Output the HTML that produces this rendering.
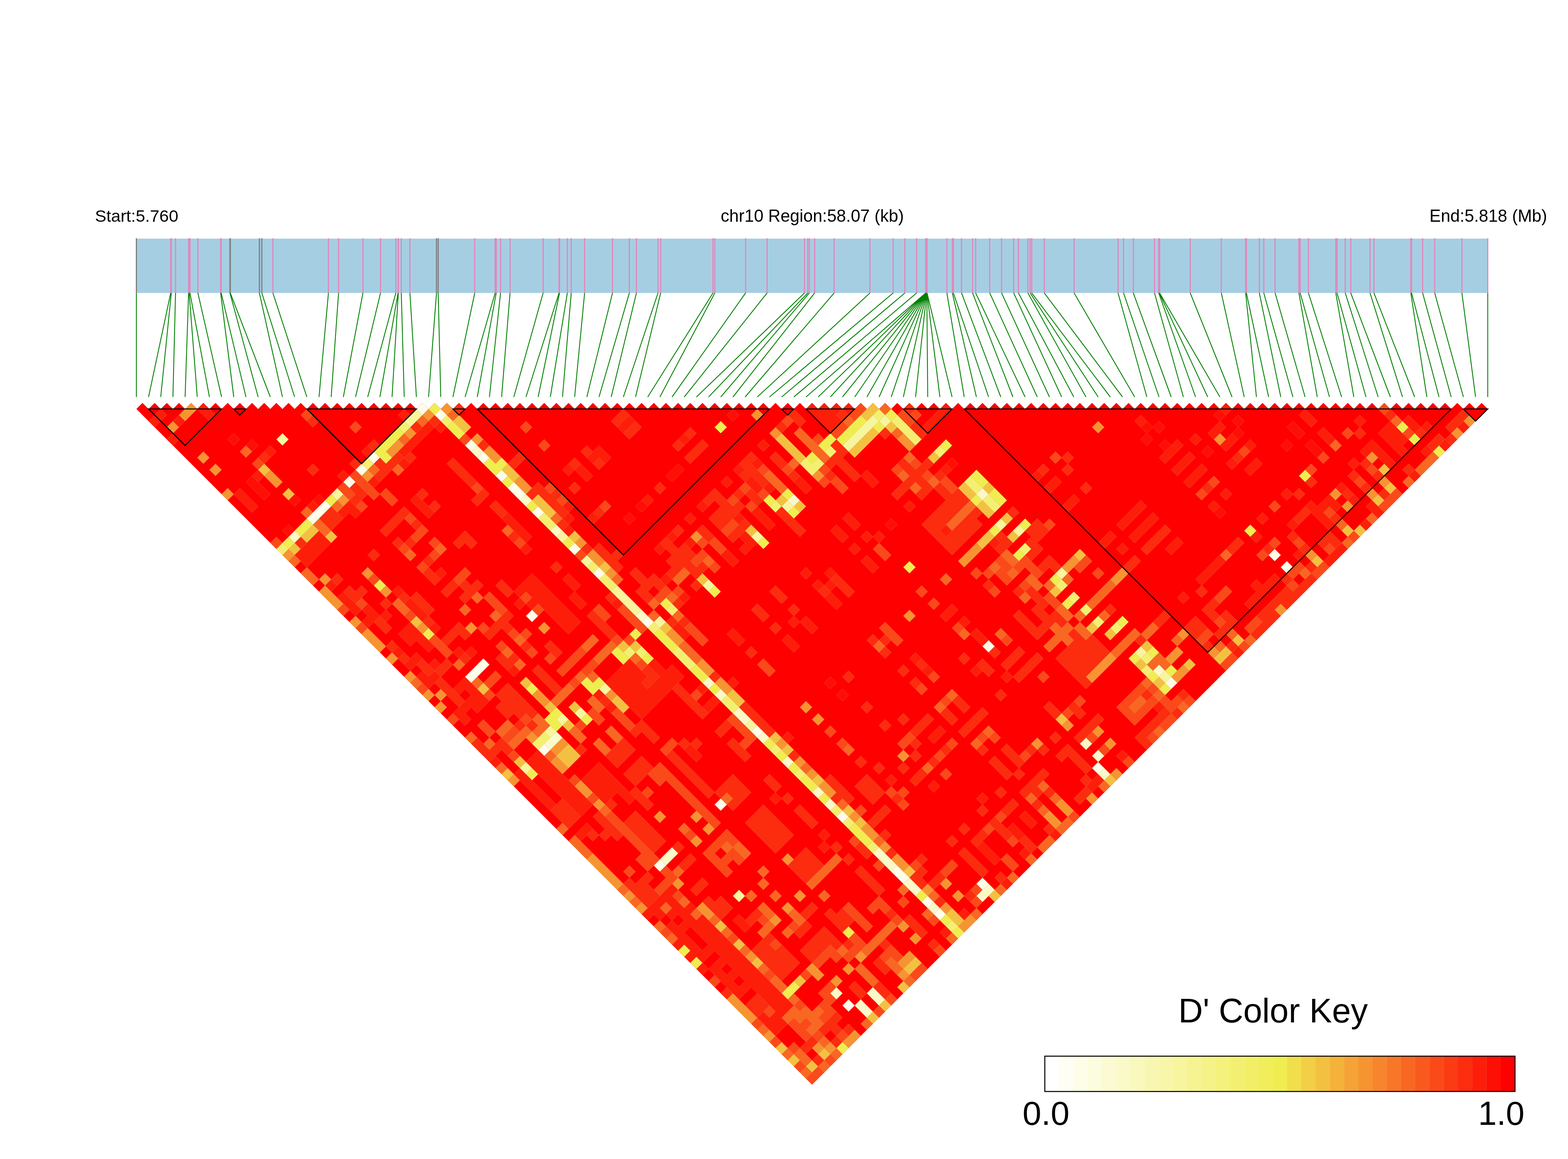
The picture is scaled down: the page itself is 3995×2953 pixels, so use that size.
<!DOCTYPE html>
<html lang="en"><head><meta charset="utf-8"><title>LD heatmap chr10</title>
<style>
html,body{margin:0;padding:0;background:#fff}
body{width:3995px;height:2953px;overflow:hidden}
svg{display:block}
text{font-family:"Liberation Sans",sans-serif;fill:#000}
</style></head>
<body>
<svg width="3995" height="2953" viewBox="0 0 3995 2953">
<rect width="3995" height="2953" fill="#fff"/>
<text x="242" y="565" font-size="43.4">Start:5.760</text>
<text x="2069.7" y="565" font-size="43.5" text-anchor="middle">chr10 Region:58.07 (kb)</text>
<text x="3941.8" y="565" font-size="43.5" text-anchor="end">End:5.818 (Mb)</text>
<rect x="347.5" y="608.0" width="3443.0" height="138.5" fill="#A6CEE3"/>
<path d="M347.5 607.0V746.5M585.8 607.0V746.5M586.8 607.0V746.5M660.9 607.0V746.5M667.1 607.0V746.5M1112.1 607.0V746.5M1116.4 607.0V746.5" stroke="#808080" stroke-width="3" fill="none"/>
<path d="M434.9 607.0V746.5M436.5 607.0V746.5M447.2 607.0V746.5M480.5 607.0V746.5M481.9 607.0V746.5M484.0 607.0V746.5M504.2 607.0V746.5M562.1 607.0V746.5M563.5 607.0V746.5M695.3 607.0V746.5M836.8 607.0V746.5M862.6 607.0V746.5M924.7 607.0V746.5M969.5 607.0V746.5M1008.5 607.0V746.5M1014.2 607.0V746.5M1014.9 607.0V746.5M1022.4 607.0V746.5M1044.4 607.0V746.5M1209.5 607.0V746.5M1261.6 607.0V746.5M1264.3 607.0V746.5M1275.3 607.0V746.5M1299.5 607.0V746.5M1383.8 607.0V746.5M1424.3 607.0V746.5M1425.6 607.0V746.5M1445.5 607.0V746.5M1455.4 607.0V746.5M1489.5 607.0V746.5M1560.5 607.0V746.5M1603.5 607.0V746.5M1621.5 607.0V746.5M1676.5 607.0V746.5M1683.2 607.0V746.5M1816.6 607.0V746.5M1821.2 607.0V746.5M1899.6 607.0V746.5M1954.4 607.0V746.5M2049.7 607.0V746.5M2058.0 607.0V746.5M2062.0 607.0V746.5M2075.6 607.0V746.5M2125.2 607.0V746.5M2216.5 607.0V746.5M2275.6 607.0V746.5M2305.4 607.0V746.5M2335.4 607.0V746.5M2358.6 607.0V746.5M2358.9 607.0V746.5M2359.2 607.0V746.5M2359.5 607.0V746.5M2359.8 607.0V746.5M2360.0 607.0V746.5M2360.2 607.0V746.5M2360.5 607.0V746.5M2360.8 607.0V746.5M2361.1 607.0V746.5M2361.4 607.0V746.5M2361.7 607.0V746.5M2362.0 607.0V746.5M2412.5 607.0V746.5M2426.4 607.0V746.5M2429.1 607.0V746.5M2449.8 607.0V746.5M2478.0 607.0V746.5M2485.8 607.0V746.5M2521.7 607.0V746.5M2551.8 607.0V746.5M2582.7 607.0V746.5M2594.8 607.0V746.5M2618.9 607.0V746.5M2624.6 607.0V746.5M2628.6 607.0V746.5M2660.7 607.0V746.5M2736.6 607.0V746.5M2848.6 607.0V746.5M2862.6 607.0V746.5M2887.5 607.0V746.5M2941.5 607.0V746.5M2952.2 607.0V746.5M2953.6 607.0V746.5M2954.6 607.0V746.5M3032.5 607.0V746.5M3111.7 607.0V746.5M3173.7 607.0V746.5M3175.6 607.0V746.5M3208.6 607.0V746.5M3219.9 607.0V746.5M3248.7 607.0V746.5M3309.4 607.0V746.5M3312.6 607.0V746.5M3333.6 607.0V746.5M3403.4 607.0V746.5M3406.6 607.0V746.5M3427.5 607.0V746.5M3441.5 607.0V746.5M3490.6 607.0V746.5M3500.5 607.0V746.5M3594.5 607.0V746.5M3596.4 607.0V746.5M3624.6 607.0V746.5M3655.4 607.0V746.5M3724.7 607.0V746.5M3790.5 607.0V746.5" stroke="#E088BC" stroke-width="3" fill="none"/>
<path d="M347.5 746.5L347.5 1011.5M434.9 746.5L378.5 1011.5M436.5 746.5L409.5 1011.5M447.2 746.5L440.6 1011.5M480.5 746.5L471.6 1011.5M481.9 746.5L502.6 1011.5M484.0 746.5L533.6 1011.5M504.2 746.5L564.6 1011.5M562.1 746.5L595.6 1011.5M563.5 746.5L626.7 1011.5M585.8 746.5L657.7 1011.5M586.8 746.5L688.7 1011.5M660.9 746.5L719.7 1011.5M667.1 746.5L750.7 1011.5M695.3 746.5L781.8 1011.5M836.8 746.5L812.8 1011.5M862.6 746.5L843.8 1011.5M924.7 746.5L874.8 1011.5M969.5 746.5L905.8 1011.5M1008.5 746.5L936.8 1011.5M1014.2 746.5L967.9 1011.5M1014.9 746.5L998.9 1011.5M1022.4 746.5L1029.9 1011.5M1044.4 746.5L1060.9 1011.5M1112.1 746.5L1091.9 1011.5M1116.4 746.5L1123.0 1011.5M1209.5 746.5L1154.0 1011.5M1261.6 746.5L1185.0 1011.5M1264.3 746.5L1216.0 1011.5M1275.3 746.5L1247.0 1011.5M1299.5 746.5L1278.0 1011.5M1383.8 746.5L1309.1 1011.5M1424.3 746.5L1340.1 1011.5M1425.6 746.5L1371.1 1011.5M1445.5 746.5L1402.1 1011.5M1455.4 746.5L1433.1 1011.5M1489.5 746.5L1464.1 1011.5M1560.5 746.5L1495.2 1011.5M1603.5 746.5L1526.2 1011.5M1621.5 746.5L1557.2 1011.5M1676.5 746.5L1588.2 1011.5M1683.2 746.5L1619.2 1011.5M1816.6 746.5L1650.3 1011.5M1821.2 746.5L1681.3 1011.5M1899.6 746.5L1712.3 1011.5M1954.4 746.5L1743.3 1011.5M2049.7 746.5L1774.3 1011.5M2058.0 746.5L1805.3 1011.5M2062.0 746.5L1836.4 1011.5M2075.6 746.5L1867.4 1011.5M2125.2 746.5L1898.4 1011.5M2216.5 746.5L1929.4 1011.5M2275.6 746.5L1960.4 1011.5M2305.4 746.5L1991.5 1011.5M2335.4 746.5L2022.5 1011.5M2358.6 746.5L2053.5 1011.5M2358.9 746.5L2084.5 1011.5M2359.2 746.5L2115.5 1011.5M2359.5 746.5L2146.5 1011.5M2359.8 746.5L2177.6 1011.5M2360.0 746.5L2208.6 1011.5M2360.2 746.5L2239.6 1011.5M2360.5 746.5L2270.6 1011.5M2360.8 746.5L2301.6 1011.5M2361.1 746.5L2332.7 1011.5M2361.4 746.5L2363.7 1011.5M2361.7 746.5L2394.7 1011.5M2362.0 746.5L2425.7 1011.5M2412.5 746.5L2456.7 1011.5M2426.4 746.5L2487.7 1011.5M2429.1 746.5L2518.8 1011.5M2449.8 746.5L2549.8 1011.5M2478.0 746.5L2580.8 1011.5M2485.8 746.5L2611.8 1011.5M2521.7 746.5L2642.8 1011.5M2551.8 746.5L2673.8 1011.5M2582.7 746.5L2704.9 1011.5M2594.8 746.5L2735.9 1011.5M2618.9 746.5L2766.9 1011.5M2624.6 746.5L2797.9 1011.5M2628.6 746.5L2828.9 1011.5M2660.7 746.5L2860.0 1011.5M2736.6 746.5L2891.0 1011.5M2848.6 746.5L2922.0 1011.5M2862.6 746.5L2953.0 1011.5M2887.5 746.5L2984.0 1011.5M2941.5 746.5L3015.0 1011.5M2952.2 746.5L3046.1 1011.5M2953.6 746.5L3077.1 1011.5M2954.6 746.5L3108.1 1011.5M3032.5 746.5L3139.1 1011.5M3111.7 746.5L3170.1 1011.5M3173.7 746.5L3201.2 1011.5M3175.6 746.5L3232.2 1011.5M3208.6 746.5L3263.2 1011.5M3219.9 746.5L3294.2 1011.5M3248.7 746.5L3325.2 1011.5M3309.4 746.5L3356.2 1011.5M3312.6 746.5L3387.3 1011.5M3333.6 746.5L3418.3 1011.5M3403.4 746.5L3449.3 1011.5M3406.6 746.5L3480.3 1011.5M3427.5 746.5L3511.3 1011.5M3441.5 746.5L3542.4 1011.5M3490.6 746.5L3573.4 1011.5M3500.5 746.5L3604.4 1011.5M3594.5 746.5L3635.4 1011.5M3596.4 746.5L3666.4 1011.5M3624.6 746.5L3697.4 1011.5M3655.4 746.5L3728.5 1011.5M3724.7 746.5L3759.5 1011.5M3790.5 746.5L3790.5 1011.5" stroke="#008000" stroke-width="2.2" fill="none"/>
<polygon points="347.5,1042.0 363.0,1026.5 378.5,1042.0 394.0,1026.5 409.5,1042.0 425.0,1026.5 440.6,1042.0 456.1,1026.5 471.6,1042.0 487.1,1026.5 502.6,1042.0 518.1,1026.5 533.6,1042.0 549.1,1026.5 564.6,1042.0 580.1,1026.5 595.6,1042.0 611.2,1026.5 626.7,1042.0 642.2,1026.5 657.7,1042.0 673.2,1026.5 688.7,1042.0 704.2,1026.5 719.7,1042.0 735.2,1026.5 750.7,1042.0 766.2,1026.5 781.8,1042.0 797.3,1026.5 812.8,1042.0 828.3,1026.5 843.8,1042.0 859.3,1026.5 874.8,1042.0 890.3,1026.5 905.8,1042.0 921.3,1026.5 936.8,1042.0 952.4,1026.5 967.9,1042.0 983.4,1026.5 998.9,1042.0 1014.4,1026.5 1029.9,1042.0 1045.4,1026.5 1060.9,1042.0 1076.4,1026.5 1091.9,1042.0 1107.4,1026.5 1123.0,1042.0 1138.5,1026.5 1154.0,1042.0 1169.5,1026.5 1185.0,1042.0 1200.5,1026.5 1216.0,1042.0 1231.5,1026.5 1247.0,1042.0 1262.5,1026.5 1278.0,1042.0 1293.5,1026.5 1309.1,1042.0 1324.6,1026.5 1340.1,1042.0 1355.6,1026.5 1371.1,1042.0 1386.6,1026.5 1402.1,1042.0 1417.6,1026.5 1433.1,1042.0 1448.6,1026.5 1464.1,1042.0 1479.7,1026.5 1495.2,1042.0 1510.7,1026.5 1526.2,1042.0 1541.7,1026.5 1557.2,1042.0 1572.7,1026.5 1588.2,1042.0 1603.7,1026.5 1619.2,1042.0 1634.7,1026.5 1650.3,1042.0 1665.8,1026.5 1681.3,1042.0 1696.8,1026.5 1712.3,1042.0 1727.8,1026.5 1743.3,1042.0 1758.8,1026.5 1774.3,1042.0 1789.8,1026.5 1805.3,1042.0 1820.9,1026.5 1836.4,1042.0 1851.9,1026.5 1867.4,1042.0 1882.9,1026.5 1898.4,1042.0 1913.9,1026.5 1929.4,1042.0 1944.9,1026.5 1960.4,1042.0 1975.9,1026.5 1991.5,1042.0 2007.0,1026.5 2022.5,1042.0 2038.0,1026.5 2053.5,1042.0 2069.0,1026.5 2084.5,1042.0 2100.0,1026.5 2115.5,1042.0 2131.0,1026.5 2146.5,1042.0 2162.1,1026.5 2177.6,1042.0 2193.1,1026.5 2208.6,1042.0 2224.1,1026.5 2239.6,1042.0 2255.1,1026.5 2270.6,1042.0 2286.1,1026.5 2301.6,1042.0 2317.1,1026.5 2332.7,1042.0 2348.2,1026.5 2363.7,1042.0 2379.2,1026.5 2394.7,1042.0 2410.2,1026.5 2425.7,1042.0 2441.2,1026.5 2456.7,1042.0 2472.2,1026.5 2487.7,1042.0 2503.3,1026.5 2518.8,1042.0 2534.3,1026.5 2549.8,1042.0 2565.3,1026.5 2580.8,1042.0 2596.3,1026.5 2611.8,1042.0 2627.3,1026.5 2642.8,1042.0 2658.3,1026.5 2673.8,1042.0 2689.4,1026.5 2704.9,1042.0 2720.4,1026.5 2735.9,1042.0 2751.4,1026.5 2766.9,1042.0 2782.4,1026.5 2797.9,1042.0 2813.4,1026.5 2828.9,1042.0 2844.4,1026.5 2860.0,1042.0 2875.5,1026.5 2891.0,1042.0 2906.5,1026.5 2922.0,1042.0 2937.5,1026.5 2953.0,1042.0 2968.5,1026.5 2984.0,1042.0 2999.5,1026.5 3015.0,1042.0 3030.6,1026.5 3046.1,1042.0 3061.6,1026.5 3077.1,1042.0 3092.6,1026.5 3108.1,1042.0 3123.6,1026.5 3139.1,1042.0 3154.6,1026.5 3170.1,1042.0 3185.6,1026.5 3201.2,1042.0 3216.7,1026.5 3232.2,1042.0 3247.7,1026.5 3263.2,1042.0 3278.7,1026.5 3294.2,1042.0 3309.7,1026.5 3325.2,1042.0 3340.7,1026.5 3356.2,1042.0 3371.8,1026.5 3387.3,1042.0 3402.8,1026.5 3418.3,1042.0 3433.8,1026.5 3449.3,1042.0 3464.8,1026.5 3480.3,1042.0 3495.8,1026.5 3511.3,1042.0 3526.8,1026.5 3542.4,1042.0 3557.9,1026.5 3573.4,1042.0 3588.9,1026.5 3604.4,1042.0 3619.9,1026.5 3635.4,1042.0 3650.9,1026.5 3666.4,1042.0 3681.9,1026.5 3697.4,1042.0 3713.0,1026.5 3728.5,1042.0 3744.0,1026.5 3759.5,1042.0 3775.0,1026.5 3790.5,1042.0 2069.0,2763.5" fill="#FF0000"/>
<path d="M797.261 1305.65l15.509 15.509-15.509 15.509-15.509-15.509zM1200.49 1708.89l15.509 15.509-15.509 15.509-15.509-15.509zM1386.6 1894.99l15.509 15.509-15.509 15.509-15.509-15.509zM1681.27 2189.67l15.509 15.509-15.509 15.509-15.509-15.509zM812.77 1290.14l15.509 15.509-15.509 15.509-15.509-15.509zM1216 1693.38l15.509 15.509-15.509 15.509-15.509-15.509zM828.279 1274.63l15.509 15.509-15.509 15.509-15.509-15.509zM1231.51 1677.87l15.509 15.509-15.509 15.509-15.509-15.509zM2162.05 2546.37l15.509 15.509-15.509 15.509-15.509-15.509zM890.315 1212.6l15.509 15.509-15.509 15.509-15.509-15.509zM921.333 1181.58l15.509 15.509-15.509 15.509-15.509-15.509zM952.351 1150.56l15.509 15.509-15.509 15.509-15.509-15.509zM1355.59 1553.8l15.509 15.509-15.509 15.509-15.509-15.509zM1836.36 2034.58l15.509 15.509-15.509 15.509-15.509-15.509zM1076.42 1026.49l15.509 15.509-15.509 15.509-15.509-15.509zM1122.95 1042l15.509 15.509-15.509 15.509-15.509-15.509zM1200.49 1119.55l15.509 15.509-15.509 15.509-15.509-15.509zM1231.51 1150.56l15.509 15.509-15.509 15.509-15.509-15.509zM1278.04 1197.09l15.509 15.509-15.509 15.509-15.509-15.509zM1309.06 1228.11l15.509 15.509-15.509 15.509-15.509-15.509zM1324.57 1243.62l15.509 15.509-15.509 15.509-15.509-15.509zM1371.09 1290.14l15.509 15.509-15.509 15.509-15.509-15.509zM1464.15 1383.2l15.509 15.509-15.509 15.509-15.509-15.509zM1526.18 1445.23l15.509 15.509-15.509 15.509-15.509-15.509zM1650.26 1569.31l15.509 15.509-15.509 15.509-15.509-15.509zM1929.42 1848.47l15.509 15.509-15.509 15.509-15.509-15.509zM2146.54 2065.59l15.509 15.509-15.509 15.509-15.509-15.509zM2286.12 2205.18l15.509 15.509-15.509 15.509-15.509-15.509zM2301.63 2220.68l15.509 15.509-15.509 15.509-15.509-15.509zM2363.67 2282.72l15.509 15.509-15.509 15.509-15.509-15.509zM2394.69 2313.74l15.509 15.509-15.509 15.509-15.509-15.509zM2503.25 2236.19l15.509 15.509-15.509 15.509-15.509-15.509zM2797.92 1941.52l15.509 15.509-15.509 15.509-15.509-15.509zM2518.76 1631.34l15.509 15.509-15.509 15.509-15.509-15.509zM2984.03 1724.4l15.509 15.509-15.509 15.509-15.509-15.509zM3247.68 1398.71l15.509 15.509-15.509 15.509-15.509-15.509zM3278.7 1429.72l15.509 15.509-15.509 15.509-15.509-15.509z" fill="#FDFDE9"/>
<path d="M750.734 1352.18l15.509 15.509-15.509 15.509-15.509-15.509zM1402.11 1879.49l15.509 15.509-15.509 15.509-15.509-15.509zM1696.78 2174.16l15.509 15.509-15.509 15.509-15.509-15.509zM1417.62 1863.98l15.509 15.509-15.509 15.509-15.509-15.509zM1712.29 2158.65l15.509 15.509-15.509 15.509-15.509-15.509zM2131.03 2515.36l15.509 15.509-15.509 15.509-15.509-15.509zM2193.07 2546.37l15.509 15.509-15.509 15.509-15.509-15.509zM2208.58 2561.88l15.509 15.509-15.509 15.509-15.509-15.509zM2224.09 2515.36l15.509 15.509-15.509 15.509-15.509-15.509zM2239.6 2530.86l15.509 15.509-15.509 15.509-15.509-15.509zM1216 1135.05l15.509 15.509-15.509 15.509-15.509-15.509zM1340.08 1259.13l15.509 15.509-15.509 15.509-15.509-15.509zM1417.62 1336.67l15.509 15.509-15.509 15.509-15.509-15.509zM1634.75 1553.8l15.509 15.509-15.509 15.509-15.509-15.509zM1805.35 1724.4l15.509 15.509-15.509 15.509-15.509-15.509zM1836.36 1755.41l15.509 15.509-15.509 15.509-15.509-15.509zM1882.89 1801.94l15.509 15.509-15.509 15.509-15.509-15.509zM1898.4 1817.45l15.509 15.509-15.509 15.509-15.509-15.509zM1944.93 1863.98l15.509 15.509-15.509 15.509-15.509-15.509zM2006.96 1926.01l15.509 15.509-15.509 15.509-15.509-15.509zM2084.51 2003.56l15.509 15.509-15.509 15.509-15.509-15.509zM2115.53 2034.58l15.509 15.509-15.509 15.509-15.509-15.509zM2239.6 2158.65l15.509 15.509-15.509 15.509-15.509-15.509zM2255.11 2174.16l15.509 15.509-15.509 15.509-15.509-15.509zM2270.62 2189.67l15.509 15.509-15.509 15.509-15.509-15.509zM2317.14 2236.19l15.509 15.509-15.509 15.509-15.509-15.509zM2332.65 2251.7l15.509 15.509-15.509 15.509-15.509-15.509zM2379.18 2298.23l15.509 15.509-15.509 15.509-15.509-15.509zM2503.25 2267.21l15.509 15.509-15.509 15.509-15.509-15.509zM2518.76 2251.7l15.509 15.509-15.509 15.509-15.509-15.509zM2022.47 1259.13l15.509 15.509-15.509 15.509-15.509-15.509zM2813.43 1957.03l15.509 15.509-15.509 15.509-15.509-15.509zM2766.9 1879.49l15.509 15.509-15.509 15.509-15.509-15.509zM2797.92 1910.5l15.509 15.509-15.509 15.509-15.509-15.509zM2503.25 1243.62l15.509 15.509-15.509 15.509-15.509-15.509zM2953.01 1693.38l15.509 15.509-15.509 15.509-15.509-15.509z" fill="#FAF9C8"/>
<path d="M1340.08 1941.52l15.509 15.509-15.509 15.509-15.509-15.509zM1402.11 1848.47l15.509 15.509-15.509 15.509-15.509-15.509zM719.716 1104.04l15.509 15.509-15.509 15.509-15.509-15.509zM859.297 1243.62l15.509 15.509-15.509 15.509-15.509-15.509zM1433.13 1817.45l15.509 15.509-15.509 15.509-15.509-15.509zM1882.89 2267.21l15.509 15.509-15.509 15.509-15.509-15.509zM1479.66 1801.94l15.509 15.509-15.509 15.509-15.509-15.509zM1541.69 1739.9l15.509 15.509-15.509 15.509-15.509-15.509zM1045.4 1057.51l15.509 15.509-15.509 15.509-15.509-15.509zM1060.91 1042l15.509 15.509-15.509 15.509-15.509-15.509zM1433.13 1352.18l15.509 15.509-15.509 15.509-15.509-15.509zM1495.17 1414.22l15.509 15.509-15.509 15.509-15.509-15.509zM1572.71 1491.76l15.509 15.509-15.509 15.509-15.509-15.509zM1588.22 1507.27l15.509 15.509-15.509 15.509-15.509-15.509zM1603.73 1522.78l15.509 15.509-15.509 15.509-15.509-15.509zM1619.24 1538.29l15.509 15.509-15.509 15.509-15.509-15.509zM1913.91 1832.96l15.509 15.509-15.509 15.509-15.509-15.509zM1681.27 1569.31l15.509 15.509-15.509 15.509-15.509-15.509zM1805.35 1476.25l15.509 15.509-15.509 15.509-15.509-15.509zM1929.42 1352.18l15.509 15.509-15.509 15.509-15.509-15.509zM2006.96 1274.63l15.509 15.509-15.509 15.509-15.509-15.509zM2162.05 1119.55l15.509 15.509-15.509 15.509-15.509-15.509zM2177.56 1104.04l15.509 15.509-15.509 15.509-15.509-15.509zM2193.07 1088.53l15.509 15.509-15.509 15.509-15.509-15.509zM2208.58 1073.02l15.509 15.509-15.509 15.509-15.509-15.509zM2224.09 1057.51l15.509 15.509-15.509 15.509-15.509-15.509zM2255.11 1057.51l15.509 15.509-15.509 15.509-15.509-15.509zM2549.78 1321.16l15.509 15.509-15.509 15.509-15.509-15.509zM2596.3 1336.67l15.509 15.509-15.509 15.509-15.509-15.509zM2704.87 1445.23l15.509 15.509-15.509 15.509-15.509-15.509zM2906.49 1646.85l15.509 15.509-15.509 15.509-15.509-15.509zM2968.52 1708.89l15.509 15.509-15.509 15.509-15.509-15.509z" fill="#F7F59D"/>
<path d="M719.716 1383.2l15.509 15.509-15.509 15.509-15.509-15.509zM1371.09 1879.49l15.509 15.509-15.509 15.509-15.509-15.509zM1386.6 1863.98l15.509 15.509-15.509 15.509-15.509-15.509zM936.842 1166.07l15.509 15.509-15.509 15.509-15.509-15.509zM1029.9 1073.02l15.509 15.509-15.509 15.509-15.509-15.509zM1603.73 1646.85l15.509 15.509-15.509 15.509-15.509-15.509zM1634.75 1646.85l15.509 15.509-15.509 15.509-15.509-15.509zM1138.46 1057.51l15.509 15.509-15.509 15.509-15.509-15.509zM1386.6 1305.65l15.509 15.509-15.509 15.509-15.509-15.509zM1402.11 1321.16l15.509 15.509-15.509 15.509-15.509-15.509zM1510.67 1429.72l15.509 15.509-15.509 15.509-15.509-15.509zM1541.69 1460.74l15.509 15.509-15.509 15.509-15.509-15.509zM1557.2 1476.25l15.509 15.509-15.509 15.509-15.509-15.509zM1665.77 1584.82l15.509 15.509-15.509 15.509-15.509-15.509zM1727.8 1646.85l15.509 15.509-15.509 15.509-15.509-15.509zM1743.31 1662.36l15.509 15.509-15.509 15.509-15.509-15.509zM1758.82 1677.87l15.509 15.509-15.509 15.509-15.509-15.509zM1851.87 1770.92l15.509 15.509-15.509 15.509-15.509-15.509zM1867.38 1786.43l15.509 15.509-15.509 15.509-15.509-15.509zM1975.94 1894.99l15.509 15.509-15.509 15.509-15.509-15.509zM2037.98 1957.03l15.509 15.509-15.509 15.509-15.509-15.509zM2131.03 2050.09l15.509 15.509-15.509 15.509-15.509-15.509zM2162.05 2081.1l15.509 15.509-15.509 15.509-15.509-15.509zM2224.09 2143.14l15.509 15.509-15.509 15.509-15.509-15.509zM2425.71 2344.76l15.509 15.509-15.509 15.509-15.509-15.509zM1712.29 1538.29l15.509 15.509-15.509 15.509-15.509-15.509zM1975.94 1274.63l15.509 15.509-15.509 15.509-15.509-15.509zM2053.49 1166.07l15.509 15.509-15.509 15.509-15.509-15.509zM2069 1181.58l15.509 15.509-15.509 15.509-15.509-15.509zM2084.51 1166.07l15.509 15.509-15.509 15.509-15.509-15.509zM2115.53 1135.05l15.509 15.509-15.509 15.509-15.509-15.509zM2239.6 1042l15.509 15.509-15.509 15.509-15.509-15.509zM2286.12 1057.51l15.509 15.509-15.509 15.509-15.509-15.509zM2301.63 1073.02l15.509 15.509-15.509 15.509-15.509-15.509zM2317.14 1088.53l15.509 15.509-15.509 15.509-15.509-15.509zM2332.65 1104.04l15.509 15.509-15.509 15.509-15.509-15.509zM2611.81 1383.2l15.509 15.509-15.509 15.509-15.509-15.509zM2704.87 1476.25l15.509 15.509-15.509 15.509-15.509-15.509zM2735.89 1507.27l15.509 15.509-15.509 15.509-15.509-15.509zM2766.9 1538.29l15.509 15.509-15.509 15.509-15.509-15.509zM2797.92 1569.31l15.509 15.509-15.509 15.509-15.509-15.509zM2921.99 1693.38l15.509 15.509-15.509 15.509-15.509-15.509zM2394.69 1135.05l15.509 15.509-15.509 15.509-15.509-15.509zM2472.23 1212.6l15.509 15.509-15.509 15.509-15.509-15.509zM2487.74 1228.11l15.509 15.509-15.509 15.509-15.509-15.509zM2518.76 1259.13l15.509 15.509-15.509 15.509-15.509-15.509zM2534.27 1274.63l15.509 15.509-15.509 15.509-15.509-15.509zM2844.45 1584.82l15.509 15.509-15.509 15.509-15.509-15.509zM2921.99 1662.36l15.509 15.509-15.509 15.509-15.509-15.509z" fill="#F3F071"/>
<path d="M1743.31 2406.79l15.509 15.509-15.509 15.509-15.509-15.509zM1774.33 2437.81l15.509 15.509-15.509 15.509-15.509-15.509zM735.225 1367.69l15.509 15.509-15.509 15.509-15.509-15.509zM1355.59 1957.03l15.509 15.509-15.509 15.509-15.509-15.509zM766.243 1336.67l15.509 15.509-15.509 15.509-15.509-15.509zM781.752 1321.16l15.509 15.509-15.509 15.509-15.509-15.509zM967.86 1476.25l15.509 15.509-15.509 15.509-15.509-15.509zM1091.93 1600.32l15.509 15.509-15.509 15.509-15.509-15.509zM2006.96 2515.36l15.509 15.509-15.509 15.509-15.509-15.509zM2146.54 2654.94l15.509 15.509-15.509 15.509-15.509-15.509zM2022.47 2499.85l15.509 15.509-15.509 15.509-15.509-15.509zM843.788 1259.13l15.509 15.509-15.509 15.509-15.509-15.509zM1402.11 1817.45l15.509 15.509-15.509 15.509-15.509-15.509zM1417.62 1832.96l15.509 15.509-15.509 15.509-15.509-15.509zM1355.59 1739.9l15.509 15.509-15.509 15.509-15.509-15.509zM1417.62 1801.94l15.509 15.509-15.509 15.509-15.509-15.509zM1495.17 1817.45l15.509 15.509-15.509 15.509-15.509-15.509zM1495.17 1724.4l15.509 15.509-15.509 15.509-15.509-15.509zM1510.67 1739.9l15.509 15.509-15.509 15.509-15.509-15.509zM1526.18 1724.4l15.509 15.509-15.509 15.509-15.509-15.509zM2162.05 2360.27l15.509 15.509-15.509 15.509-15.509-15.509zM967.86 1135.05l15.509 15.509-15.509 15.509-15.509-15.509zM983.369 1150.56l15.509 15.509-15.509 15.509-15.509-15.509zM983.369 1119.55l15.509 15.509-15.509 15.509-15.509-15.509zM998.878 1104.04l15.509 15.509-15.509 15.509-15.509-15.509zM1014.39 1088.53l15.509 15.509-15.509 15.509-15.509-15.509zM1572.71 1646.85l15.509 15.509-15.509 15.509-15.509-15.509zM1588.22 1662.36l15.509 15.509-15.509 15.509-15.509-15.509zM1650.26 1662.36l15.509 15.509-15.509 15.509-15.509-15.509zM1619.24 1600.32l15.509 15.509-15.509 15.509-15.509-15.509zM1107.44 1026.49l15.509 15.509-15.509 15.509-15.509-15.509zM1153.97 1073.02l15.509 15.509-15.509 15.509-15.509-15.509zM1169.48 1088.53l15.509 15.509-15.509 15.509-15.509-15.509zM1247.02 1166.07l15.509 15.509-15.509 15.509-15.509-15.509zM1262.53 1181.58l15.509 15.509-15.509 15.509-15.509-15.509zM1293.55 1212.6l15.509 15.509-15.509 15.509-15.509-15.509zM1355.59 1274.63l15.509 15.509-15.509 15.509-15.509-15.509zM1448.64 1367.69l15.509 15.509-15.509 15.509-15.509-15.509zM1681.27 1600.32l15.509 15.509-15.509 15.509-15.509-15.509zM1696.78 1615.83l15.509 15.509-15.509 15.509-15.509-15.509zM1712.29 1631.34l15.509 15.509-15.509 15.509-15.509-15.509zM1774.33 1693.38l15.509 15.509-15.509 15.509-15.509-15.509zM1789.84 1708.89l15.509 15.509-15.509 15.509-15.509-15.509zM1820.86 1739.9l15.509 15.509-15.509 15.509-15.509-15.509zM1960.44 1879.49l15.509 15.509-15.509 15.509-15.509-15.509zM1991.45 1910.5l15.509 15.509-15.509 15.509-15.509-15.509zM2022.47 1941.52l15.509 15.509-15.509 15.509-15.509-15.509zM2053.49 1972.54l15.509 15.509-15.509 15.509-15.509-15.509zM2069 1988.05l15.509 15.509-15.509 15.509-15.509-15.509zM2100.02 2019.07l15.509 15.509-15.509 15.509-15.509-15.509zM2177.56 2096.61l15.509 15.509-15.509 15.509-15.509-15.509zM2193.07 2112.12l15.509 15.509-15.509 15.509-15.509-15.509zM2208.58 2127.63l15.509 15.509-15.509 15.509-15.509-15.509zM2348.16 2267.21l15.509 15.509-15.509 15.509-15.509-15.509zM2410.2 2329.25l15.509 15.509-15.509 15.509-15.509-15.509zM2441.22 2360.27l15.509 15.509-15.509 15.509-15.509-15.509zM1278.04 1166.07l15.509 15.509-15.509 15.509-15.509-15.509zM1696.78 1522.78l15.509 15.509-15.509 15.509-15.509-15.509zM1820.86 1491.76l15.509 15.509-15.509 15.509-15.509-15.509zM1944.93 1367.69l15.509 15.509-15.509 15.509-15.509-15.509zM1960.44 1259.13l15.509 15.509-15.509 15.509-15.509-15.509zM2022.47 1290.14l15.509 15.509-15.509 15.509-15.509-15.509zM1836.36 1073.02l15.509 15.509-15.509 15.509-15.509-15.509zM2006.96 1243.62l15.509 15.509-15.509 15.509-15.509-15.509zM2317.14 1429.72l15.509 15.509-15.509 15.509-15.509-15.509zM2069 1150.56l15.509 15.509-15.509 15.509-15.509-15.509zM2100.02 1119.55l15.509 15.509-15.509 15.509-15.509-15.509zM2115.53 1104.04l15.509 15.509-15.509 15.509-15.509-15.509zM2146.54 1104.04l15.509 15.509-15.509 15.509-15.509-15.509zM2162.05 1088.53l15.509 15.509-15.509 15.509-15.509-15.509zM2177.56 1073.02l15.509 15.509-15.509 15.509-15.509-15.509zM2193.07 1057.51l15.509 15.509-15.509 15.509-15.509-15.509zM2239.6 1073.02l15.509 15.509-15.509 15.509-15.509-15.509zM2534.27 1336.67l15.509 15.509-15.509 15.509-15.509-15.509zM2596.3 1398.71l15.509 15.509-15.509 15.509-15.509-15.509zM2720.38 1522.78l15.509 15.509-15.509 15.509-15.509-15.509zM2270.62 1042l15.509 15.509-15.509 15.509-15.509-15.509zM2487.74 1259.13l15.509 15.509-15.509 15.509-15.509-15.509zM2689.36 1460.74l15.509 15.509-15.509 15.509-15.509-15.509zM2890.98 1662.36l15.509 15.509-15.509 15.509-15.509-15.509zM2937.5 1708.89l15.509 15.509-15.509 15.509-15.509-15.509zM2968.52 1739.9l15.509 15.509-15.509 15.509-15.509-15.509zM2410.2 1119.55l15.509 15.509-15.509 15.509-15.509-15.509zM2487.74 1197.09l15.509 15.509-15.509 15.509-15.509-15.509zM2503.25 1212.6l15.509 15.509-15.509 15.509-15.509-15.509zM2534.27 1243.62l15.509 15.509-15.509 15.509-15.509-15.509zM2549.78 1259.13l15.509 15.509-15.509 15.509-15.509-15.509zM2611.81 1321.16l15.509 15.509-15.509 15.509-15.509-15.509zM2859.96 1569.31l15.509 15.509-15.509 15.509-15.509-15.509zM2937.5 1646.85l15.509 15.509-15.509 15.509-15.509-15.509zM2984.03 1693.38l15.509 15.509-15.509 15.509-15.509-15.509zM3185.65 1336.67l15.509 15.509-15.509 15.509-15.509-15.509zM3325.23 1197.09l15.509 15.509-15.509 15.509-15.509-15.509zM3573.37 1073.02l15.509 15.509-15.509 15.509-15.509-15.509zM3604.39 1104.04l15.509 15.509-15.509 15.509-15.509-15.509zM3666.43 1135.05l15.509 15.509-15.509 15.509-15.509-15.509z" fill="#F0ED50"/>
<path d="M1293.55 1957.03l15.509 15.509-15.509 15.509-15.509-15.509zM1991.45 2654.94l15.509 15.509-15.509 15.509-15.509-15.509zM2022.47 2685.95l15.509 15.509-15.509 15.509-15.509-15.509zM750.734 1383.2l15.509 15.509-15.509 15.509-15.509-15.509zM2069 2701.46l15.509 15.509-15.509 15.509-15.509-15.509zM1324.57 1926.01l15.509 15.509-15.509 15.509-15.509-15.509zM781.752 1352.18l15.509 15.509-15.509 15.509-15.509-15.509zM2100.02 2670.44l15.509 15.509-15.509 15.509-15.509-15.509zM797.261 1336.67l15.509 15.509-15.509 15.509-15.509-15.509zM673.189 1181.58l15.509 15.509-15.509 15.509-15.509-15.509zM735.225 1243.62l15.509 15.509-15.509 15.509-15.509-15.509zM843.788 1352.18l15.509 15.509-15.509 15.509-15.509-15.509zM1060.91 1569.31l15.509 15.509-15.509 15.509-15.509-15.509zM1231.51 1739.9l15.509 15.509-15.509 15.509-15.509-15.509zM1836.36 2344.76l15.509 15.509-15.509 15.509-15.509-15.509zM1882.89 2391.28l15.509 15.509-15.509 15.509-15.509-15.509zM1929.42 2437.81l15.509 15.509-15.509 15.509-15.509-15.509zM1433.13 1910.5l15.509 15.509-15.509 15.509-15.509-15.509zM1448.64 1926.01l15.509 15.509-15.509 15.509-15.509-15.509zM1448.64 1894.99l15.509 15.509-15.509 15.509-15.509-15.509zM1464.15 1910.5l15.509 15.509-15.509 15.509-15.509-15.509zM2037.98 2484.34l15.509 15.509-15.509 15.509-15.509-15.509zM1340.08 1724.4l15.509 15.509-15.509 15.509-15.509-15.509zM1402.11 1786.43l15.509 15.509-15.509 15.509-15.509-15.509zM1448.64 1832.96l15.509 15.509-15.509 15.509-15.509-15.509zM2224.09 2577.39l15.509 15.509-15.509 15.509-15.509-15.509zM1464.15 1786.43l15.509 15.509-15.509 15.509-15.509-15.509zM2255.11 2546.37l15.509 15.509-15.509 15.509-15.509-15.509zM1572.71 1770.92l15.509 15.509-15.509 15.509-15.509-15.509zM1588.22 1786.43l15.509 15.509-15.509 15.509-15.509-15.509zM2301.63 2499.85l15.509 15.509-15.509 15.509-15.509-15.509zM2317.14 2453.32l15.509 15.509-15.509 15.509-15.509-15.509zM2332.65 2437.81l15.509 15.509-15.509 15.509-15.509-15.509zM1588.22 1631.34l15.509 15.509-15.509 15.509-15.509-15.509zM1619.24 1631.34l15.509 15.509-15.509 15.509-15.509-15.509zM1169.48 1057.51l15.509 15.509-15.509 15.509-15.509-15.509zM1184.99 1073.02l15.509 15.509-15.509 15.509-15.509-15.509zM1293.55 1181.58l15.509 15.509-15.509 15.509-15.509-15.509zM1309.06 1197.09l15.509 15.509-15.509 15.509-15.509-15.509zM1371.09 1259.13l15.509 15.509-15.509 15.509-15.509-15.509zM1386.6 1274.63l15.509 15.509-15.509 15.509-15.509-15.509zM1402.11 1290.14l15.509 15.509-15.509 15.509-15.509-15.509zM1464.15 1352.18l15.509 15.509-15.509 15.509-15.509-15.509zM1541.69 1429.72l15.509 15.509-15.509 15.509-15.509-15.509zM1696.78 1584.82l15.509 15.509-15.509 15.509-15.509-15.509zM1867.38 1755.41l15.509 15.509-15.509 15.509-15.509-15.509zM1882.89 1770.92l15.509 15.509-15.509 15.509-15.509-15.509zM1975.94 1863.98l15.509 15.509-15.509 15.509-15.509-15.509zM2006.96 1894.99l15.509 15.509-15.509 15.509-15.509-15.509zM2084.51 1972.54l15.509 15.509-15.509 15.509-15.509-15.509zM2162.05 2050.09l15.509 15.509-15.509 15.509-15.509-15.509zM2193.07 2081.1l15.509 15.509-15.509 15.509-15.509-15.509zM2317.14 2205.18l15.509 15.509-15.509 15.509-15.509-15.509zM2425.71 2313.74l15.509 15.509-15.509 15.509-15.509-15.509zM2441.22 2329.25l15.509 15.509-15.509 15.509-15.509-15.509zM2534.27 2267.21l15.509 15.509-15.509 15.509-15.509-15.509zM1789.84 1460.74l15.509 15.509-15.509 15.509-15.509-15.509zM1913.91 1336.67l15.509 15.509-15.509 15.509-15.509-15.509zM1991.45 1259.13l15.509 15.509-15.509 15.509-15.509-15.509zM2037.98 1274.63l15.509 15.509-15.509 15.509-15.509-15.509zM2828.94 1972.54l15.509 15.509-15.509 15.509-15.509-15.509zM1991.45 1104.04l15.509 15.509-15.509 15.509-15.509-15.509zM2006.96 1119.55l15.509 15.509-15.509 15.509-15.509-15.509zM2022.47 1135.05l15.509 15.509-15.509 15.509-15.509-15.509zM2037.98 1150.56l15.509 15.509-15.509 15.509-15.509-15.509zM2704.87 1817.45l15.509 15.509-15.509 15.509-15.509-15.509zM2177.56 1135.05l15.509 15.509-15.509 15.509-15.509-15.509zM2193.07 1119.55l15.509 15.509-15.509 15.509-15.509-15.509zM2208.58 1104.04l15.509 15.509-15.509 15.509-15.509-15.509zM2224.09 1088.53l15.509 15.509-15.509 15.509-15.509-15.509zM2503.25 1367.69l15.509 15.509-15.509 15.509-15.509-15.509zM2208.58 1042l15.509 15.509-15.509 15.509-15.509-15.509zM2518.76 1352.18l15.509 15.509-15.509 15.509-15.509-15.509zM2224.09 1026.49l15.509 15.509-15.509 15.509-15.509-15.509zM2270.62 1073.02l15.509 15.509-15.509 15.509-15.509-15.509zM2689.36 1491.76l15.509 15.509-15.509 15.509-15.509-15.509zM2782.41 1584.82l15.509 15.509-15.509 15.509-15.509-15.509zM2379.18 1150.56l15.509 15.509-15.509 15.509-15.509-15.509zM2456.72 1228.11l15.509 15.509-15.509 15.509-15.509-15.509zM2472.23 1243.62l15.509 15.509-15.509 15.509-15.509-15.509zM2503.25 1274.63l15.509 15.509-15.509 15.509-15.509-15.509zM2518.76 1290.14l15.509 15.509-15.509 15.509-15.509-15.509zM2580.8 1352.18l15.509 15.509-15.509 15.509-15.509-15.509zM2828.94 1600.32l15.509 15.509-15.509 15.509-15.509-15.509zM2906.49 1677.87l15.509 15.509-15.509 15.509-15.509-15.509zM2953.01 1724.4l15.509 15.509-15.509 15.509-15.509-15.509zM2565.29 1305.65l15.509 15.509-15.509 15.509-15.509-15.509zM2518.76 1228.11l15.509 15.509-15.509 15.509-15.509-15.509zM2921.99 1631.34l15.509 15.509-15.509 15.509-15.509-15.509zM2751.39 1398.71l15.509 15.509-15.509 15.509-15.509-15.509zM3030.56 1677.87l15.509 15.509-15.509 15.509-15.509-15.509zM3108.1 1662.36l15.509 15.509-15.509 15.509-15.509-15.509zM3123.61 1646.85l15.509 15.509-15.509 15.509-15.509-15.509zM3154.63 1615.83l15.509 15.509-15.509 15.509-15.509-15.509zM3356.25 1414.22l15.509 15.509-15.509 15.509-15.509-15.509zM3433.79 1336.67l15.509 15.509-15.509 15.509-15.509-15.509zM3464.81 1336.67l15.509 15.509-15.509 15.509-15.509-15.509zM3511.34 1259.13l15.509 15.509-15.509 15.509-15.509-15.509zM3542.35 1228.11l15.509 15.509-15.509 15.509-15.509-15.509zM3526.85 1181.58l15.509 15.509-15.509 15.509-15.509-15.509z" fill="#F3C141"/>
<path d="M580.135 1243.62l15.509 15.509-15.509 15.509-15.509-15.509zM735.225 1398.71l15.509 15.509-15.509 15.509-15.509-15.509zM828.279 1491.76l15.509 15.509-15.509 15.509-15.509-15.509zM843.788 1507.27l15.509 15.509-15.509 15.509-15.509-15.509zM859.297 1522.78l15.509 15.509-15.509 15.509-15.509-15.509zM905.824 1569.31l15.509 15.509-15.509 15.509-15.509-15.509zM936.842 1600.32l15.509 15.509-15.509 15.509-15.509-15.509zM952.351 1615.83l15.509 15.509-15.509 15.509-15.509-15.509zM967.86 1631.34l15.509 15.509-15.509 15.509-15.509-15.509zM998.878 1662.36l15.509 15.509-15.509 15.509-15.509-15.509zM1045.4 1708.89l15.509 15.509-15.509 15.509-15.509-15.509zM1091.93 1755.41l15.509 15.509-15.509 15.509-15.509-15.509zM1122.95 1786.43l15.509 15.509-15.509 15.509-15.509-15.509zM1309.06 1972.54l15.509 15.509-15.509 15.509-15.509-15.509zM1510.67 2174.16l15.509 15.509-15.509 15.509-15.509-15.509zM1526.18 2189.67l15.509 15.509-15.509 15.509-15.509-15.509zM1541.69 2205.18l15.509 15.509-15.509 15.509-15.509-15.509zM1557.2 2220.68l15.509 15.509-15.509 15.509-15.509-15.509zM1572.71 2236.19l15.509 15.509-15.509 15.509-15.509-15.509zM1603.73 2267.21l15.509 15.509-15.509 15.509-15.509-15.509zM1634.75 2298.23l15.509 15.509-15.509 15.509-15.509-15.509zM1867.38 2530.86l15.509 15.509-15.509 15.509-15.509-15.509zM1882.89 2546.37l15.509 15.509-15.509 15.509-15.509-15.509zM1898.4 2561.88l15.509 15.509-15.509 15.509-15.509-15.509zM1913.91 2577.39l15.509 15.509-15.509 15.509-15.509-15.509zM1960.44 2623.92l15.509 15.509-15.509 15.509-15.509-15.509zM440.554 1073.02l15.509 15.509-15.509 15.509-15.509-15.509zM518.099 1150.56l15.509 15.509-15.509 15.509-15.509-15.509zM549.117 1181.58l15.509 15.509-15.509 15.509-15.509-15.509zM828.279 1460.74l15.509 15.509-15.509 15.509-15.509-15.509zM1122.95 1755.41l15.509 15.509-15.509 15.509-15.509-15.509zM471.572 1042l15.509 15.509-15.509 15.509-15.509-15.509zM2084.51 2654.94l15.509 15.509-15.509 15.509-15.509-15.509zM487.081 1026.49l15.509 15.509-15.509 15.509-15.509-15.509zM2115.53 2654.94l15.509 15.509-15.509 15.509-15.509-15.509zM688.698 1197.09l15.509 15.509-15.509 15.509-15.509-15.509zM704.207 1212.6l15.509 15.509-15.509 15.509-15.509-15.509zM936.842 1445.23l15.509 15.509-15.509 15.509-15.509-15.509zM983.369 1491.76l15.509 15.509-15.509 15.509-15.509-15.509zM1076.42 1584.82l15.509 15.509-15.509 15.509-15.509-15.509zM1355.59 1863.98l15.509 15.509-15.509 15.509-15.509-15.509zM1417.62 1926.01l15.509 15.509-15.509 15.509-15.509-15.509zM1433.13 1941.52l15.509 15.509-15.509 15.509-15.509-15.509zM1479.66 1988.05l15.509 15.509-15.509 15.509-15.509-15.509zM1495.17 2003.56l15.509 15.509-15.509 15.509-15.509-15.509zM1526.18 2034.58l15.509 15.509-15.509 15.509-15.509-15.509zM1727.8 2236.19l15.509 15.509-15.509 15.509-15.509-15.509zM1789.84 2298.23l15.509 15.509-15.509 15.509-15.509-15.509zM1805.35 2313.74l15.509 15.509-15.509 15.509-15.509-15.509zM1913.91 2422.3l15.509 15.509-15.509 15.509-15.509-15.509zM1417.62 1894.99l15.509 15.509-15.509 15.509-15.509-15.509zM2162.05 2639.43l15.509 15.509-15.509 15.509-15.509-15.509zM1433.13 1879.49l15.509 15.509-15.509 15.509-15.509-15.509zM2177.56 2623.92l15.509 15.509-15.509 15.509-15.509-15.509zM874.806 1259.13l15.509 15.509-15.509 15.509-15.509-15.509zM1200.49 1584.82l15.509 15.509-15.509 15.509-15.509-15.509zM1371.09 1755.41l15.509 15.509-15.509 15.509-15.509-15.509zM1386.6 1770.92l15.509 15.509-15.509 15.509-15.509-15.509zM1681.27 2065.59l15.509 15.509-15.509 15.509-15.509-15.509zM2069 2453.32l15.509 15.509-15.509 15.509-15.509-15.509zM2084.51 2468.83l15.509 15.509-15.509 15.509-15.509-15.509zM1774.33 2127.63l15.509 15.509-15.509 15.509-15.509-15.509zM1975.94 2329.25l15.509 15.509-15.509 15.509-15.509-15.509zM2131.03 2484.34l15.509 15.509-15.509 15.509-15.509-15.509zM1774.33 2065.59l15.509 15.509-15.509 15.509-15.509-15.509zM1805.35 2096.61l15.509 15.509-15.509 15.509-15.509-15.509zM2006.96 2298.23l15.509 15.509-15.509 15.509-15.509-15.509zM2162.05 2453.32l15.509 15.509-15.509 15.509-15.509-15.509zM936.842 1197.09l15.509 15.509-15.509 15.509-15.509-15.509zM2037.98 2267.21l15.509 15.509-15.509 15.509-15.509-15.509zM2193.07 2422.3l15.509 15.509-15.509 15.509-15.509-15.509zM1386.6 1584.82l15.509 15.509-15.509 15.509-15.509-15.509zM1557.2 1755.41l15.509 15.509-15.509 15.509-15.509-15.509zM2006.96 2174.16l15.509 15.509-15.509 15.509-15.509-15.509zM2301.63 2468.83l15.509 15.509-15.509 15.509-15.509-15.509zM998.878 1135.05l15.509 15.509-15.509 15.509-15.509-15.509zM2301.63 2437.81l15.509 15.509-15.509 15.509-15.509-15.509zM1014.39 1119.55l15.509 15.509-15.509 15.509-15.509-15.509zM2317.14 2422.3l15.509 15.509-15.509 15.509-15.509-15.509zM1045.4 1088.53l15.509 15.509-15.509 15.509-15.509-15.509zM2301.63 2344.76l15.509 15.509-15.509 15.509-15.509-15.509zM2332.65 2375.77l15.509 15.509-15.509 15.509-15.509-15.509zM1091.93 1042l15.509 15.509-15.509 15.509-15.509-15.509zM1138.46 1026.49l15.509 15.509-15.509 15.509-15.509-15.509zM1216 1104.04l15.509 15.509-15.509 15.509-15.509-15.509zM1247.02 1135.05l15.509 15.509-15.509 15.509-15.509-15.509zM1262.53 1150.56l15.509 15.509-15.509 15.509-15.509-15.509zM1324.57 1212.6l15.509 15.509-15.509 15.509-15.509-15.509zM1340.08 1228.11l15.509 15.509-15.509 15.509-15.509-15.509zM1479.66 1367.69l15.509 15.509-15.509 15.509-15.509-15.509zM1510.67 1398.71l15.509 15.509-15.509 15.509-15.509-15.509zM1526.18 1414.22l15.509 15.509-15.509 15.509-15.509-15.509zM1557.2 1445.23l15.509 15.509-15.509 15.509-15.509-15.509zM1712.29 1600.32l15.509 15.509-15.509 15.509-15.509-15.509zM1727.8 1615.83l15.509 15.509-15.509 15.509-15.509-15.509zM1789.84 1677.87l15.509 15.509-15.509 15.509-15.509-15.509zM1805.35 1693.38l15.509 15.509-15.509 15.509-15.509-15.509zM1836.36 1724.4l15.509 15.509-15.509 15.509-15.509-15.509zM1851.87 1739.9l15.509 15.509-15.509 15.509-15.509-15.509zM1991.45 1879.49l15.509 15.509-15.509 15.509-15.509-15.509zM2037.98 1926.01l15.509 15.509-15.509 15.509-15.509-15.509zM2069 1957.03l15.509 15.509-15.509 15.509-15.509-15.509zM2100.02 1988.05l15.509 15.509-15.509 15.509-15.509-15.509zM2115.53 2003.56l15.509 15.509-15.509 15.509-15.509-15.509zM2177.56 2065.59l15.509 15.509-15.509 15.509-15.509-15.509zM2208.58 2096.61l15.509 15.509-15.509 15.509-15.509-15.509zM2224.09 2112.12l15.509 15.509-15.509 15.509-15.509-15.509zM2255.11 2143.14l15.509 15.509-15.509 15.509-15.509-15.509zM2286.12 2174.16l15.509 15.509-15.509 15.509-15.509-15.509zM2301.63 2189.67l15.509 15.509-15.509 15.509-15.509-15.509zM2363.67 2251.7l15.509 15.509-15.509 15.509-15.509-15.509zM2410.2 2298.23l15.509 15.509-15.509 15.509-15.509-15.509zM2456.72 2344.76l15.509 15.509-15.509 15.509-15.509-15.509zM2472.23 2329.25l15.509 15.509-15.509 15.509-15.509-15.509zM2410.2 2236.19l15.509 15.509-15.509 15.509-15.509-15.509zM2441.22 2267.21l15.509 15.509-15.509 15.509-15.509-15.509zM2053.49 1786.43l15.509 15.509-15.509 15.509-15.509-15.509zM2084.51 1817.45l15.509 15.509-15.509 15.509-15.509-15.509zM2301.63 1910.5l15.509 15.509-15.509 15.509-15.509-15.509zM1774.33 1352.18l15.509 15.509-15.509 15.509-15.509-15.509zM2673.85 2065.59l15.509 15.509-15.509 15.509-15.509-15.509zM2689.36 2081.1l15.509 15.509-15.509 15.509-15.509-15.509zM2704.87 2034.58l15.509 15.509-15.509 15.509-15.509-15.509zM2720.38 2050.09l15.509 15.509-15.509 15.509-15.509-15.509zM2317.14 1553.8l15.509 15.509-15.509 15.509-15.509-15.509zM2642.83 1879.49l15.509 15.509-15.509 15.509-15.509-15.509zM2782.41 2019.07l15.509 15.509-15.509 15.509-15.509-15.509zM1929.42 1042l15.509 15.509-15.509 15.509-15.509-15.509zM1975.94 1088.53l15.509 15.509-15.509 15.509-15.509-15.509zM2084.51 1197.09l15.509 15.509-15.509 15.509-15.509-15.509zM2720.38 1832.96l15.509 15.509-15.509 15.509-15.509-15.509zM2844.45 1957.03l15.509 15.509-15.509 15.509-15.509-15.509zM2797.92 1848.47l15.509 15.509-15.509 15.509-15.509-15.509zM2828.94 1879.49l15.509 15.509-15.509 15.509-15.509-15.509zM2456.72 1414.22l15.509 15.509-15.509 15.509-15.509-15.509zM2472.23 1398.71l15.509 15.509-15.509 15.509-15.509-15.509zM2782.41 1708.89l15.509 15.509-15.509 15.509-15.509-15.509zM2487.74 1383.2l15.509 15.509-15.509 15.509-15.509-15.509zM2797.92 1693.38l15.509 15.509-15.509 15.509-15.509-15.509zM2813.43 1677.87l15.509 15.509-15.509 15.509-15.509-15.509zM2828.94 1662.36l15.509 15.509-15.509 15.509-15.509-15.509zM2301.63 1104.04l15.509 15.509-15.509 15.509-15.509-15.509zM2317.14 1119.55l15.509 15.509-15.509 15.509-15.509-15.509zM2720.38 1429.72l15.509 15.509-15.509 15.509-15.509-15.509zM2999.54 1708.89l15.509 15.509-15.509 15.509-15.509-15.509zM2735.89 1414.22l15.509 15.509-15.509 15.509-15.509-15.509zM2984.03 1662.36l15.509 15.509-15.509 15.509-15.509-15.509zM3015.05 1693.38l15.509 15.509-15.509 15.509-15.509-15.509zM2999.54 1646.85l15.509 15.509-15.509 15.509-15.509-15.509zM2844.45 1460.74l15.509 15.509-15.509 15.509-15.509-15.509zM2859.96 1445.23l15.509 15.509-15.509 15.509-15.509-15.509zM3015.05 1600.32l15.509 15.509-15.509 15.509-15.509-15.509zM3092.59 1646.85l15.509 15.509-15.509 15.509-15.509-15.509zM2797.92 1073.02l15.509 15.509-15.509 15.509-15.509-15.509zM3263.19 1538.29l15.509 15.509-15.509 15.509-15.509-15.509zM3340.74 1398.71l15.509 15.509-15.509 15.509-15.509-15.509zM3108.1 1104.04l15.509 15.509-15.509 15.509-15.509-15.509zM3402.77 1243.62l15.509 15.509-15.509 15.509-15.509-15.509zM3433.79 1274.63l15.509 15.509-15.509 15.509-15.509-15.509zM3495.83 1243.62l15.509 15.509-15.509 15.509-15.509-15.509zM3526.85 1212.6l15.509 15.509-15.509 15.509-15.509-15.509zM3495.83 1150.56l15.509 15.509-15.509 15.509-15.509-15.509zM3712.95 1088.53l15.509 15.509-15.509 15.509-15.509-15.509zM3743.97 1057.51l15.509 15.509-15.509 15.509-15.509-15.509z" fill="#F69432"/>
<path d="M750.734 1414.22l15.509 15.509-15.509 15.509-15.509-15.509zM781.752 1445.23l15.509 15.509-15.509 15.509-15.509-15.509zM797.261 1460.74l15.509 15.509-15.509 15.509-15.509-15.509zM1060.91 1724.4l15.509 15.509-15.509 15.509-15.509-15.509zM1200.49 1863.98l15.509 15.509-15.509 15.509-15.509-15.509zM1278.04 1941.52l15.509 15.509-15.509 15.509-15.509-15.509zM1433.13 2096.61l15.509 15.509-15.509 15.509-15.509-15.509zM1464.15 2127.63l15.509 15.509-15.509 15.509-15.509-15.509zM1479.66 2143.14l15.509 15.509-15.509 15.509-15.509-15.509zM1495.17 2158.65l15.509 15.509-15.509 15.509-15.509-15.509zM1588.22 2251.7l15.509 15.509-15.509 15.509-15.509-15.509zM1619.24 2282.72l15.509 15.509-15.509 15.509-15.509-15.509zM1681.27 2344.76l15.509 15.509-15.509 15.509-15.509-15.509zM1712.29 2375.77l15.509 15.509-15.509 15.509-15.509-15.509zM1944.93 2608.41l15.509 15.509-15.509 15.509-15.509-15.509zM2006.96 2670.44l15.509 15.509-15.509 15.509-15.509-15.509zM2053.49 2716.97l15.509 15.509-15.509 15.509-15.509-15.509zM1247.02 1879.49l15.509 15.509-15.509 15.509-15.509-15.509zM2037.98 2670.44l15.509 15.509-15.509 15.509-15.509-15.509zM2053.49 2685.95l15.509 15.509-15.509 15.509-15.509-15.509zM1696.78 2298.23l15.509 15.509-15.509 15.509-15.509-15.509zM2100.02 2701.46l15.509 15.509-15.509 15.509-15.509-15.509zM1278.04 1848.47l15.509 15.509-15.509 15.509-15.509-15.509zM1309.06 1879.49l15.509 15.509-15.509 15.509-15.509-15.509zM2006.96 2577.39l15.509 15.509-15.509 15.509-15.509-15.509zM1293.55 1832.96l15.509 15.509-15.509 15.509-15.509-15.509zM1324.57 1863.98l15.509 15.509-15.509 15.509-15.509-15.509zM1743.31 2282.72l15.509 15.509-15.509 15.509-15.509-15.509zM1774.33 2313.74l15.509 15.509-15.509 15.509-15.509-15.509zM2022.47 2561.88l15.509 15.509-15.509 15.509-15.509-15.509zM2037.98 2577.39l15.509 15.509-15.509 15.509-15.509-15.509zM2069 2608.41l15.509 15.509-15.509 15.509-15.509-15.509zM2100.02 2639.43l15.509 15.509-15.509 15.509-15.509-15.509zM2131.03 2670.44l15.509 15.509-15.509 15.509-15.509-15.509zM626.662 1135.05l15.509 15.509-15.509 15.509-15.509-15.509zM781.752 1290.14l15.509 15.509-15.509 15.509-15.509-15.509zM812.77 1321.16l15.509 15.509-15.509 15.509-15.509-15.509zM828.279 1336.67l15.509 15.509-15.509 15.509-15.509-15.509zM1014.39 1522.78l15.509 15.509-15.509 15.509-15.509-15.509zM1029.9 1538.29l15.509 15.509-15.509 15.509-15.509-15.509zM1169.48 1677.87l15.509 15.509-15.509 15.509-15.509-15.509zM1216 1724.4l15.509 15.509-15.509 15.509-15.509-15.509zM1340.08 1848.47l15.509 15.509-15.509 15.509-15.509-15.509zM1402.11 1910.5l15.509 15.509-15.509 15.509-15.509-15.509zM1541.69 2050.09l15.509 15.509-15.509 15.509-15.509-15.509zM1820.86 2329.25l15.509 15.509-15.509 15.509-15.509-15.509zM1851.87 2360.27l15.509 15.509-15.509 15.509-15.509-15.509zM1898.4 2406.79l15.509 15.509-15.509 15.509-15.509-15.509zM1944.93 2453.32l15.509 15.509-15.509 15.509-15.509-15.509zM1975.94 2484.34l15.509 15.509-15.509 15.509-15.509-15.509zM1991.45 2499.85l15.509 15.509-15.509 15.509-15.509-15.509zM2022.47 2530.86l15.509 15.509-15.509 15.509-15.509-15.509zM2053.49 2561.88l15.509 15.509-15.509 15.509-15.509-15.509zM2069 2577.39l15.509 15.509-15.509 15.509-15.509-15.509zM2084.51 2592.9l15.509 15.509-15.509 15.509-15.509-15.509zM1371.09 1848.47l15.509 15.509-15.509 15.509-15.509-15.509zM1727.8 2205.18l15.509 15.509-15.509 15.509-15.509-15.509zM2084.51 2561.88l15.509 15.509-15.509 15.509-15.509-15.509zM1371.09 1817.45l15.509 15.509-15.509 15.509-15.509-15.509zM1386.6 1832.96l15.509 15.509-15.509 15.509-15.509-15.509zM859.297 1274.63l15.509 15.509-15.509 15.509-15.509-15.509zM1944.93 2360.27l15.509 15.509-15.509 15.509-15.509-15.509zM1464.15 1848.47l15.509 15.509-15.509 15.509-15.509-15.509zM1479.66 1863.98l15.509 15.509-15.509 15.509-15.509-15.509zM1960.44 2344.76l15.509 15.509-15.509 15.509-15.509-15.509zM2208.58 2592.9l15.509 15.509-15.509 15.509-15.509-15.509zM1045.4 1398.71l15.509 15.509-15.509 15.509-15.509-15.509zM1184.99 1538.29l15.509 15.509-15.509 15.509-15.509-15.509zM1293.55 1646.85l15.509 15.509-15.509 15.509-15.509-15.509zM1324.57 1677.87l15.509 15.509-15.509 15.509-15.509-15.509zM1417.62 1770.92l15.509 15.509-15.509 15.509-15.509-15.509zM1526.18 1879.49l15.509 15.509-15.509 15.509-15.509-15.509zM1541.69 1894.99l15.509 15.509-15.509 15.509-15.509-15.509zM1743.31 2096.61l15.509 15.509-15.509 15.509-15.509-15.509zM1913.91 2267.21l15.509 15.509-15.509 15.509-15.509-15.509zM1944.93 2298.23l15.509 15.509-15.509 15.509-15.509-15.509zM1960.44 2313.74l15.509 15.509-15.509 15.509-15.509-15.509zM2006.96 2360.27l15.509 15.509-15.509 15.509-15.509-15.509zM1433.13 1755.41l15.509 15.509-15.509 15.509-15.509-15.509zM1216 1507.27l15.509 15.509-15.509 15.509-15.509-15.509zM1262.53 1553.8l15.509 15.509-15.509 15.509-15.509-15.509zM1324.57 1615.83l15.509 15.509-15.509 15.509-15.509-15.509zM1448.64 1739.9l15.509 15.509-15.509 15.509-15.509-15.509zM1557.2 1848.47l15.509 15.509-15.509 15.509-15.509-15.509zM1572.71 1863.98l15.509 15.509-15.509 15.509-15.509-15.509zM1851.87 2143.14l15.509 15.509-15.509 15.509-15.509-15.509zM1944.93 2236.19l15.509 15.509-15.509 15.509-15.509-15.509zM1975.94 2267.21l15.509 15.509-15.509 15.509-15.509-15.509zM2022.47 2313.74l15.509 15.509-15.509 15.509-15.509-15.509zM2037.98 2329.25l15.509 15.509-15.509 15.509-15.509-15.509zM1122.95 1383.2l15.509 15.509-15.509 15.509-15.509-15.509zM1510.67 1770.92l15.509 15.509-15.509 15.509-15.509-15.509zM1526.18 1786.43l15.509 15.509-15.509 15.509-15.509-15.509zM1882.89 2143.14l15.509 15.509-15.509 15.509-15.509-15.509zM1898.4 2158.65l15.509 15.509-15.509 15.509-15.509-15.509zM1944.93 2205.18l15.509 15.509-15.509 15.509-15.509-15.509zM2146.54 2406.79l15.509 15.509-15.509 15.509-15.509-15.509zM2193.07 2453.32l15.509 15.509-15.509 15.509-15.509-15.509zM2208.58 2468.83l15.509 15.509-15.509 15.509-15.509-15.509zM2224.09 2484.34l15.509 15.509-15.509 15.509-15.509-15.509zM952.351 1181.58l15.509 15.509-15.509 15.509-15.509-15.509zM1479.66 1708.89l15.509 15.509-15.509 15.509-15.509-15.509zM1510.67 1708.89l15.509 15.509-15.509 15.509-15.509-15.509zM2208.58 2406.79l15.509 15.509-15.509 15.509-15.509-15.509zM1014.39 1181.58l15.509 15.509-15.509 15.509-15.509-15.509zM1851.87 2019.07l15.509 15.509-15.509 15.509-15.509-15.509zM2069 2236.19l15.509 15.509-15.509 15.509-15.509-15.509zM2100.02 2267.21l15.509 15.509-15.509 15.509-15.509-15.509zM2224.09 2391.28l15.509 15.509-15.509 15.509-15.509-15.509zM2270.62 2437.81l15.509 15.509-15.509 15.509-15.509-15.509zM2286.12 2453.32l15.509 15.509-15.509 15.509-15.509-15.509zM2317.14 2484.34l15.509 15.509-15.509 15.509-15.509-15.509zM1495.17 1631.34l15.509 15.509-15.509 15.509-15.509-15.509zM1526.18 1662.36l15.509 15.509-15.509 15.509-15.509-15.509zM2084.51 2220.68l15.509 15.509-15.509 15.509-15.509-15.509zM2239.6 2375.77l15.509 15.509-15.509 15.509-15.509-15.509zM1510.67 1615.83l15.509 15.509-15.509 15.509-15.509-15.509zM1541.69 1646.85l15.509 15.509-15.509 15.509-15.509-15.509zM2100.02 2205.18l15.509 15.509-15.509 15.509-15.509-15.509zM2255.11 2360.27l15.509 15.509-15.509 15.509-15.509-15.509zM1029.9 1104.04l15.509 15.509-15.509 15.509-15.509-15.509zM1557.2 1631.34l15.509 15.509-15.509 15.509-15.509-15.509zM2115.53 2189.67l15.509 15.509-15.509 15.509-15.509-15.509zM2270.62 2344.76l15.509 15.509-15.509 15.509-15.509-15.509zM1293.55 1336.67l15.509 15.509-15.509 15.509-15.509-15.509zM1619.24 1662.36l15.509 15.509-15.509 15.509-15.509-15.509zM2131.03 2174.16l15.509 15.509-15.509 15.509-15.509-15.509zM1076.42 1057.51l15.509 15.509-15.509 15.509-15.509-15.509zM2301.63 2251.7l15.509 15.509-15.509 15.509-15.509-15.509zM2363.67 2313.74l15.509 15.509-15.509 15.509-15.509-15.509zM2425.71 2375.77l15.509 15.509-15.509 15.509-15.509-15.509zM1153.97 1042l15.509 15.509-15.509 15.509-15.509-15.509zM1417.62 1305.65l15.509 15.509-15.509 15.509-15.509-15.509zM1572.71 1460.74l15.509 15.509-15.509 15.509-15.509-15.509zM1665.77 1553.8l15.509 15.509-15.509 15.509-15.509-15.509zM1743.31 1631.34l15.509 15.509-15.509 15.509-15.509-15.509zM1758.82 1646.85l15.509 15.509-15.509 15.509-15.509-15.509zM1774.33 1662.36l15.509 15.509-15.509 15.509-15.509-15.509zM2053.49 1941.52l15.509 15.509-15.509 15.509-15.509-15.509zM2146.54 2034.58l15.509 15.509-15.509 15.509-15.509-15.509zM2239.6 2127.63l15.509 15.509-15.509 15.509-15.509-15.509zM2379.18 2267.21l15.509 15.509-15.509 15.509-15.509-15.509zM1665.77 1522.78l15.509 15.509-15.509 15.509-15.509-15.509zM1727.8 1553.8l15.509 15.509-15.509 15.509-15.509-15.509zM2487.74 2313.74l15.509 15.509-15.509 15.509-15.509-15.509zM1712.29 1507.27l15.509 15.509-15.509 15.509-15.509-15.509zM1727.8 1460.74l15.509 15.509-15.509 15.509-15.509-15.509zM2162.05 1894.99l15.509 15.509-15.509 15.509-15.509-15.509zM1743.31 1445.23l15.509 15.509-15.509 15.509-15.509-15.509zM2549.78 2251.7l15.509 15.509-15.509 15.509-15.509-15.509zM2580.8 2220.68l15.509 15.509-15.509 15.509-15.509-15.509zM1805.35 1414.22l15.509 15.509-15.509 15.509-15.509-15.509zM2363.67 1941.52l15.509 15.509-15.509 15.509-15.509-15.509zM2627.32 2174.16l15.509 15.509-15.509 15.509-15.509-15.509zM2658.34 2143.14l15.509 15.509-15.509 15.509-15.509-15.509zM2673.85 2127.63l15.509 15.509-15.509 15.509-15.509-15.509zM2239.6 1631.34l15.509 15.509-15.509 15.509-15.509-15.509zM2394.69 1786.43l15.509 15.509-15.509 15.509-15.509-15.509zM2487.74 1879.49l15.509 15.509-15.509 15.509-15.509-15.509zM2627.32 2019.07l15.509 15.509-15.509 15.509-15.509-15.509zM2658.34 2050.09l15.509 15.509-15.509 15.509-15.509-15.509zM2704.87 2096.61l15.509 15.509-15.509 15.509-15.509-15.509zM2720.38 2081.1l15.509 15.509-15.509 15.509-15.509-15.509zM2425.71 1755.41l15.509 15.509-15.509 15.509-15.509-15.509zM2518.76 1848.47l15.509 15.509-15.509 15.509-15.509-15.509zM2658.34 1988.05l15.509 15.509-15.509 15.509-15.509-15.509zM2689.36 2019.07l15.509 15.509-15.509 15.509-15.509-15.509zM1960.44 1197.09l15.509 15.509-15.509 15.509-15.509-15.509zM1975.94 1212.6l15.509 15.509-15.509 15.509-15.509-15.509zM1991.45 1228.11l15.509 15.509-15.509 15.509-15.509-15.509zM2813.43 1988.05l15.509 15.509-15.509 15.509-15.509-15.509zM2022.47 1166.07l15.509 15.509-15.509 15.509-15.509-15.509zM2456.72 1600.32l15.509 15.509-15.509 15.509-15.509-15.509zM2037.98 1088.53l15.509 15.509-15.509 15.509-15.509-15.509zM2053.49 1104.04l15.509 15.509-15.509 15.509-15.509-15.509zM2069 1119.55l15.509 15.509-15.509 15.509-15.509-15.509zM2084.51 1135.05l15.509 15.509-15.509 15.509-15.509-15.509zM2100.02 1150.56l15.509 15.509-15.509 15.509-15.509-15.509zM2410.2 1460.74l15.509 15.509-15.509 15.509-15.509-15.509zM2549.78 1600.32l15.509 15.509-15.509 15.509-15.509-15.509zM2673.85 1631.34l15.509 15.509-15.509 15.509-15.509-15.509zM2689.36 1615.83l15.509 15.509-15.509 15.509-15.509-15.509zM2162.05 1057.51l15.509 15.509-15.509 15.509-15.509-15.509zM2301.63 1197.09l15.509 15.509-15.509 15.509-15.509-15.509zM2332.65 1228.11l15.509 15.509-15.509 15.509-15.509-15.509zM2425.71 1321.16l15.509 15.509-15.509 15.509-15.509-15.509zM2534.27 1429.72l15.509 15.509-15.509 15.509-15.509-15.509zM2611.81 1507.27l15.509 15.509-15.509 15.509-15.509-15.509zM2689.36 1584.82l15.509 15.509-15.509 15.509-15.509-15.509zM2704.87 1600.32l15.509 15.509-15.509 15.509-15.509-15.509zM2720.38 1615.83l15.509 15.509-15.509 15.509-15.509-15.509zM2890.98 1786.43l15.509 15.509-15.509 15.509-15.509-15.509zM2953.01 1848.47l15.509 15.509-15.509 15.509-15.509-15.509zM2441.22 1305.65l15.509 15.509-15.509 15.509-15.509-15.509zM2580.8 1445.23l15.509 15.509-15.509 15.509-15.509-15.509zM2720.38 1584.82l15.509 15.509-15.509 15.509-15.509-15.509zM2906.49 1770.92l15.509 15.509-15.509 15.509-15.509-15.509zM2317.14 1150.56l15.509 15.509-15.509 15.509-15.509-15.509zM2379.18 1212.6l15.509 15.509-15.509 15.509-15.509-15.509zM2456.72 1290.14l15.509 15.509-15.509 15.509-15.509-15.509zM2565.29 1398.71l15.509 15.509-15.509 15.509-15.509-15.509zM2580.8 1414.22l15.509 15.509-15.509 15.509-15.509-15.509zM2627.32 1460.74l15.509 15.509-15.509 15.509-15.509-15.509zM2642.83 1476.25l15.509 15.509-15.509 15.509-15.509-15.509zM2704.87 1538.29l15.509 15.509-15.509 15.509-15.509-15.509zM2720.38 1553.8l15.509 15.509-15.509 15.509-15.509-15.509zM2751.39 1584.82l15.509 15.509-15.509 15.509-15.509-15.509zM2766.9 1600.32l15.509 15.509-15.509 15.509-15.509-15.509zM2286.12 1088.53l15.509 15.509-15.509 15.509-15.509-15.509zM2472.23 1274.63l15.509 15.509-15.509 15.509-15.509-15.509zM2673.85 1476.25l15.509 15.509-15.509 15.509-15.509-15.509zM2751.39 1553.8l15.509 15.509-15.509 15.509-15.509-15.509zM2844.45 1646.85l15.509 15.509-15.509 15.509-15.509-15.509zM2921.99 1724.4l15.509 15.509-15.509 15.509-15.509-15.509zM2953.01 1755.41l15.509 15.509-15.509 15.509-15.509-15.509zM2255.11 1026.49l15.509 15.509-15.509 15.509-15.509-15.509zM2859.96 1631.34l15.509 15.509-15.509 15.509-15.509-15.509zM3015.05 1786.43l15.509 15.509-15.509 15.509-15.509-15.509zM2720.38 1460.74l15.509 15.509-15.509 15.509-15.509-15.509zM2782.41 1522.78l15.509 15.509-15.509 15.509-15.509-15.509zM2813.43 1553.8l15.509 15.509-15.509 15.509-15.509-15.509zM2875.47 1615.83l15.509 15.509-15.509 15.509-15.509-15.509zM2937.5 1677.87l15.509 15.509-15.509 15.509-15.509-15.509zM2797.92 1507.27l15.509 15.509-15.509 15.509-15.509-15.509zM2890.98 1600.32l15.509 15.509-15.509 15.509-15.509-15.509zM2953.01 1662.36l15.509 15.509-15.509 15.509-15.509-15.509zM2968.52 1677.87l15.509 15.509-15.509 15.509-15.509-15.509zM2813.43 1491.76l15.509 15.509-15.509 15.509-15.509-15.509zM2921.99 1600.32l15.509 15.509-15.509 15.509-15.509-15.509zM2828.94 1476.25l15.509 15.509-15.509 15.509-15.509-15.509zM2937.5 1584.82l15.509 15.509-15.509 15.509-15.509-15.509zM2999.54 1615.83l15.509 15.509-15.509 15.509-15.509-15.509zM3108.1 1631.34l15.509 15.509-15.509 15.509-15.509-15.509zM3139.12 1600.32l15.509 15.509-15.509 15.509-15.509-15.509zM3185.65 1615.83l15.509 15.509-15.509 15.509-15.509-15.509zM3123.61 1398.71l15.509 15.509-15.509 15.509-15.509-15.509zM3325.23 1445.23l15.509 15.509-15.509 15.509-15.509-15.509zM3433.79 1367.69l15.509 15.509-15.509 15.509-15.509-15.509zM3418.28 1321.16l15.509 15.509-15.509 15.509-15.509-15.509zM3495.83 1305.65l15.509 15.509-15.509 15.509-15.509-15.509zM3402.77 1119.55l15.509 15.509-15.509 15.509-15.509-15.509zM3588.88 1212.6l15.509 15.509-15.509 15.509-15.509-15.509zM3619.9 1181.58l15.509 15.509-15.509 15.509-15.509-15.509zM3635.41 1166.07l15.509 15.509-15.509 15.509-15.509-15.509zM3557.86 1057.51l15.509 15.509-15.509 15.509-15.509-15.509zM3650.92 1150.56l15.509 15.509-15.509 15.509-15.509-15.509z" fill="#F86823"/>
<path d="M704.207 1367.69l15.509 15.509-15.509 15.509-15.509-15.509zM874.806 1538.29l15.509 15.509-15.509 15.509-15.509-15.509zM921.333 1584.82l15.509 15.509-15.509 15.509-15.509-15.509zM1076.42 1739.9l15.509 15.509-15.509 15.509-15.509-15.509zM1153.97 1817.45l15.509 15.509-15.509 15.509-15.509-15.509zM1696.78 2360.27l15.509 15.509-15.509 15.509-15.509-15.509zM1820.86 2484.34l15.509 15.509-15.509 15.509-15.509-15.509zM1929.42 2592.9l15.509 15.509-15.509 15.509-15.509-15.509zM1975.94 2639.43l15.509 15.509-15.509 15.509-15.509-15.509zM2037.98 2701.46l15.509 15.509-15.509 15.509-15.509-15.509zM2069 2732.48l15.509 15.509-15.509 15.509-15.509-15.509zM2022.47 2654.94l15.509 15.509-15.509 15.509-15.509-15.509zM2084.51 2716.97l15.509 15.509-15.509 15.509-15.509-15.509zM921.333 1522.78l15.509 15.509-15.509 15.509-15.509-15.509zM1231.51 1832.96l15.509 15.509-15.509 15.509-15.509-15.509zM1247.02 1848.47l15.509 15.509-15.509 15.509-15.509-15.509zM1309.06 1910.5l15.509 15.509-15.509 15.509-15.509-15.509zM1603.73 2205.18l15.509 15.509-15.509 15.509-15.509-15.509zM1960.44 2561.88l15.509 15.509-15.509 15.509-15.509-15.509zM1293.55 1863.98l15.509 15.509-15.509 15.509-15.509-15.509zM1681.27 2251.7l15.509 15.509-15.509 15.509-15.509-15.509zM2022.47 2592.9l15.509 15.509-15.509 15.509-15.509-15.509zM2037.98 2608.41l15.509 15.509-15.509 15.509-15.509-15.509zM2053.49 2623.92l15.509 15.509-15.509 15.509-15.509-15.509zM2115.53 2685.95l15.509 15.509-15.509 15.509-15.509-15.509zM1309.06 1848.47l15.509 15.509-15.509 15.509-15.509-15.509zM1634.75 2174.16l15.509 15.509-15.509 15.509-15.509-15.509zM1650.26 2189.67l15.509 15.509-15.509 15.509-15.509-15.509zM1696.78 2236.19l15.509 15.509-15.509 15.509-15.509-15.509zM1727.8 2267.21l15.509 15.509-15.509 15.509-15.509-15.509zM2053.49 2592.9l15.509 15.509-15.509 15.509-15.509-15.509zM2084.51 2623.92l15.509 15.509-15.509 15.509-15.509-15.509zM657.68 1166.07l15.509 15.509-15.509 15.509-15.509-15.509zM952.351 1460.74l15.509 15.509-15.509 15.509-15.509-15.509zM1045.4 1553.8l15.509 15.509-15.509 15.509-15.509-15.509zM1107.44 1615.83l15.509 15.509-15.509 15.509-15.509-15.509zM1122.95 1631.34l15.509 15.509-15.509 15.509-15.509-15.509zM1138.46 1646.85l15.509 15.509-15.509 15.509-15.509-15.509zM1247.02 1755.41l15.509 15.509-15.509 15.509-15.509-15.509zM1464.15 1972.54l15.509 15.509-15.509 15.509-15.509-15.509zM1510.67 2019.07l15.509 15.509-15.509 15.509-15.509-15.509zM1557.2 2065.59l15.509 15.509-15.509 15.509-15.509-15.509zM1572.71 2081.1l15.509 15.509-15.509 15.509-15.509-15.509zM1588.22 2096.61l15.509 15.509-15.509 15.509-15.509-15.509zM1603.73 2112.12l15.509 15.509-15.509 15.509-15.509-15.509zM1619.24 2127.63l15.509 15.509-15.509 15.509-15.509-15.509zM1634.75 2143.14l15.509 15.509-15.509 15.509-15.509-15.509zM1650.26 2158.65l15.509 15.509-15.509 15.509-15.509-15.509zM1665.77 2174.16l15.509 15.509-15.509 15.509-15.509-15.509zM1696.78 2205.18l15.509 15.509-15.509 15.509-15.509-15.509zM1712.29 2220.68l15.509 15.509-15.509 15.509-15.509-15.509zM1867.38 2375.77l15.509 15.509-15.509 15.509-15.509-15.509zM1960.44 2468.83l15.509 15.509-15.509 15.509-15.509-15.509zM2037.98 2546.37l15.509 15.509-15.509 15.509-15.509-15.509zM1247.02 1724.4l15.509 15.509-15.509 15.509-15.509-15.509zM1340.08 1817.45l15.509 15.509-15.509 15.509-15.509-15.509zM2100.02 2577.39l15.509 15.509-15.509 15.509-15.509-15.509zM2146.54 2623.92l15.509 15.509-15.509 15.509-15.509-15.509zM1262.53 1708.89l15.509 15.509-15.509 15.509-15.509-15.509zM2100.02 2546.37l15.509 15.509-15.509 15.509-15.509-15.509zM2115.53 2561.88l15.509 15.509-15.509 15.509-15.509-15.509zM1975.94 2391.28l15.509 15.509-15.509 15.509-15.509-15.509zM2053.49 2468.83l15.509 15.509-15.509 15.509-15.509-15.509zM2100.02 2515.36l15.509 15.509-15.509 15.509-15.509-15.509zM2115.53 2530.86l15.509 15.509-15.509 15.509-15.509-15.509zM1944.93 2329.25l15.509 15.509-15.509 15.509-15.509-15.509zM2115.53 2499.85l15.509 15.509-15.509 15.509-15.509-15.509zM874.806 1228.11l15.509 15.509-15.509 15.509-15.509-15.509zM890.315 1243.62l15.509 15.509-15.509 15.509-15.509-15.509zM921.333 1274.63l15.509 15.509-15.509 15.509-15.509-15.509zM1029.9 1383.2l15.509 15.509-15.509 15.509-15.509-15.509zM1076.42 1429.72l15.509 15.509-15.509 15.509-15.509-15.509zM1231.51 1584.82l15.509 15.509-15.509 15.509-15.509-15.509zM1278.04 1631.34l15.509 15.509-15.509 15.509-15.509-15.509zM1479.66 1832.96l15.509 15.509-15.509 15.509-15.509-15.509zM1650.26 2003.56l15.509 15.509-15.509 15.509-15.509-15.509zM1758.82 2112.12l15.509 15.509-15.509 15.509-15.509-15.509zM1805.35 2158.65l15.509 15.509-15.509 15.509-15.509-15.509zM1820.86 2174.16l15.509 15.509-15.509 15.509-15.509-15.509zM1836.36 2189.67l15.509 15.509-15.509 15.509-15.509-15.509zM1851.87 2205.18l15.509 15.509-15.509 15.509-15.509-15.509zM2084.51 2437.81l15.509 15.509-15.509 15.509-15.509-15.509zM1820.86 2143.14l15.509 15.509-15.509 15.509-15.509-15.509zM1851.87 2174.16l15.509 15.509-15.509 15.509-15.509-15.509zM2022.47 2344.76l15.509 15.509-15.509 15.509-15.509-15.509zM2100.02 2422.3l15.509 15.509-15.509 15.509-15.509-15.509zM2239.6 2561.88l15.509 15.509-15.509 15.509-15.509-15.509zM905.824 1197.09l15.509 15.509-15.509 15.509-15.509-15.509zM921.333 1212.6l15.509 15.509-15.509 15.509-15.509-15.509zM936.842 1228.11l15.509 15.509-15.509 15.509-15.509-15.509zM952.351 1243.62l15.509 15.509-15.509 15.509-15.509-15.509zM1060.91 1352.18l15.509 15.509-15.509 15.509-15.509-15.509zM1107.44 1398.71l15.509 15.509-15.509 15.509-15.509-15.509zM1169.48 1460.74l15.509 15.509-15.509 15.509-15.509-15.509zM1309.06 1600.32l15.509 15.509-15.509 15.509-15.509-15.509zM1355.59 1646.85l15.509 15.509-15.509 15.509-15.509-15.509zM1510.67 1801.94l15.509 15.509-15.509 15.509-15.509-15.509zM1526.18 1817.45l15.509 15.509-15.509 15.509-15.509-15.509zM1665.77 1957.03l15.509 15.509-15.509 15.509-15.509-15.509zM1681.27 1972.54l15.509 15.509-15.509 15.509-15.509-15.509zM1836.36 2127.63l15.509 15.509-15.509 15.509-15.509-15.509zM1867.38 2158.65l15.509 15.509-15.509 15.509-15.509-15.509zM1882.89 2174.16l15.509 15.509-15.509 15.509-15.509-15.509zM2115.53 2406.79l15.509 15.509-15.509 15.509-15.509-15.509zM2131.03 2422.3l15.509 15.509-15.509 15.509-15.509-15.509zM781.752 1042l15.509 15.509-15.509 15.509-15.509-15.509zM983.369 1243.62l15.509 15.509-15.509 15.509-15.509-15.509zM998.878 1259.13l15.509 15.509-15.509 15.509-15.509-15.509zM1045.4 1305.65l15.509 15.509-15.509 15.509-15.509-15.509zM1076.42 1336.67l15.509 15.509-15.509 15.509-15.509-15.509zM1107.44 1367.69l15.509 15.509-15.509 15.509-15.509-15.509zM1184.99 1445.23l15.509 15.509-15.509 15.509-15.509-15.509zM1247.02 1507.27l15.509 15.509-15.509 15.509-15.509-15.509zM1262.53 1522.78l15.509 15.509-15.509 15.509-15.509-15.509zM1278.04 1538.29l15.509 15.509-15.509 15.509-15.509-15.509zM1340.08 1600.32l15.509 15.509-15.509 15.509-15.509-15.509zM1402.11 1662.36l15.509 15.509-15.509 15.509-15.509-15.509zM1433.13 1693.38l15.509 15.509-15.509 15.509-15.509-15.509zM1464.15 1724.4l15.509 15.509-15.509 15.509-15.509-15.509zM1681.27 1941.52l15.509 15.509-15.509 15.509-15.509-15.509zM1696.78 1957.03l15.509 15.509-15.509 15.509-15.509-15.509zM1712.29 1972.54l15.509 15.509-15.509 15.509-15.509-15.509zM1727.8 1988.05l15.509 15.509-15.509 15.509-15.509-15.509zM1743.31 2003.56l15.509 15.509-15.509 15.509-15.509-15.509zM1758.82 2019.07l15.509 15.509-15.509 15.509-15.509-15.509zM1774.33 2034.58l15.509 15.509-15.509 15.509-15.509-15.509zM1789.84 2050.09l15.509 15.509-15.509 15.509-15.509-15.509zM1805.35 2065.59l15.509 15.509-15.509 15.509-15.509-15.509zM1820.86 2081.1l15.509 15.509-15.509 15.509-15.509-15.509zM1851.87 2112.12l15.509 15.509-15.509 15.509-15.509-15.509zM1867.38 2127.63l15.509 15.509-15.509 15.509-15.509-15.509zM2162.05 2422.3l15.509 15.509-15.509 15.509-15.509-15.509zM2270.62 2530.86l15.509 15.509-15.509 15.509-15.509-15.509zM1448.64 1677.87l15.509 15.509-15.509 15.509-15.509-15.509zM1572.71 1801.94l15.509 15.509-15.509 15.509-15.509-15.509zM1588.22 1817.45l15.509 15.509-15.509 15.509-15.509-15.509zM1603.73 1832.96l15.509 15.509-15.509 15.509-15.509-15.509zM2177.56 2406.79l15.509 15.509-15.509 15.509-15.509-15.509zM1464.15 1662.36l15.509 15.509-15.509 15.509-15.509-15.509zM1495.17 1693.38l15.509 15.509-15.509 15.509-15.509-15.509zM1696.78 1894.99l15.509 15.509-15.509 15.509-15.509-15.509zM2177.56 2375.77l15.509 15.509-15.509 15.509-15.509-15.509zM2193.07 2391.28l15.509 15.509-15.509 15.509-15.509-15.509zM905.824 1073.02l15.509 15.509-15.509 15.509-15.509-15.509zM1340.08 1507.27l15.509 15.509-15.509 15.509-15.509-15.509zM1371.09 1538.29l15.509 15.509-15.509 15.509-15.509-15.509zM1479.66 1646.85l15.509 15.509-15.509 15.509-15.509-15.509zM1510.67 1677.87l15.509 15.509-15.509 15.509-15.509-15.509zM1712.29 1879.49l15.509 15.509-15.509 15.509-15.509-15.509zM2255.11 2422.3l15.509 15.509-15.509 15.509-15.509-15.509zM2162.05 2298.23l15.509 15.509-15.509 15.509-15.509-15.509zM2177.56 2313.74l15.509 15.509-15.509 15.509-15.509-15.509zM2193.07 2329.25l15.509 15.509-15.509 15.509-15.509-15.509zM2208.58 2344.76l15.509 15.509-15.509 15.509-15.509-15.509zM2270.62 2406.79l15.509 15.509-15.509 15.509-15.509-15.509zM2286.12 2422.3l15.509 15.509-15.509 15.509-15.509-15.509zM2332.65 2468.83l15.509 15.509-15.509 15.509-15.509-15.509zM2348.16 2453.32l15.509 15.509-15.509 15.509-15.509-15.509zM2224.09 2298.23l15.509 15.509-15.509 15.509-15.509-15.509zM1324.57 1367.69l15.509 15.509-15.509 15.509-15.509-15.509zM1572.71 1615.83l15.509 15.509-15.509 15.509-15.509-15.509zM1634.75 1677.87l15.509 15.509-15.509 15.509-15.509-15.509zM2239.6 2282.72l15.509 15.509-15.509 15.509-15.509-15.509zM2255.11 2298.23l15.509 15.509-15.509 15.509-15.509-15.509zM2286.12 2329.25l15.509 15.509-15.509 15.509-15.509-15.509zM1216 1228.11l15.509 15.509-15.509 15.509-15.509-15.509zM1526.18 1538.29l15.509 15.509-15.509 15.509-15.509-15.509zM1541.69 1553.8l15.509 15.509-15.509 15.509-15.509-15.509zM1603.73 1615.83l15.509 15.509-15.509 15.509-15.509-15.509zM2394.69 2406.79l15.509 15.509-15.509 15.509-15.509-15.509zM1774.33 1755.41l15.509 15.509-15.509 15.509-15.509-15.509zM1898.4 1879.49l15.509 15.509-15.509 15.509-15.509-15.509zM2301.63 2282.72l15.509 15.509-15.509 15.509-15.509-15.509zM1588.22 1538.29l15.509 15.509-15.509 15.509-15.509-15.509zM1603.73 1553.8l15.509 15.509-15.509 15.509-15.509-15.509zM1619.24 1569.31l15.509 15.509-15.509 15.509-15.509-15.509zM1634.75 1584.82l15.509 15.509-15.509 15.509-15.509-15.509zM1867.38 1817.45l15.509 15.509-15.509 15.509-15.509-15.509zM1882.89 1832.96l15.509 15.509-15.509 15.509-15.509-15.509zM1898.4 1848.47l15.509 15.509-15.509 15.509-15.509-15.509zM1913.91 1863.98l15.509 15.509-15.509 15.509-15.509-15.509zM2177.56 2127.63l15.509 15.509-15.509 15.509-15.509-15.509zM2239.6 2189.67l15.509 15.509-15.509 15.509-15.509-15.509zM2379.18 2329.25l15.509 15.509-15.509 15.509-15.509-15.509zM1184.99 1104.04l15.509 15.509-15.509 15.509-15.509-15.509zM1479.66 1398.71l15.509 15.509-15.509 15.509-15.509-15.509zM2193.07 2050.09l15.509 15.509-15.509 15.509-15.509-15.509zM2332.65 2189.67l15.509 15.509-15.509 15.509-15.509-15.509zM1402.11 1228.11l15.509 15.509-15.509 15.509-15.509-15.509zM1433.13 1259.13l15.509 15.509-15.509 15.509-15.509-15.509zM1681.27 1507.27l15.509 15.509-15.509 15.509-15.509-15.509zM1758.82 1584.82l15.509 15.509-15.509 15.509-15.509-15.509zM1774.33 1600.32l15.509 15.509-15.509 15.509-15.509-15.509zM1789.84 1615.83l15.509 15.509-15.509 15.509-15.509-15.509zM1696.78 1491.76l15.509 15.509-15.509 15.509-15.509-15.509zM2410.2 2205.18l15.509 15.509-15.509 15.509-15.509-15.509zM2487.74 2282.72l15.509 15.509-15.509 15.509-15.509-15.509zM1727.8 1491.76l15.509 15.509-15.509 15.509-15.509-15.509zM2425.71 2189.67l15.509 15.509-15.509 15.509-15.509-15.509zM2487.74 2251.7l15.509 15.509-15.509 15.509-15.509-15.509zM1340.08 1073.02l15.509 15.509-15.509 15.509-15.509-15.509zM1386.6 1119.55l15.509 15.509-15.509 15.509-15.509-15.509zM1541.69 1274.63l15.509 15.509-15.509 15.509-15.509-15.509zM1944.93 1677.87l15.509 15.509-15.509 15.509-15.509-15.509zM1960.44 1693.38l15.509 15.509-15.509 15.509-15.509-15.509zM2115.53 1848.47l15.509 15.509-15.509 15.509-15.509-15.509zM2146.54 1879.49l15.509 15.509-15.509 15.509-15.509-15.509zM2270.62 2003.56l15.509 15.509-15.509 15.509-15.509-15.509zM2301.63 2034.58l15.509 15.509-15.509 15.509-15.509-15.509zM2301.63 2003.56l15.509 15.509-15.509 15.509-15.509-15.509zM1774.33 1414.22l15.509 15.509-15.509 15.509-15.509-15.509zM1789.84 1398.71l15.509 15.509-15.509 15.509-15.509-15.509zM1820.86 1429.72l15.509 15.509-15.509 15.509-15.509-15.509zM2565.29 2174.16l15.509 15.509-15.509 15.509-15.509-15.509zM2580.8 2189.67l15.509 15.509-15.509 15.509-15.509-15.509zM1789.84 1367.69l15.509 15.509-15.509 15.509-15.509-15.509zM2301.63 1879.49l15.509 15.509-15.509 15.509-15.509-15.509zM2518.76 2096.61l15.509 15.509-15.509 15.509-15.509-15.509zM1820.86 1367.69l15.509 15.509-15.509 15.509-15.509-15.509zM1836.36 1383.2l15.509 15.509-15.509 15.509-15.509-15.509zM2317.14 1863.98l15.509 15.509-15.509 15.509-15.509-15.509zM2410.2 1957.03l15.509 15.509-15.509 15.509-15.509-15.509zM2580.8 2127.63l15.509 15.509-15.509 15.509-15.509-15.509zM2394.69 1910.5l15.509 15.509-15.509 15.509-15.509-15.509zM2549.78 2065.59l15.509 15.509-15.509 15.509-15.509-15.509zM1851.87 1336.67l15.509 15.509-15.509 15.509-15.509-15.509zM1867.38 1321.16l15.509 15.509-15.509 15.509-15.509-15.509zM2425.71 1879.49l15.509 15.509-15.509 15.509-15.509-15.509zM1867.38 1259.13l15.509 15.509-15.509 15.509-15.509-15.509zM2348.16 1739.9l15.509 15.509-15.509 15.509-15.509-15.509zM1913.91 1274.63l15.509 15.509-15.509 15.509-15.509-15.509zM2410.2 1770.92l15.509 15.509-15.509 15.509-15.509-15.509zM2503.25 1863.98l15.509 15.509-15.509 15.509-15.509-15.509zM1898.4 1228.11l15.509 15.509-15.509 15.509-15.509-15.509zM2255.11 1584.82l15.509 15.509-15.509 15.509-15.509-15.509zM2270.62 1600.32l15.509 15.509-15.509 15.509-15.509-15.509zM2286.12 1615.83l15.509 15.509-15.509 15.509-15.509-15.509zM2379.18 1708.89l15.509 15.509-15.509 15.509-15.509-15.509zM2534.27 1863.98l15.509 15.509-15.509 15.509-15.509-15.509zM2735.89 2065.59l15.509 15.509-15.509 15.509-15.509-15.509zM1944.93 1243.62l15.509 15.509-15.509 15.509-15.509-15.509zM2611.81 1910.5l15.509 15.509-15.509 15.509-15.509-15.509zM1944.93 1181.58l15.509 15.509-15.509 15.509-15.509-15.509zM2006.96 1181.58l15.509 15.509-15.509 15.509-15.509-15.509zM2239.6 1383.2l15.509 15.509-15.509 15.509-15.509-15.509zM2255.11 1398.71l15.509 15.509-15.509 15.509-15.509-15.509zM2348.16 1491.76l15.509 15.509-15.509 15.509-15.509-15.509zM2379.18 1522.78l15.509 15.509-15.509 15.509-15.509-15.509zM2441.22 1584.82l15.509 15.509-15.509 15.509-15.509-15.509zM2100.02 1212.6l15.509 15.509-15.509 15.509-15.509-15.509zM2100.02 1181.58l15.509 15.509-15.509 15.509-15.509-15.509zM2131.03 1212.6l15.509 15.509-15.509 15.509-15.509-15.509zM2146.54 1228.11l15.509 15.509-15.509 15.509-15.509-15.509zM2720.38 1801.94l15.509 15.509-15.509 15.509-15.509-15.509zM2782.41 1863.98l15.509 15.509-15.509 15.509-15.509-15.509zM2813.43 1894.99l15.509 15.509-15.509 15.509-15.509-15.509zM2006.96 1057.51l15.509 15.509-15.509 15.509-15.509-15.509zM2565.29 1615.83l15.509 15.509-15.509 15.509-15.509-15.509zM2658.34 1708.89l15.509 15.509-15.509 15.509-15.509-15.509zM2875.47 1926.01l15.509 15.509-15.509 15.509-15.509-15.509zM2084.51 1104.04l15.509 15.509-15.509 15.509-15.509-15.509zM2751.39 1770.92l15.509 15.509-15.509 15.509-15.509-15.509zM2131.03 1088.53l15.509 15.509-15.509 15.509-15.509-15.509zM2487.74 1445.23l15.509 15.509-15.509 15.509-15.509-15.509zM2534.27 1491.76l15.509 15.509-15.509 15.509-15.509-15.509zM2146.54 1073.02l15.509 15.509-15.509 15.509-15.509-15.509zM2518.76 1445.23l15.509 15.509-15.509 15.509-15.509-15.509zM2859.96 1786.43l15.509 15.509-15.509 15.509-15.509-15.509zM2875.47 1801.94l15.509 15.509-15.509 15.509-15.509-15.509zM2890.98 1817.45l15.509 15.509-15.509 15.509-15.509-15.509zM2937.5 1863.98l15.509 15.509-15.509 15.509-15.509-15.509zM2286.12 1181.58l15.509 15.509-15.509 15.509-15.509-15.509zM2549.78 1445.23l15.509 15.509-15.509 15.509-15.509-15.509zM2565.29 1460.74l15.509 15.509-15.509 15.509-15.509-15.509zM2875.47 1770.92l15.509 15.509-15.509 15.509-15.509-15.509zM2906.49 1801.94l15.509 15.509-15.509 15.509-15.509-15.509zM2177.56 1042l15.509 15.509-15.509 15.509-15.509-15.509zM2549.78 1414.22l15.509 15.509-15.509 15.509-15.509-15.509zM2565.29 1429.72l15.509 15.509-15.509 15.509-15.509-15.509zM2611.81 1476.25l15.509 15.509-15.509 15.509-15.509-15.509zM2890.98 1755.41l15.509 15.509-15.509 15.509-15.509-15.509zM2921.99 1786.43l15.509 15.509-15.509 15.509-15.509-15.509zM2968.52 1832.96l15.509 15.509-15.509 15.509-15.509-15.509zM2193.07 1026.49l15.509 15.509-15.509 15.509-15.509-15.509zM2332.65 1166.07l15.509 15.509-15.509 15.509-15.509-15.509zM2363.67 1197.09l15.509 15.509-15.509 15.509-15.509-15.509zM2596.3 1429.72l15.509 15.509-15.509 15.509-15.509-15.509zM2673.85 1507.27l15.509 15.509-15.509 15.509-15.509-15.509zM2689.36 1522.78l15.509 15.509-15.509 15.509-15.509-15.509zM2906.49 1739.9l15.509 15.509-15.509 15.509-15.509-15.509zM2937.5 1770.92l15.509 15.509-15.509 15.509-15.509-15.509zM2984.03 1817.45l15.509 15.509-15.509 15.509-15.509-15.509zM2410.2 1212.6l15.509 15.509-15.509 15.509-15.509-15.509zM2425.71 1228.11l15.509 15.509-15.509 15.509-15.509-15.509zM2611.81 1414.22l15.509 15.509-15.509 15.509-15.509-15.509zM2627.32 1429.72l15.509 15.509-15.509 15.509-15.509-15.509zM2642.83 1445.23l15.509 15.509-15.509 15.509-15.509-15.509zM2937.5 1739.9l15.509 15.509-15.509 15.509-15.509-15.509zM2968.52 1770.92l15.509 15.509-15.509 15.509-15.509-15.509zM2984.03 1786.43l15.509 15.509-15.509 15.509-15.509-15.509zM2999.54 1770.92l15.509 15.509-15.509 15.509-15.509-15.509zM2301.63 1042l15.509 15.509-15.509 15.509-15.509-15.509zM2317.14 1057.51l15.509 15.509-15.509 15.509-15.509-15.509zM3030.56 1770.92l15.509 15.509-15.509 15.509-15.509-15.509zM2332.65 1042l15.509 15.509-15.509 15.509-15.509-15.509zM2751.39 1429.72l15.509 15.509-15.509 15.509-15.509-15.509zM2673.85 1321.16l15.509 15.509-15.509 15.509-15.509-15.509zM2766.9 1414.22l15.509 15.509-15.509 15.509-15.509-15.509zM2797.92 1445.23l15.509 15.509-15.509 15.509-15.509-15.509zM3061.58 1615.83l15.509 15.509-15.509 15.509-15.509-15.509zM3123.61 1677.87l15.509 15.509-15.509 15.509-15.509-15.509zM3077.08 1600.32l15.509 15.509-15.509 15.509-15.509-15.509zM3139.12 1662.36l15.509 15.509-15.509 15.509-15.509-15.509zM2689.36 1150.56l15.509 15.509-15.509 15.509-15.509-15.509zM3108.1 1569.31l15.509 15.509-15.509 15.509-15.509-15.509zM3170.14 1631.34l15.509 15.509-15.509 15.509-15.509-15.509zM3108.1 1507.27l15.509 15.509-15.509 15.509-15.509-15.509zM3185.65 1584.82l15.509 15.509-15.509 15.509-15.509-15.509zM3123.61 1491.76l15.509 15.509-15.509 15.509-15.509-15.509zM3201.16 1569.31l15.509 15.509-15.509 15.509-15.509-15.509zM3061.58 1243.62l15.509 15.509-15.509 15.509-15.509-15.509zM3216.66 1398.71l15.509 15.509-15.509 15.509-15.509-15.509zM3294.21 1476.25l15.509 15.509-15.509 15.509-15.509-15.509zM3294.21 1445.23l15.509 15.509-15.509 15.509-15.509-15.509zM3092.59 1212.6l15.509 15.509-15.509 15.509-15.509-15.509zM3247.68 1367.69l15.509 15.509-15.509 15.509-15.509-15.509zM3309.72 1429.72l15.509 15.509-15.509 15.509-15.509-15.509zM3356.25 1445.23l15.509 15.509-15.509 15.509-15.509-15.509zM3309.72 1367.69l15.509 15.509-15.509 15.509-15.509-15.509zM3371.76 1429.72l15.509 15.509-15.509 15.509-15.509-15.509zM3247.68 1274.63l15.509 15.509-15.509 15.509-15.509-15.509zM3387.26 1383.2l15.509 15.509-15.509 15.509-15.509-15.509zM3170.14 1135.05l15.509 15.509-15.509 15.509-15.509-15.509zM3387.26 1290.14l15.509 15.509-15.509 15.509-15.509-15.509zM3449.3 1352.18l15.509 15.509-15.509 15.509-15.509-15.509zM3340.74 1181.58l15.509 15.509-15.509 15.509-15.509-15.509zM3371.76 1150.56l15.509 15.509-15.509 15.509-15.509-15.509zM3464.81 1212.6l15.509 15.509-15.509 15.509-15.509-15.509zM3526.85 1274.63l15.509 15.509-15.509 15.509-15.509-15.509zM3542.35 1259.13l15.509 15.509-15.509 15.509-15.509-15.509zM3495.83 1181.58l15.509 15.509-15.509 15.509-15.509-15.509zM3557.86 1243.62l15.509 15.509-15.509 15.509-15.509-15.509zM3433.79 1088.53l15.509 15.509-15.509 15.509-15.509-15.509zM3526.85 1026.49l15.509 15.509-15.509 15.509-15.509-15.509zM3588.88 1088.53l15.509 15.509-15.509 15.509-15.509-15.509z" fill="#FA4A19"/>
<path d="M1216 1879.49l15.509 15.509-15.509 15.509-15.509-15.509zM1231.51 1894.99l15.509 15.509-15.509 15.509-15.509-15.509zM1247.02 1910.5l15.509 15.509-15.509 15.509-15.509-15.509zM1851.87 2515.36l15.509 15.509-15.509 15.509-15.509-15.509zM998.878 1631.34l15.509 15.509-15.509 15.509-15.509-15.509zM1029.9 1662.36l15.509 15.509-15.509 15.509-15.509-15.509zM1262.53 1894.99l15.509 15.509-15.509 15.509-15.509-15.509zM1417.62 2050.09l15.509 15.509-15.509 15.509-15.509-15.509zM1433.13 2065.59l15.509 15.509-15.509 15.509-15.509-15.509zM1448.64 2081.1l15.509 15.509-15.509 15.509-15.509-15.509zM1603.73 2236.19l15.509 15.509-15.509 15.509-15.509-15.509zM1619.24 2251.7l15.509 15.509-15.509 15.509-15.509-15.509zM1634.75 2267.21l15.509 15.509-15.509 15.509-15.509-15.509zM1650.26 2282.72l15.509 15.509-15.509 15.509-15.509-15.509zM1913.91 2546.37l15.509 15.509-15.509 15.509-15.509-15.509zM1929.42 2561.88l15.509 15.509-15.509 15.509-15.509-15.509zM766.243 1367.69l15.509 15.509-15.509 15.509-15.509-15.509zM859.297 1460.74l15.509 15.509-15.509 15.509-15.509-15.509zM890.315 1491.76l15.509 15.509-15.509 15.509-15.509-15.509zM905.824 1507.27l15.509 15.509-15.509 15.509-15.509-15.509zM967.86 1569.31l15.509 15.509-15.509 15.509-15.509-15.509zM983.369 1584.82l15.509 15.509-15.509 15.509-15.509-15.509zM1076.42 1677.87l15.509 15.509-15.509 15.509-15.509-15.509zM1091.93 1693.38l15.509 15.509-15.509 15.509-15.509-15.509zM1122.95 1724.4l15.509 15.509-15.509 15.509-15.509-15.509zM1138.46 1739.9l15.509 15.509-15.509 15.509-15.509-15.509zM1153.97 1755.41l15.509 15.509-15.509 15.509-15.509-15.509zM1169.48 1770.92l15.509 15.509-15.509 15.509-15.509-15.509zM1278.04 1879.49l15.509 15.509-15.509 15.509-15.509-15.509zM1293.55 1894.99l15.509 15.509-15.509 15.509-15.509-15.509zM1433.13 2034.58l15.509 15.509-15.509 15.509-15.509-15.509zM1448.64 2050.09l15.509 15.509-15.509 15.509-15.509-15.509zM1464.15 2065.59l15.509 15.509-15.509 15.509-15.509-15.509zM1510.67 2112.12l15.509 15.509-15.509 15.509-15.509-15.509zM1634.75 2236.19l15.509 15.509-15.509 15.509-15.509-15.509zM1650.26 2251.7l15.509 15.509-15.509 15.509-15.509-15.509zM1665.77 2267.21l15.509 15.509-15.509 15.509-15.509-15.509zM1929.42 2530.86l15.509 15.509-15.509 15.509-15.509-15.509zM1944.93 2546.37l15.509 15.509-15.509 15.509-15.509-15.509zM2053.49 2654.94l15.509 15.509-15.509 15.509-15.509-15.509zM2084.51 2685.95l15.509 15.509-15.509 15.509-15.509-15.509zM921.333 1491.76l15.509 15.509-15.509 15.509-15.509-15.509zM1122.95 1693.38l15.509 15.509-15.509 15.509-15.509-15.509zM1541.69 2112.12l15.509 15.509-15.509 15.509-15.509-15.509zM1650.26 2220.68l15.509 15.509-15.509 15.509-15.509-15.509zM2069 2639.43l15.509 15.509-15.509 15.509-15.509-15.509zM983.369 1522.78l15.509 15.509-15.509 15.509-15.509-15.509zM1138.46 1677.87l15.509 15.509-15.509 15.509-15.509-15.509zM1526.18 2065.59l15.509 15.509-15.509 15.509-15.509-15.509zM1541.69 2081.1l15.509 15.509-15.509 15.509-15.509-15.509zM1557.2 2096.61l15.509 15.509-15.509 15.509-15.509-15.509zM1572.71 2112.12l15.509 15.509-15.509 15.509-15.509-15.509zM1278.04 1786.43l15.509 15.509-15.509 15.509-15.509-15.509zM1293.55 1801.94l15.509 15.509-15.509 15.509-15.509-15.509zM1324.57 1832.96l15.509 15.509-15.509 15.509-15.509-15.509zM2100.02 2608.41l15.509 15.509-15.509 15.509-15.509-15.509zM2131.03 2639.43l15.509 15.509-15.509 15.509-15.509-15.509zM673.189 1150.56l15.509 15.509-15.509 15.509-15.509-15.509zM828.279 1305.65l15.509 15.509-15.509 15.509-15.509-15.509zM843.788 1321.16l15.509 15.509-15.509 15.509-15.509-15.509zM1029.9 1507.27l15.509 15.509-15.509 15.509-15.509-15.509zM1091.93 1569.31l15.509 15.509-15.509 15.509-15.509-15.509zM1138.46 1615.83l15.509 15.509-15.509 15.509-15.509-15.509zM1184.99 1662.36l15.509 15.509-15.509 15.509-15.509-15.509zM1278.04 1755.41l15.509 15.509-15.509 15.509-15.509-15.509zM1293.55 1770.92l15.509 15.509-15.509 15.509-15.509-15.509zM1309.06 1786.43l15.509 15.509-15.509 15.509-15.509-15.509zM1324.57 1801.94l15.509 15.509-15.509 15.509-15.509-15.509zM1355.59 1832.96l15.509 15.509-15.509 15.509-15.509-15.509zM1557.2 2034.58l15.509 15.509-15.509 15.509-15.509-15.509zM1603.73 2081.1l15.509 15.509-15.509 15.509-15.509-15.509zM1619.24 2096.61l15.509 15.509-15.509 15.509-15.509-15.509zM1634.75 2112.12l15.509 15.509-15.509 15.509-15.509-15.509zM1650.26 2127.63l15.509 15.509-15.509 15.509-15.509-15.509zM1665.77 2143.14l15.509 15.509-15.509 15.509-15.509-15.509zM1774.33 2251.7l15.509 15.509-15.509 15.509-15.509-15.509zM1805.35 2282.72l15.509 15.509-15.509 15.509-15.509-15.509zM1820.86 2298.23l15.509 15.509-15.509 15.509-15.509-15.509zM1836.36 2313.74l15.509 15.509-15.509 15.509-15.509-15.509zM1929.42 2406.79l15.509 15.509-15.509 15.509-15.509-15.509zM1944.93 2422.3l15.509 15.509-15.509 15.509-15.509-15.509zM1960.44 2437.81l15.509 15.509-15.509 15.509-15.509-15.509zM1975.94 2453.32l15.509 15.509-15.509 15.509-15.509-15.509zM1991.45 2468.83l15.509 15.509-15.509 15.509-15.509-15.509zM2115.53 2592.9l15.509 15.509-15.509 15.509-15.509-15.509zM2131.03 2608.41l15.509 15.509-15.509 15.509-15.509-15.509zM843.788 1290.14l15.509 15.509-15.509 15.509-15.509-15.509zM859.297 1305.65l15.509 15.509-15.509 15.509-15.509-15.509zM952.351 1398.71l15.509 15.509-15.509 15.509-15.509-15.509zM1060.91 1507.27l15.509 15.509-15.509 15.509-15.509-15.509zM1076.42 1522.78l15.509 15.509-15.509 15.509-15.509-15.509zM1091.93 1538.29l15.509 15.509-15.509 15.509-15.509-15.509zM1153.97 1600.32l15.509 15.509-15.509 15.509-15.509-15.509zM1293.55 1739.9l15.509 15.509-15.509 15.509-15.509-15.509zM1309.06 1755.41l15.509 15.509-15.509 15.509-15.509-15.509zM1324.57 1770.92l15.509 15.509-15.509 15.509-15.509-15.509zM1340.08 1786.43l15.509 15.509-15.509 15.509-15.509-15.509zM1355.59 1801.94l15.509 15.509-15.509 15.509-15.509-15.509zM1619.24 2065.59l15.509 15.509-15.509 15.509-15.509-15.509zM1634.75 2081.1l15.509 15.509-15.509 15.509-15.509-15.509zM1650.26 2096.61l15.509 15.509-15.509 15.509-15.509-15.509zM1665.77 2112.12l15.509 15.509-15.509 15.509-15.509-15.509zM1681.27 2127.63l15.509 15.509-15.509 15.509-15.509-15.509zM1743.31 2189.67l15.509 15.509-15.509 15.509-15.509-15.509zM1789.84 2236.19l15.509 15.509-15.509 15.509-15.509-15.509zM1836.36 2282.72l15.509 15.509-15.509 15.509-15.509-15.509zM1851.87 2298.23l15.509 15.509-15.509 15.509-15.509-15.509zM1944.93 2391.28l15.509 15.509-15.509 15.509-15.509-15.509zM1960.44 2406.79l15.509 15.509-15.509 15.509-15.509-15.509zM1975.94 2422.3l15.509 15.509-15.509 15.509-15.509-15.509zM1991.45 2437.81l15.509 15.509-15.509 15.509-15.509-15.509zM2006.96 2453.32l15.509 15.509-15.509 15.509-15.509-15.509zM2131.03 2577.39l15.509 15.509-15.509 15.509-15.509-15.509zM2162.05 2608.41l15.509 15.509-15.509 15.509-15.509-15.509zM1169.48 1584.82l15.509 15.509-15.509 15.509-15.509-15.509zM1184.99 1600.32l15.509 15.509-15.509 15.509-15.509-15.509zM1479.66 1894.99l15.509 15.509-15.509 15.509-15.509-15.509zM1727.8 2143.14l15.509 15.509-15.509 15.509-15.509-15.509zM1758.82 2174.16l15.509 15.509-15.509 15.509-15.509-15.509zM1913.91 2329.25l15.509 15.509-15.509 15.509-15.509-15.509zM1960.44 2375.77l15.509 15.509-15.509 15.509-15.509-15.509zM1991.45 2406.79l15.509 15.509-15.509 15.509-15.509-15.509zM2006.96 2422.3l15.509 15.509-15.509 15.509-15.509-15.509zM2022.47 2437.81l15.509 15.509-15.509 15.509-15.509-15.509zM797.261 1181.58l15.509 15.509-15.509 15.509-15.509-15.509zM1278.04 1662.36l15.509 15.509-15.509 15.509-15.509-15.509zM1293.55 1677.87l15.509 15.509-15.509 15.509-15.509-15.509zM1619.24 2003.56l15.509 15.509-15.509 15.509-15.509-15.509zM1634.75 2019.07l15.509 15.509-15.509 15.509-15.509-15.509zM1650.26 2034.58l15.509 15.509-15.509 15.509-15.509-15.509zM1929.42 2313.74l15.509 15.509-15.509 15.509-15.509-15.509zM905.824 1259.13l15.509 15.509-15.509 15.509-15.509-15.509zM983.369 1336.67l15.509 15.509-15.509 15.509-15.509-15.509zM1014.39 1367.69l15.509 15.509-15.509 15.509-15.509-15.509zM1091.93 1445.23l15.509 15.509-15.509 15.509-15.509-15.509zM1107.44 1460.74l15.509 15.509-15.509 15.509-15.509-15.509zM1138.46 1491.76l15.509 15.509-15.509 15.509-15.509-15.509zM1247.02 1600.32l15.509 15.509-15.509 15.509-15.509-15.509zM1309.06 1662.36l15.509 15.509-15.509 15.509-15.509-15.509zM1557.2 1910.5l15.509 15.509-15.509 15.509-15.509-15.509zM1572.71 1926.01l15.509 15.509-15.509 15.509-15.509-15.509zM1603.73 1957.03l15.509 15.509-15.509 15.509-15.509-15.509zM1619.24 1972.54l15.509 15.509-15.509 15.509-15.509-15.509zM2053.49 2406.79l15.509 15.509-15.509 15.509-15.509-15.509zM2069 2422.3l15.509 15.509-15.509 15.509-15.509-15.509zM905.824 1228.11l15.509 15.509-15.509 15.509-15.509-15.509zM921.333 1243.62l15.509 15.509-15.509 15.509-15.509-15.509zM998.878 1321.16l15.509 15.509-15.509 15.509-15.509-15.509zM1045.4 1367.69l15.509 15.509-15.509 15.509-15.509-15.509zM1091.93 1414.22l15.509 15.509-15.509 15.509-15.509-15.509zM1153.97 1476.25l15.509 15.509-15.509 15.509-15.509-15.509zM1184.99 1507.27l15.509 15.509-15.509 15.509-15.509-15.509zM1262.53 1584.82l15.509 15.509-15.509 15.509-15.509-15.509zM1371.09 1693.38l15.509 15.509-15.509 15.509-15.509-15.509zM1386.6 1708.89l15.509 15.509-15.509 15.509-15.509-15.509zM1402.11 1724.4l15.509 15.509-15.509 15.509-15.509-15.509zM1417.62 1739.9l15.509 15.509-15.509 15.509-15.509-15.509zM1572.71 1894.99l15.509 15.509-15.509 15.509-15.509-15.509zM1588.22 1910.5l15.509 15.509-15.509 15.509-15.509-15.509zM1619.24 1941.52l15.509 15.509-15.509 15.509-15.509-15.509zM1634.75 1957.03l15.509 15.509-15.509 15.509-15.509-15.509zM2037.98 2360.27l15.509 15.509-15.509 15.509-15.509-15.509zM2069 2391.28l15.509 15.509-15.509 15.509-15.509-15.509zM2084.51 2406.79l15.509 15.509-15.509 15.509-15.509-15.509zM2177.56 2499.85l15.509 15.509-15.509 15.509-15.509-15.509zM2193.07 2515.36l15.509 15.509-15.509 15.509-15.509-15.509zM1014.39 1305.65l15.509 15.509-15.509 15.509-15.509-15.509zM1184.99 1476.25l15.509 15.509-15.509 15.509-15.509-15.509zM1200.49 1491.76l15.509 15.509-15.509 15.509-15.509-15.509zM1278.04 1569.31l15.509 15.509-15.509 15.509-15.509-15.509zM1293.55 1584.82l15.509 15.509-15.509 15.509-15.509-15.509zM1340.08 1631.34l15.509 15.509-15.509 15.509-15.509-15.509zM1588.22 1879.49l15.509 15.509-15.509 15.509-15.509-15.509zM1603.73 1894.99l15.509 15.509-15.509 15.509-15.509-15.509zM1634.75 1926.01l15.509 15.509-15.509 15.509-15.509-15.509zM1650.26 1941.52l15.509 15.509-15.509 15.509-15.509-15.509zM2053.49 2344.76l15.509 15.509-15.509 15.509-15.509-15.509zM2084.51 2375.77l15.509 15.509-15.509 15.509-15.509-15.509zM2100.02 2391.28l15.509 15.509-15.509 15.509-15.509-15.509zM797.261 1057.51l15.509 15.509-15.509 15.509-15.509-15.509zM905.824 1166.07l15.509 15.509-15.509 15.509-15.509-15.509zM1029.9 1290.14l15.509 15.509-15.509 15.509-15.509-15.509zM1060.91 1321.16l15.509 15.509-15.509 15.509-15.509-15.509zM1216 1476.25l15.509 15.509-15.509 15.509-15.509-15.509zM1293.55 1553.8l15.509 15.509-15.509 15.509-15.509-15.509zM2053.49 2313.74l15.509 15.509-15.509 15.509-15.509-15.509zM2100.02 2360.27l15.509 15.509-15.509 15.509-15.509-15.509zM2115.53 2375.77l15.509 15.509-15.509 15.509-15.509-15.509zM2131.03 2391.28l15.509 15.509-15.509 15.509-15.509-15.509zM2239.6 2499.85l15.509 15.509-15.509 15.509-15.509-15.509zM2255.11 2515.36l15.509 15.509-15.509 15.509-15.509-15.509zM967.86 1197.09l15.509 15.509-15.509 15.509-15.509-15.509zM1402.11 1631.34l15.509 15.509-15.509 15.509-15.509-15.509zM1417.62 1646.85l15.509 15.509-15.509 15.509-15.509-15.509zM1541.69 1770.92l15.509 15.509-15.509 15.509-15.509-15.509zM1619.24 1848.47l15.509 15.509-15.509 15.509-15.509-15.509zM2069 2298.23l15.509 15.509-15.509 15.509-15.509-15.509zM2162.05 2391.28l15.509 15.509-15.509 15.509-15.509-15.509zM967.86 1166.07l15.509 15.509-15.509 15.509-15.509-15.509zM983.369 1181.58l15.509 15.509-15.509 15.509-15.509-15.509zM1169.48 1367.69l15.509 15.509-15.509 15.509-15.509-15.509zM1278.04 1476.25l15.509 15.509-15.509 15.509-15.509-15.509zM1293.55 1491.76l15.509 15.509-15.509 15.509-15.509-15.509zM1634.75 1832.96l15.509 15.509-15.509 15.509-15.509-15.509zM1650.26 1848.47l15.509 15.509-15.509 15.509-15.509-15.509zM1665.77 1863.98l15.509 15.509-15.509 15.509-15.509-15.509zM1712.29 1910.5l15.509 15.509-15.509 15.509-15.509-15.509zM1727.8 1926.01l15.509 15.509-15.509 15.509-15.509-15.509zM1743.31 1941.52l15.509 15.509-15.509 15.509-15.509-15.509zM1758.82 1957.03l15.509 15.509-15.509 15.509-15.509-15.509zM1774.33 1972.54l15.509 15.509-15.509 15.509-15.509-15.509zM1789.84 1988.05l15.509 15.509-15.509 15.509-15.509-15.509zM1805.35 2003.56l15.509 15.509-15.509 15.509-15.509-15.509zM2115.53 2313.74l15.509 15.509-15.509 15.509-15.509-15.509zM2131.03 2329.25l15.509 15.509-15.509 15.509-15.509-15.509zM2146.54 2344.76l15.509 15.509-15.509 15.509-15.509-15.509zM2239.6 2437.81l15.509 15.509-15.509 15.509-15.509-15.509zM2255.11 2453.32l15.509 15.509-15.509 15.509-15.509-15.509zM952.351 1119.55l15.509 15.509-15.509 15.509-15.509-15.509zM998.878 1166.07l15.509 15.509-15.509 15.509-15.509-15.509zM1076.42 1243.62l15.509 15.509-15.509 15.509-15.509-15.509zM1107.44 1274.63l15.509 15.509-15.509 15.509-15.509-15.509zM1184.99 1352.18l15.509 15.509-15.509 15.509-15.509-15.509zM1200.49 1367.69l15.509 15.509-15.509 15.509-15.509-15.509zM1836.36 2003.56l15.509 15.509-15.509 15.509-15.509-15.509zM1867.38 2034.58l15.509 15.509-15.509 15.509-15.509-15.509zM1913.91 2081.1l15.509 15.509-15.509 15.509-15.509-15.509zM1929.42 2096.61l15.509 15.509-15.509 15.509-15.509-15.509zM1944.93 2112.12l15.509 15.509-15.509 15.509-15.509-15.509zM1960.44 2127.63l15.509 15.509-15.509 15.509-15.509-15.509zM1975.94 2143.14l15.509 15.509-15.509 15.509-15.509-15.509zM2022.47 2189.67l15.509 15.509-15.509 15.509-15.509-15.509zM2037.98 2205.18l15.509 15.509-15.509 15.509-15.509-15.509zM2053.49 2220.68l15.509 15.509-15.509 15.509-15.509-15.509zM2146.54 2313.74l15.509 15.509-15.509 15.509-15.509-15.509zM2162.05 2329.25l15.509 15.509-15.509 15.509-15.509-15.509zM1014.39 1150.56l15.509 15.509-15.509 15.509-15.509-15.509zM1743.31 1879.49l15.509 15.509-15.509 15.509-15.509-15.509zM1851.87 1988.05l15.509 15.509-15.509 15.509-15.509-15.509zM1867.38 2003.56l15.509 15.509-15.509 15.509-15.509-15.509zM1882.89 2019.07l15.509 15.509-15.509 15.509-15.509-15.509zM1929.42 2065.59l15.509 15.509-15.509 15.509-15.509-15.509zM1944.93 2081.1l15.509 15.509-15.509 15.509-15.509-15.509zM1960.44 2096.61l15.509 15.509-15.509 15.509-15.509-15.509zM1975.94 2112.12l15.509 15.509-15.509 15.509-15.509-15.509zM1991.45 2127.63l15.509 15.509-15.509 15.509-15.509-15.509zM2037.98 2174.16l15.509 15.509-15.509 15.509-15.509-15.509zM2053.49 2189.67l15.509 15.509-15.509 15.509-15.509-15.509zM2069 2205.18l15.509 15.509-15.509 15.509-15.509-15.509zM2255.11 2391.28l15.509 15.509-15.509 15.509-15.509-15.509zM1045.4 1150.56l15.509 15.509-15.509 15.509-15.509-15.509zM1774.33 1879.49l15.509 15.509-15.509 15.509-15.509-15.509zM1867.38 1972.54l15.509 15.509-15.509 15.509-15.509-15.509zM1882.89 1988.05l15.509 15.509-15.509 15.509-15.509-15.509zM1898.4 2003.56l15.509 15.509-15.509 15.509-15.509-15.509zM1944.93 2050.09l15.509 15.509-15.509 15.509-15.509-15.509zM1960.44 2065.59l15.509 15.509-15.509 15.509-15.509-15.509zM1975.94 2081.1l15.509 15.509-15.509 15.509-15.509-15.509zM1991.45 2096.61l15.509 15.509-15.509 15.509-15.509-15.509zM2006.96 2112.12l15.509 15.509-15.509 15.509-15.509-15.509zM2053.49 2158.65l15.509 15.509-15.509 15.509-15.509-15.509zM2069 2174.16l15.509 15.509-15.509 15.509-15.509-15.509zM2084.51 2189.67l15.509 15.509-15.509 15.509-15.509-15.509zM1650.26 1724.4l15.509 15.509-15.509 15.509-15.509-15.509zM1216 1259.13l15.509 15.509-15.509 15.509-15.509-15.509zM1309.06 1352.18l15.509 15.509-15.509 15.509-15.509-15.509zM1510.67 1553.8l15.509 15.509-15.509 15.509-15.509-15.509zM1526.18 1569.31l15.509 15.509-15.509 15.509-15.509-15.509zM1541.69 1584.82l15.509 15.509-15.509 15.509-15.509-15.509zM1557.2 1600.32l15.509 15.509-15.509 15.509-15.509-15.509zM1650.26 1693.38l15.509 15.509-15.509 15.509-15.509-15.509zM1665.77 1708.89l15.509 15.509-15.509 15.509-15.509-15.509zM2270.62 2313.74l15.509 15.509-15.509 15.509-15.509-15.509zM1060.91 1073.02l15.509 15.509-15.509 15.509-15.509-15.509zM1153.97 1166.07l15.509 15.509-15.509 15.509-15.509-15.509zM1169.48 1181.58l15.509 15.509-15.509 15.509-15.509-15.509zM1184.99 1197.09l15.509 15.509-15.509 15.509-15.509-15.509zM1200.49 1212.6l15.509 15.509-15.509 15.509-15.509-15.509zM1231.51 1243.62l15.509 15.509-15.509 15.509-15.509-15.509zM1262.53 1274.63l15.509 15.509-15.509 15.509-15.509-15.509zM1278.04 1290.14l15.509 15.509-15.509 15.509-15.509-15.509zM1417.62 1429.72l15.509 15.509-15.509 15.509-15.509-15.509zM1727.8 1739.9l15.509 15.509-15.509 15.509-15.509-15.509zM1743.31 1755.41l15.509 15.509-15.509 15.509-15.509-15.509zM1758.82 1770.92l15.509 15.509-15.509 15.509-15.509-15.509zM1774.33 1786.43l15.509 15.509-15.509 15.509-15.509-15.509zM1789.84 1801.94l15.509 15.509-15.509 15.509-15.509-15.509zM1836.36 1848.47l15.509 15.509-15.509 15.509-15.509-15.509zM1867.38 1879.49l15.509 15.509-15.509 15.509-15.509-15.509zM1882.89 1894.99l15.509 15.509-15.509 15.509-15.509-15.509zM1898.4 1910.5l15.509 15.509-15.509 15.509-15.509-15.509zM1960.44 1972.54l15.509 15.509-15.509 15.509-15.509-15.509zM1975.94 1988.05l15.509 15.509-15.509 15.509-15.509-15.509zM2006.96 2019.07l15.509 15.509-15.509 15.509-15.509-15.509zM2037.98 2050.09l15.509 15.509-15.509 15.509-15.509-15.509zM2053.49 2065.59l15.509 15.509-15.509 15.509-15.509-15.509zM2069 2081.1l15.509 15.509-15.509 15.509-15.509-15.509zM2131.03 2143.14l15.509 15.509-15.509 15.509-15.509-15.509zM2162.05 2174.16l15.509 15.509-15.509 15.509-15.509-15.509zM2193.07 2205.18l15.509 15.509-15.509 15.509-15.509-15.509zM2208.58 2220.68l15.509 15.509-15.509 15.509-15.509-15.509zM2224.09 2236.19l15.509 15.509-15.509 15.509-15.509-15.509zM2239.6 2251.7l15.509 15.509-15.509 15.509-15.509-15.509zM2317.14 2329.25l15.509 15.509-15.509 15.509-15.509-15.509zM2332.65 2344.76l15.509 15.509-15.509 15.509-15.509-15.509zM2348.16 2360.27l15.509 15.509-15.509 15.509-15.509-15.509zM2379.18 2391.28l15.509 15.509-15.509 15.509-15.509-15.509zM1851.87 1832.96l15.509 15.509-15.509 15.509-15.509-15.509zM1107.44 1057.51l15.509 15.509-15.509 15.509-15.509-15.509zM1557.2 1507.27l15.509 15.509-15.509 15.509-15.509-15.509zM2193.07 2143.14l15.509 15.509-15.509 15.509-15.509-15.509zM2208.58 2158.65l15.509 15.509-15.509 15.509-15.509-15.509zM1231.51 1119.55l15.509 15.509-15.509 15.509-15.509-15.509zM1355.59 1243.62l15.509 15.509-15.509 15.509-15.509-15.509zM1433.13 1321.16l15.509 15.509-15.509 15.509-15.509-15.509zM1495.17 1383.2l15.509 15.509-15.509 15.509-15.509-15.509zM1820.86 1708.89l15.509 15.509-15.509 15.509-15.509-15.509zM1898.4 1786.43l15.509 15.509-15.509 15.509-15.509-15.509zM1913.91 1801.94l15.509 15.509-15.509 15.509-15.509-15.509zM1929.42 1817.45l15.509 15.509-15.509 15.509-15.509-15.509zM1944.93 1832.96l15.509 15.509-15.509 15.509-15.509-15.509zM1960.44 1848.47l15.509 15.509-15.509 15.509-15.509-15.509zM2022.47 1910.5l15.509 15.509-15.509 15.509-15.509-15.509zM2131.03 2019.07l15.509 15.509-15.509 15.509-15.509-15.509zM2270.62 2158.65l15.509 15.509-15.509 15.509-15.509-15.509zM2332.65 2220.68l15.509 15.509-15.509 15.509-15.509-15.509zM2348.16 2236.19l15.509 15.509-15.509 15.509-15.509-15.509zM2394.69 2282.72l15.509 15.509-15.509 15.509-15.509-15.509zM1169.48 1026.49l15.509 15.509-15.509 15.509-15.509-15.509zM1309.06 1166.07l15.509 15.509-15.509 15.509-15.509-15.509zM1371.09 1228.11l15.509 15.509-15.509 15.509-15.509-15.509zM1386.6 1243.62l15.509 15.509-15.509 15.509-15.509-15.509zM1402.11 1259.13l15.509 15.509-15.509 15.509-15.509-15.509zM1417.62 1274.63l15.509 15.509-15.509 15.509-15.509-15.509zM1433.13 1290.14l15.509 15.509-15.509 15.509-15.509-15.509zM1526.18 1383.2l15.509 15.509-15.509 15.509-15.509-15.509zM1541.69 1398.71l15.509 15.509-15.509 15.509-15.509-15.509zM1557.2 1414.22l15.509 15.509-15.509 15.509-15.509-15.509zM1572.71 1429.72l15.509 15.509-15.509 15.509-15.509-15.509zM1634.75 1491.76l15.509 15.509-15.509 15.509-15.509-15.509zM1650.26 1507.27l15.509 15.509-15.509 15.509-15.509-15.509zM1712.29 1569.31l15.509 15.509-15.509 15.509-15.509-15.509zM2115.53 1972.54l15.509 15.509-15.509 15.509-15.509-15.509zM2131.03 1988.05l15.509 15.509-15.509 15.509-15.509-15.509zM2146.54 2003.56l15.509 15.509-15.509 15.509-15.509-15.509zM2162.05 2019.07l15.509 15.509-15.509 15.509-15.509-15.509zM2224.09 2081.1l15.509 15.509-15.509 15.509-15.509-15.509zM2255.11 2112.12l15.509 15.509-15.509 15.509-15.509-15.509zM2348.16 2205.18l15.509 15.509-15.509 15.509-15.509-15.509zM2379.18 2236.19l15.509 15.509-15.509 15.509-15.509-15.509zM1324.57 1150.56l15.509 15.509-15.509 15.509-15.509-15.509zM1417.62 1243.62l15.509 15.509-15.509 15.509-15.509-15.509zM1572.71 1398.71l15.509 15.509-15.509 15.509-15.509-15.509zM1619.24 1445.23l15.509 15.509-15.509 15.509-15.509-15.509zM1634.75 1460.74l15.509 15.509-15.509 15.509-15.509-15.509zM1650.26 1476.25l15.509 15.509-15.509 15.509-15.509-15.509zM1743.31 1569.31l15.509 15.509-15.509 15.509-15.509-15.509zM2239.6 2065.59l15.509 15.509-15.509 15.509-15.509-15.509zM2348.16 2174.16l15.509 15.509-15.509 15.509-15.509-15.509zM2394.69 2220.68l15.509 15.509-15.509 15.509-15.509-15.509zM1665.77 1460.74l15.509 15.509-15.509 15.509-15.509-15.509zM1681.27 1476.25l15.509 15.509-15.509 15.509-15.509-15.509zM1727.8 1522.78l15.509 15.509-15.509 15.509-15.509-15.509zM2193.07 1988.05l15.509 15.509-15.509 15.509-15.509-15.509zM2208.58 2003.56l15.509 15.509-15.509 15.509-15.509-15.509zM2224.09 2019.07l15.509 15.509-15.509 15.509-15.509-15.509zM2255.11 2050.09l15.509 15.509-15.509 15.509-15.509-15.509zM2472.23 2267.21l15.509 15.509-15.509 15.509-15.509-15.509zM1464.15 1228.11l15.509 15.509-15.509 15.509-15.509-15.509zM1526.18 1290.14l15.509 15.509-15.509 15.509-15.509-15.509zM2208.58 1972.54l15.509 15.509-15.509 15.509-15.509-15.509zM2224.09 1988.05l15.509 15.509-15.509 15.509-15.509-15.509zM2239.6 2003.56l15.509 15.509-15.509 15.509-15.509-15.509zM1712.29 1445.23l15.509 15.509-15.509 15.509-15.509-15.509zM1913.91 1646.85l15.509 15.509-15.509 15.509-15.509-15.509zM2193.07 1926.01l15.509 15.509-15.509 15.509-15.509-15.509zM2286.12 2019.07l15.509 15.509-15.509 15.509-15.509-15.509zM1464.15 1166.07l15.509 15.509-15.509 15.509-15.509-15.509zM1712.29 1414.22l15.509 15.509-15.509 15.509-15.509-15.509zM1727.8 1429.72l15.509 15.509-15.509 15.509-15.509-15.509zM1774.33 1476.25l15.509 15.509-15.509 15.509-15.509-15.509zM2239.6 1941.52l15.509 15.509-15.509 15.509-15.509-15.509zM2425.71 2127.63l15.509 15.509-15.509 15.509-15.509-15.509zM2456.72 2158.65l15.509 15.509-15.509 15.509-15.509-15.509zM2472.23 2174.16l15.509 15.509-15.509 15.509-15.509-15.509zM2487.74 2189.67l15.509 15.509-15.509 15.509-15.509-15.509zM2503.25 2205.18l15.509 15.509-15.509 15.509-15.509-15.509zM1696.78 1367.69l15.509 15.509-15.509 15.509-15.509-15.509zM1712.29 1383.2l15.509 15.509-15.509 15.509-15.509-15.509zM1727.8 1398.71l15.509 15.509-15.509 15.509-15.509-15.509zM1743.31 1414.22l15.509 15.509-15.509 15.509-15.509-15.509zM1758.82 1429.72l15.509 15.509-15.509 15.509-15.509-15.509zM1774.33 1445.23l15.509 15.509-15.509 15.509-15.509-15.509zM2549.78 2220.68l15.509 15.509-15.509 15.509-15.509-15.509zM1495.17 1135.05l15.509 15.509-15.509 15.509-15.509-15.509zM1526.18 1166.07l15.509 15.509-15.509 15.509-15.509-15.509zM1743.31 1383.2l15.509 15.509-15.509 15.509-15.509-15.509zM1758.82 1398.71l15.509 15.509-15.509 15.509-15.509-15.509zM1789.84 1429.72l15.509 15.509-15.509 15.509-15.509-15.509zM2301.63 1941.52l15.509 15.509-15.509 15.509-15.509-15.509zM2332.65 1972.54l15.509 15.509-15.509 15.509-15.509-15.509zM2456.72 2096.61l15.509 15.509-15.509 15.509-15.509-15.509zM2487.74 2127.63l15.509 15.509-15.509 15.509-15.509-15.509zM1727.8 1336.67l15.509 15.509-15.509 15.509-15.509-15.509zM1929.42 1538.29l15.509 15.509-15.509 15.509-15.509-15.509zM1944.93 1553.8l15.509 15.509-15.509 15.509-15.509-15.509zM1975.94 1584.82l15.509 15.509-15.509 15.509-15.509-15.509zM2348.16 1957.03l15.509 15.509-15.509 15.509-15.509-15.509zM2503.25 2112.12l15.509 15.509-15.509 15.509-15.509-15.509zM2208.58 1786.43l15.509 15.509-15.509 15.509-15.509-15.509zM2255.11 1832.96l15.509 15.509-15.509 15.509-15.509-15.509zM2332.65 1910.5l15.509 15.509-15.509 15.509-15.509-15.509zM1681.27 1228.11l15.509 15.509-15.509 15.509-15.509-15.509zM1789.84 1336.67l15.509 15.509-15.509 15.509-15.509-15.509zM1805.35 1352.18l15.509 15.509-15.509 15.509-15.509-15.509zM2162.05 1708.89l15.509 15.509-15.509 15.509-15.509-15.509zM2332.65 1879.49l15.509 15.509-15.509 15.509-15.509-15.509zM2379.18 1926.01l15.509 15.509-15.509 15.509-15.509-15.509zM2503.25 2050.09l15.509 15.509-15.509 15.509-15.509-15.509zM2534.27 2081.1l15.509 15.509-15.509 15.509-15.509-15.509zM2549.78 2096.61l15.509 15.509-15.509 15.509-15.509-15.509zM2565.29 2112.12l15.509 15.509-15.509 15.509-15.509-15.509zM1975.94 1491.76l15.509 15.509-15.509 15.509-15.509-15.509zM1991.45 1507.27l15.509 15.509-15.509 15.509-15.509-15.509zM2022.47 1538.29l15.509 15.509-15.509 15.509-15.509-15.509zM2301.63 1817.45l15.509 15.509-15.509 15.509-15.509-15.509zM2332.65 1848.47l15.509 15.509-15.509 15.509-15.509-15.509zM2611.81 2127.63l15.509 15.509-15.509 15.509-15.509-15.509zM2627.32 2143.14l15.509 15.509-15.509 15.509-15.509-15.509zM1572.71 1057.51l15.509 15.509-15.509 15.509-15.509-15.509zM1603.73 1088.53l15.509 15.509-15.509 15.509-15.509-15.509zM1820.86 1305.65l15.509 15.509-15.509 15.509-15.509-15.509zM1836.36 1321.16l15.509 15.509-15.509 15.509-15.509-15.509zM1867.38 1352.18l15.509 15.509-15.509 15.509-15.509-15.509zM2348.16 1832.96l15.509 15.509-15.509 15.509-15.509-15.509zM2410.2 1894.99l15.509 15.509-15.509 15.509-15.509-15.509zM2565.29 2050.09l15.509 15.509-15.509 15.509-15.509-15.509zM1588.22 1042l15.509 15.509-15.509 15.509-15.509-15.509zM1619.24 1073.02l15.509 15.509-15.509 15.509-15.509-15.509zM1805.35 1259.13l15.509 15.509-15.509 15.509-15.509-15.509zM1836.36 1290.14l15.509 15.509-15.509 15.509-15.509-15.509zM1851.87 1305.65l15.509 15.509-15.509 15.509-15.509-15.509zM1882.89 1336.67l15.509 15.509-15.509 15.509-15.509-15.509zM2363.67 1817.45l15.509 15.509-15.509 15.509-15.509-15.509zM2549.78 2003.56l15.509 15.509-15.509 15.509-15.509-15.509zM2580.8 2034.58l15.509 15.509-15.509 15.509-15.509-15.509zM1820.86 1243.62l15.509 15.509-15.509 15.509-15.509-15.509zM1836.36 1259.13l15.509 15.509-15.509 15.509-15.509-15.509zM1851.87 1274.63l15.509 15.509-15.509 15.509-15.509-15.509zM1867.38 1290.14l15.509 15.509-15.509 15.509-15.509-15.509zM1898.4 1321.16l15.509 15.509-15.509 15.509-15.509-15.509zM2673.85 2096.61l15.509 15.509-15.509 15.509-15.509-15.509zM1727.8 1119.55l15.509 15.509-15.509 15.509-15.509-15.509zM1758.82 1150.56l15.509 15.509-15.509 15.509-15.509-15.509zM1882.89 1274.63l15.509 15.509-15.509 15.509-15.509-15.509zM2100.02 1491.76l15.509 15.509-15.509 15.509-15.509-15.509zM2224.09 1615.83l15.509 15.509-15.509 15.509-15.509-15.509zM2255.11 1646.85l15.509 15.509-15.509 15.509-15.509-15.509zM2301.63 1693.38l15.509 15.509-15.509 15.509-15.509-15.509zM2332.65 1724.4l15.509 15.509-15.509 15.509-15.509-15.509zM2410.2 1801.94l15.509 15.509-15.509 15.509-15.509-15.509zM2425.71 1817.45l15.509 15.509-15.509 15.509-15.509-15.509zM2456.72 1848.47l15.509 15.509-15.509 15.509-15.509-15.509zM2503.25 1894.99l15.509 15.509-15.509 15.509-15.509-15.509zM2534.27 1926.01l15.509 15.509-15.509 15.509-15.509-15.509zM2549.78 1941.52l15.509 15.509-15.509 15.509-15.509-15.509zM2565.29 1957.03l15.509 15.509-15.509 15.509-15.509-15.509zM2611.81 2003.56l15.509 15.509-15.509 15.509-15.509-15.509zM2642.83 2034.58l15.509 15.509-15.509 15.509-15.509-15.509zM1774.33 1135.05l15.509 15.509-15.509 15.509-15.509-15.509zM1882.89 1243.62l15.509 15.509-15.509 15.509-15.509-15.509zM2255.11 1615.83l15.509 15.509-15.509 15.509-15.509-15.509zM2472.23 1832.96l15.509 15.509-15.509 15.509-15.509-15.509zM2596.3 1957.03l15.509 15.509-15.509 15.509-15.509-15.509zM2627.32 1988.05l15.509 15.509-15.509 15.509-15.509-15.509zM2642.83 2003.56l15.509 15.509-15.509 15.509-15.509-15.509zM1758.82 1088.53l15.509 15.509-15.509 15.509-15.509-15.509zM1789.84 1119.55l15.509 15.509-15.509 15.509-15.509-15.509zM1913.91 1243.62l15.509 15.509-15.509 15.509-15.509-15.509zM1929.42 1259.13l15.509 15.509-15.509 15.509-15.509-15.509zM2131.03 1460.74l15.509 15.509-15.509 15.509-15.509-15.509zM2146.54 1476.25l15.509 15.509-15.509 15.509-15.509-15.509zM2162.05 1491.76l15.509 15.509-15.509 15.509-15.509-15.509zM2348.16 1677.87l15.509 15.509-15.509 15.509-15.509-15.509zM2441.22 1770.92l15.509 15.509-15.509 15.509-15.509-15.509zM2456.72 1786.43l15.509 15.509-15.509 15.509-15.509-15.509zM2487.74 1817.45l15.509 15.509-15.509 15.509-15.509-15.509zM2565.29 1894.99l15.509 15.509-15.509 15.509-15.509-15.509zM2580.8 1910.5l15.509 15.509-15.509 15.509-15.509-15.509zM2596.3 1926.01l15.509 15.509-15.509 15.509-15.509-15.509zM2642.83 1972.54l15.509 15.509-15.509 15.509-15.509-15.509zM2673.85 2003.56l15.509 15.509-15.509 15.509-15.509-15.509zM1898.4 1197.09l15.509 15.509-15.509 15.509-15.509-15.509zM1991.45 1290.14l15.509 15.509-15.509 15.509-15.509-15.509zM2006.96 1305.65l15.509 15.509-15.509 15.509-15.509-15.509zM2022.47 1321.16l15.509 15.509-15.509 15.509-15.509-15.509zM2037.98 1336.67l15.509 15.509-15.509 15.509-15.509-15.509zM2503.25 1801.94l15.509 15.509-15.509 15.509-15.509-15.509zM2658.34 1957.03l15.509 15.509-15.509 15.509-15.509-15.509zM1898.4 1166.07l15.509 15.509-15.509 15.509-15.509-15.509zM1913.91 1181.58l15.509 15.509-15.509 15.509-15.509-15.509zM1929.42 1197.09l15.509 15.509-15.509 15.509-15.509-15.509zM1944.93 1212.6l15.509 15.509-15.509 15.509-15.509-15.509zM2627.32 1894.99l15.509 15.509-15.509 15.509-15.509-15.509zM2751.39 2019.07l15.509 15.509-15.509 15.509-15.509-15.509zM1913.91 1150.56l15.509 15.509-15.509 15.509-15.509-15.509zM2658.34 1894.99l15.509 15.509-15.509 15.509-15.509-15.509zM2766.9 2003.56l15.509 15.509-15.509 15.509-15.509-15.509zM2456.72 1662.36l15.509 15.509-15.509 15.509-15.509-15.509zM2549.78 1755.41l15.509 15.509-15.509 15.509-15.509-15.509zM2704.87 1910.5l15.509 15.509-15.509 15.509-15.509-15.509zM2766.9 1972.54l15.509 15.509-15.509 15.509-15.509-15.509zM1975.94 1150.56l15.509 15.509-15.509 15.509-15.509-15.509zM1991.45 1166.07l15.509 15.509-15.509 15.509-15.509-15.509zM2022.47 1197.09l15.509 15.509-15.509 15.509-15.509-15.509zM2503.25 1677.87l15.509 15.509-15.509 15.509-15.509-15.509zM2518.76 1693.38l15.509 15.509-15.509 15.509-15.509-15.509zM2689.36 1863.98l15.509 15.509-15.509 15.509-15.509-15.509zM2720.38 1894.99l15.509 15.509-15.509 15.509-15.509-15.509zM2735.89 1910.5l15.509 15.509-15.509 15.509-15.509-15.509zM2751.39 1926.01l15.509 15.509-15.509 15.509-15.509-15.509zM2766.9 1941.52l15.509 15.509-15.509 15.509-15.509-15.509zM2534.27 1646.85l15.509 15.509-15.509 15.509-15.509-15.509zM2565.29 1677.87l15.509 15.509-15.509 15.509-15.509-15.509zM2596.3 1708.89l15.509 15.509-15.509 15.509-15.509-15.509zM2673.85 1786.43l15.509 15.509-15.509 15.509-15.509-15.509zM2689.36 1801.94l15.509 15.509-15.509 15.509-15.509-15.509zM2751.39 1863.98l15.509 15.509-15.509 15.509-15.509-15.509zM1991.45 1073.02l15.509 15.509-15.509 15.509-15.509-15.509zM2115.53 1197.09l15.509 15.509-15.509 15.509-15.509-15.509zM2580.8 1662.36l15.509 15.509-15.509 15.509-15.509-15.509zM2611.81 1693.38l15.509 15.509-15.509 15.509-15.509-15.509zM2766.9 1848.47l15.509 15.509-15.509 15.509-15.509-15.509zM2115.53 1166.07l15.509 15.509-15.509 15.509-15.509-15.509zM2596.3 1646.85l15.509 15.509-15.509 15.509-15.509-15.509zM2627.32 1677.87l15.509 15.509-15.509 15.509-15.509-15.509zM2735.89 1786.43l15.509 15.509-15.509 15.509-15.509-15.509zM2751.39 1801.94l15.509 15.509-15.509 15.509-15.509-15.509zM2782.41 1832.96l15.509 15.509-15.509 15.509-15.509-15.509zM2022.47 1042l15.509 15.509-15.509 15.509-15.509-15.509zM2037.98 1057.51l15.509 15.509-15.509 15.509-15.509-15.509zM2131.03 1150.56l15.509 15.509-15.509 15.509-15.509-15.509zM2146.54 1166.07l15.509 15.509-15.509 15.509-15.509-15.509zM2162.05 1181.58l15.509 15.509-15.509 15.509-15.509-15.509zM2177.56 1197.09l15.509 15.509-15.509 15.509-15.509-15.509zM2642.83 1662.36l15.509 15.509-15.509 15.509-15.509-15.509zM2797.92 1817.45l15.509 15.509-15.509 15.509-15.509-15.509zM2131.03 1119.55l15.509 15.509-15.509 15.509-15.509-15.509zM2146.54 1135.05l15.509 15.509-15.509 15.509-15.509-15.509zM2286.12 1243.62l15.509 15.509-15.509 15.509-15.509-15.509zM2363.67 1321.16l15.509 15.509-15.509 15.509-15.509-15.509zM2379.18 1336.67l15.509 15.509-15.509 15.509-15.509-15.509zM2394.69 1352.18l15.509 15.509-15.509 15.509-15.509-15.509zM2410.2 1367.69l15.509 15.509-15.509 15.509-15.509-15.509zM2425.71 1383.2l15.509 15.509-15.509 15.509-15.509-15.509zM2518.76 1476.25l15.509 15.509-15.509 15.509-15.509-15.509zM2596.3 1553.8l15.509 15.509-15.509 15.509-15.509-15.509zM2611.81 1569.31l15.509 15.509-15.509 15.509-15.509-15.509zM2627.32 1584.82l15.509 15.509-15.509 15.509-15.509-15.509zM2642.83 1600.32l15.509 15.509-15.509 15.509-15.509-15.509zM2704.87 1662.36l15.509 15.509-15.509 15.509-15.509-15.509zM2720.38 1677.87l15.509 15.509-15.509 15.509-15.509-15.509zM2735.89 1693.38l15.509 15.509-15.509 15.509-15.509-15.509zM2751.39 1708.89l15.509 15.509-15.509 15.509-15.509-15.509zM2766.9 1724.4l15.509 15.509-15.509 15.509-15.509-15.509zM2906.49 1863.98l15.509 15.509-15.509 15.509-15.509-15.509zM2921.99 1879.49l15.509 15.509-15.509 15.509-15.509-15.509zM2301.63 1228.11l15.509 15.509-15.509 15.509-15.509-15.509zM2379.18 1305.65l15.509 15.509-15.509 15.509-15.509-15.509zM2394.69 1321.16l15.509 15.509-15.509 15.509-15.509-15.509zM2425.71 1352.18l15.509 15.509-15.509 15.509-15.509-15.509zM2441.22 1367.69l15.509 15.509-15.509 15.509-15.509-15.509zM2658.34 1584.82l15.509 15.509-15.509 15.509-15.509-15.509zM2720.38 1646.85l15.509 15.509-15.509 15.509-15.509-15.509zM2735.89 1662.36l15.509 15.509-15.509 15.509-15.509-15.509zM2751.39 1677.87l15.509 15.509-15.509 15.509-15.509-15.509zM2766.9 1693.38l15.509 15.509-15.509 15.509-15.509-15.509zM2921.99 1848.47l15.509 15.509-15.509 15.509-15.509-15.509zM2146.54 1042l15.509 15.509-15.509 15.509-15.509-15.509zM2317.14 1212.6l15.509 15.509-15.509 15.509-15.509-15.509zM2348.16 1243.62l15.509 15.509-15.509 15.509-15.509-15.509zM2394.69 1290.14l15.509 15.509-15.509 15.509-15.509-15.509zM2410.2 1305.65l15.509 15.509-15.509 15.509-15.509-15.509zM2441.22 1336.67l15.509 15.509-15.509 15.509-15.509-15.509zM2456.72 1352.18l15.509 15.509-15.509 15.509-15.509-15.509zM2596.3 1491.76l15.509 15.509-15.509 15.509-15.509-15.509zM2642.83 1538.29l15.509 15.509-15.509 15.509-15.509-15.509zM2658.34 1553.8l15.509 15.509-15.509 15.509-15.509-15.509zM2673.85 1569.31l15.509 15.509-15.509 15.509-15.509-15.509zM2735.89 1631.34l15.509 15.509-15.509 15.509-15.509-15.509zM2751.39 1646.85l15.509 15.509-15.509 15.509-15.509-15.509zM2766.9 1662.36l15.509 15.509-15.509 15.509-15.509-15.509zM2782.41 1677.87l15.509 15.509-15.509 15.509-15.509-15.509zM2937.5 1832.96l15.509 15.509-15.509 15.509-15.509-15.509zM2301.63 1166.07l15.509 15.509-15.509 15.509-15.509-15.509zM2317.14 1181.58l15.509 15.509-15.509 15.509-15.509-15.509zM2332.65 1197.09l15.509 15.509-15.509 15.509-15.509-15.509zM2348.16 1212.6l15.509 15.509-15.509 15.509-15.509-15.509zM2363.67 1228.11l15.509 15.509-15.509 15.509-15.509-15.509zM2410.2 1274.63l15.509 15.509-15.509 15.509-15.509-15.509zM2425.71 1290.14l15.509 15.509-15.509 15.509-15.509-15.509zM2456.72 1321.16l15.509 15.509-15.509 15.509-15.509-15.509zM2472.23 1336.67l15.509 15.509-15.509 15.509-15.509-15.509zM2627.32 1491.76l15.509 15.509-15.509 15.509-15.509-15.509zM2642.83 1507.27l15.509 15.509-15.509 15.509-15.509-15.509zM2658.34 1522.78l15.509 15.509-15.509 15.509-15.509-15.509zM2689.36 1553.8l15.509 15.509-15.509 15.509-15.509-15.509zM2704.87 1569.31l15.509 15.509-15.509 15.509-15.509-15.509zM2735.89 1600.32l15.509 15.509-15.509 15.509-15.509-15.509zM2751.39 1615.83l15.509 15.509-15.509 15.509-15.509-15.509zM2766.9 1631.34l15.509 15.509-15.509 15.509-15.509-15.509zM2782.41 1646.85l15.509 15.509-15.509 15.509-15.509-15.509zM2797.92 1662.36l15.509 15.509-15.509 15.509-15.509-15.509zM2953.01 1817.45l15.509 15.509-15.509 15.509-15.509-15.509zM2255.11 1088.53l15.509 15.509-15.509 15.509-15.509-15.509zM2348.16 1181.58l15.509 15.509-15.509 15.509-15.509-15.509zM2394.69 1228.11l15.509 15.509-15.509 15.509-15.509-15.509zM2410.2 1243.62l15.509 15.509-15.509 15.509-15.509-15.509zM2425.71 1259.13l15.509 15.509-15.509 15.509-15.509-15.509zM2441.22 1274.63l15.509 15.509-15.509 15.509-15.509-15.509zM2472.23 1305.65l15.509 15.509-15.509 15.509-15.509-15.509zM2487.74 1321.16l15.509 15.509-15.509 15.509-15.509-15.509zM2549.78 1383.2l15.509 15.509-15.509 15.509-15.509-15.509zM2782.41 1615.83l15.509 15.509-15.509 15.509-15.509-15.509zM2797.92 1631.34l15.509 15.509-15.509 15.509-15.509-15.509zM2813.43 1646.85l15.509 15.509-15.509 15.509-15.509-15.509zM2921.99 1755.41l15.509 15.509-15.509 15.509-15.509-15.509zM2968.52 1801.94l15.509 15.509-15.509 15.509-15.509-15.509zM2363.67 1166.07l15.509 15.509-15.509 15.509-15.509-15.509zM2394.69 1197.09l15.509 15.509-15.509 15.509-15.509-15.509zM2441.22 1243.62l15.509 15.509-15.509 15.509-15.509-15.509zM2456.72 1259.13l15.509 15.509-15.509 15.509-15.509-15.509zM2487.74 1290.14l15.509 15.509-15.509 15.509-15.509-15.509zM2549.78 1352.18l15.509 15.509-15.509 15.509-15.509-15.509zM2565.29 1367.69l15.509 15.509-15.509 15.509-15.509-15.509zM2999.54 1801.94l15.509 15.509-15.509 15.509-15.509-15.509zM2627.32 1398.71l15.509 15.509-15.509 15.509-15.509-15.509zM2658.34 1429.72l15.509 15.509-15.509 15.509-15.509-15.509zM2332.65 1073.02l15.509 15.509-15.509 15.509-15.509-15.509zM2348.16 1088.53l15.509 15.509-15.509 15.509-15.509-15.509zM2627.32 1367.69l15.509 15.509-15.509 15.509-15.509-15.509zM2642.83 1383.2l15.509 15.509-15.509 15.509-15.509-15.509zM2673.85 1414.22l15.509 15.509-15.509 15.509-15.509-15.509zM2689.36 1429.72l15.509 15.509-15.509 15.509-15.509-15.509zM3015.05 1755.41l15.509 15.509-15.509 15.509-15.509-15.509zM2317.14 1026.49l15.509 15.509-15.509 15.509-15.509-15.509zM2580.8 1290.14l15.509 15.509-15.509 15.509-15.509-15.509zM2627.32 1336.67l15.509 15.509-15.509 15.509-15.509-15.509zM2642.83 1352.18l15.509 15.509-15.509 15.509-15.509-15.509zM2828.94 1538.29l15.509 15.509-15.509 15.509-15.509-15.509zM2906.49 1615.83l15.509 15.509-15.509 15.509-15.509-15.509zM2642.83 1321.16l15.509 15.509-15.509 15.509-15.509-15.509zM2658.34 1336.67l15.509 15.509-15.509 15.509-15.509-15.509zM2953.01 1569.31l15.509 15.509-15.509 15.509-15.509-15.509zM2968.52 1553.8l15.509 15.509-15.509 15.509-15.509-15.509zM2875.47 1429.72l15.509 15.509-15.509 15.509-15.509-15.509zM3030.56 1584.82l15.509 15.509-15.509 15.509-15.509-15.509zM3046.07 1600.32l15.509 15.509-15.509 15.509-15.509-15.509zM3077.08 1631.34l15.509 15.509-15.509 15.509-15.509-15.509zM2658.34 1181.58l15.509 15.509-15.509 15.509-15.509-15.509zM2890.98 1414.22l15.509 15.509-15.509 15.509-15.509-15.509zM3046.07 1569.31l15.509 15.509-15.509 15.509-15.509-15.509zM3061.58 1584.82l15.509 15.509-15.509 15.509-15.509-15.509zM3108.1 1600.32l15.509 15.509-15.509 15.509-15.509-15.509zM3139.12 1631.34l15.509 15.509-15.509 15.509-15.509-15.509zM2720.38 1181.58l15.509 15.509-15.509 15.509-15.509-15.509zM2766.9 1228.11l15.509 15.509-15.509 15.509-15.509-15.509zM2921.99 1383.2l15.509 15.509-15.509 15.509-15.509-15.509zM3077.08 1538.29l15.509 15.509-15.509 15.509-15.509-15.509zM3092.59 1553.8l15.509 15.509-15.509 15.509-15.509-15.509zM3123.61 1584.82l15.509 15.509-15.509 15.509-15.509-15.509zM2720.38 1150.56l15.509 15.509-15.509 15.509-15.509-15.509zM2937.5 1367.69l15.509 15.509-15.509 15.509-15.509-15.509zM3061.58 1491.76l15.509 15.509-15.509 15.509-15.509-15.509zM3092.59 1522.78l15.509 15.509-15.509 15.509-15.509-15.509zM3123.61 1553.8l15.509 15.509-15.509 15.509-15.509-15.509zM3139.12 1569.31l15.509 15.509-15.509 15.509-15.509-15.509zM2953.01 1352.18l15.509 15.509-15.509 15.509-15.509-15.509zM3201.16 1600.32l15.509 15.509-15.509 15.509-15.509-15.509zM2968.52 1336.67l15.509 15.509-15.509 15.509-15.509-15.509zM3216.66 1584.82l15.509 15.509-15.509 15.509-15.509-15.509zM3216.66 1553.8l15.509 15.509-15.509 15.509-15.509-15.509zM3232.17 1569.31l15.509 15.509-15.509 15.509-15.509-15.509zM3232.17 1538.29l15.509 15.509-15.509 15.509-15.509-15.509zM3247.68 1553.8l15.509 15.509-15.509 15.509-15.509-15.509zM3247.68 1522.78l15.509 15.509-15.509 15.509-15.509-15.509zM3139.12 1383.2l15.509 15.509-15.509 15.509-15.509-15.509zM3263.19 1507.27l15.509 15.509-15.509 15.509-15.509-15.509zM3278.7 1522.78l15.509 15.509-15.509 15.509-15.509-15.509zM3154.63 1367.69l15.509 15.509-15.509 15.509-15.509-15.509zM3278.7 1491.76l15.509 15.509-15.509 15.509-15.509-15.509zM3294.21 1507.27l15.509 15.509-15.509 15.509-15.509-15.509zM3278.7 1460.74l15.509 15.509-15.509 15.509-15.509-15.509zM3309.72 1491.76l15.509 15.509-15.509 15.509-15.509-15.509zM3077.08 1228.11l15.509 15.509-15.509 15.509-15.509-15.509zM3232.17 1383.2l15.509 15.509-15.509 15.509-15.509-15.509zM3325.23 1476.25l15.509 15.509-15.509 15.509-15.509-15.509zM3340.74 1460.74l15.509 15.509-15.509 15.509-15.509-15.509zM3340.74 1429.72l15.509 15.509-15.509 15.509-15.509-15.509zM3294.21 1352.18l15.509 15.509-15.509 15.509-15.509-15.509zM3325.23 1383.2l15.509 15.509-15.509 15.509-15.509-15.509zM3154.63 1150.56l15.509 15.509-15.509 15.509-15.509-15.509zM3309.72 1305.65l15.509 15.509-15.509 15.509-15.509-15.509zM3371.76 1367.69l15.509 15.509-15.509 15.509-15.509-15.509zM3325.23 1290.14l15.509 15.509-15.509 15.509-15.509-15.509zM3387.26 1352.18l15.509 15.509-15.509 15.509-15.509-15.509zM3402.77 1367.69l15.509 15.509-15.509 15.509-15.509-15.509zM3309.72 1243.62l15.509 15.509-15.509 15.509-15.509-15.509zM3402.77 1305.65l15.509 15.509-15.509 15.509-15.509-15.509zM3340.74 1212.6l15.509 15.509-15.509 15.509-15.509-15.509zM3433.79 1243.62l15.509 15.509-15.509 15.509-15.509-15.509zM3449.3 1197.09l15.509 15.509-15.509 15.509-15.509-15.509zM3480.32 1228.11l15.509 15.509-15.509 15.509-15.509-15.509zM3526.85 1243.62l15.509 15.509-15.509 15.509-15.509-15.509zM3480.32 1166.07l15.509 15.509-15.509 15.509-15.509-15.509zM3511.34 1197.09l15.509 15.509-15.509 15.509-15.509-15.509zM3464.81 1088.53l15.509 15.509-15.509 15.509-15.509-15.509zM3588.88 1181.58l15.509 15.509-15.509 15.509-15.509-15.509zM3542.35 1042l15.509 15.509-15.509 15.509-15.509-15.509zM3619.9 1088.53l15.509 15.509-15.509 15.509-15.509-15.509zM3650.92 1119.55l15.509 15.509-15.509 15.509-15.509-15.509zM3666.43 1104.04l15.509 15.509-15.509 15.509-15.509-15.509zM3697.44 1104.04l15.509 15.509-15.509 15.509-15.509-15.509zM3697.44 1073.02l15.509 15.509-15.509 15.509-15.509-15.509zM3712.95 1057.51l15.509 15.509-15.509 15.509-15.509-15.509zM3728.46 1042l15.509 15.509-15.509 15.509-15.509-15.509z" fill="#FC2C0F"/>
<path d="M394.027 1057.51l15.509 15.509-15.509 15.509-15.509-15.509zM440.554 1104.04l15.509 15.509-15.509 15.509-15.509-15.509zM1262.53 1926.01l15.509 15.509-15.509 15.509-15.509-15.509zM1650.26 2313.74l15.509 15.509-15.509 15.509-15.509-15.509zM1727.8 2391.28l15.509 15.509-15.509 15.509-15.509-15.509zM1758.82 2422.3l15.509 15.509-15.509 15.509-15.509-15.509zM1789.84 2453.32l15.509 15.509-15.509 15.509-15.509-15.509zM409.536 1042l15.509 15.509-15.509 15.509-15.509-15.509zM611.153 1243.62l15.509 15.509-15.509 15.509-15.509-15.509zM626.662 1259.13l15.509 15.509-15.509 15.509-15.509-15.509zM642.171 1274.63l15.509 15.509-15.509 15.509-15.509-15.509zM766.243 1398.71l15.509 15.509-15.509 15.509-15.509-15.509zM781.752 1414.22l15.509 15.509-15.509 15.509-15.509-15.509zM843.788 1476.25l15.509 15.509-15.509 15.509-15.509-15.509zM874.806 1507.27l15.509 15.509-15.509 15.509-15.509-15.509zM890.315 1522.78l15.509 15.509-15.509 15.509-15.509-15.509zM905.824 1538.29l15.509 15.509-15.509 15.509-15.509-15.509zM936.842 1569.31l15.509 15.509-15.509 15.509-15.509-15.509zM1014.39 1646.85l15.509 15.509-15.509 15.509-15.509-15.509zM1045.4 1677.87l15.509 15.509-15.509 15.509-15.509-15.509zM1076.42 1708.89l15.509 15.509-15.509 15.509-15.509-15.509zM1091.93 1724.4l15.509 15.509-15.509 15.509-15.509-15.509zM1169.48 1801.94l15.509 15.509-15.509 15.509-15.509-15.509zM1184.99 1817.45l15.509 15.509-15.509 15.509-15.509-15.509zM1324.57 1957.03l15.509 15.509-15.509 15.509-15.509-15.509zM1340.08 1972.54l15.509 15.509-15.509 15.509-15.509-15.509zM1355.59 1988.05l15.509 15.509-15.509 15.509-15.509-15.509zM1371.09 2003.56l15.509 15.509-15.509 15.509-15.509-15.509zM1386.6 2019.07l15.509 15.509-15.509 15.509-15.509-15.509zM1402.11 2034.58l15.509 15.509-15.509 15.509-15.509-15.509zM1479.66 2112.12l15.509 15.509-15.509 15.509-15.509-15.509zM1665.77 2298.23l15.509 15.509-15.509 15.509-15.509-15.509zM1681.27 2313.74l15.509 15.509-15.509 15.509-15.509-15.509zM1712.29 2344.76l15.509 15.509-15.509 15.509-15.509-15.509zM1727.8 2360.27l15.509 15.509-15.509 15.509-15.509-15.509zM1743.31 2375.77l15.509 15.509-15.509 15.509-15.509-15.509zM1758.82 2391.28l15.509 15.509-15.509 15.509-15.509-15.509zM1774.33 2406.79l15.509 15.509-15.509 15.509-15.509-15.509zM1789.84 2422.3l15.509 15.509-15.509 15.509-15.509-15.509zM1820.86 2453.32l15.509 15.509-15.509 15.509-15.509-15.509zM1836.36 2468.83l15.509 15.509-15.509 15.509-15.509-15.509zM1851.87 2484.34l15.509 15.509-15.509 15.509-15.509-15.509zM1867.38 2499.85l15.509 15.509-15.509 15.509-15.509-15.509zM1882.89 2515.36l15.509 15.509-15.509 15.509-15.509-15.509zM1944.93 2577.39l15.509 15.509-15.509 15.509-15.509-15.509zM1960.44 2592.9l15.509 15.509-15.509 15.509-15.509-15.509zM1975.94 2608.41l15.509 15.509-15.509 15.509-15.509-15.509zM456.063 1057.51l15.509 15.509-15.509 15.509-15.509-15.509zM781.752 1383.2l15.509 15.509-15.509 15.509-15.509-15.509zM797.261 1398.71l15.509 15.509-15.509 15.509-15.509-15.509zM936.842 1538.29l15.509 15.509-15.509 15.509-15.509-15.509zM952.351 1553.8l15.509 15.509-15.509 15.509-15.509-15.509zM1060.91 1662.36l15.509 15.509-15.509 15.509-15.509-15.509zM1107.44 1708.89l15.509 15.509-15.509 15.509-15.509-15.509zM1184.99 1786.43l15.509 15.509-15.509 15.509-15.509-15.509zM1495.17 2096.61l15.509 15.509-15.509 15.509-15.509-15.509zM1681.27 2282.72l15.509 15.509-15.509 15.509-15.509-15.509zM1712.29 2313.74l15.509 15.509-15.509 15.509-15.509-15.509zM1743.31 2344.76l15.509 15.509-15.509 15.509-15.509-15.509zM1805.35 2406.79l15.509 15.509-15.509 15.509-15.509-15.509zM1836.36 2437.81l15.509 15.509-15.509 15.509-15.509-15.509zM1867.38 2468.83l15.509 15.509-15.509 15.509-15.509-15.509zM1898.4 2499.85l15.509 15.509-15.509 15.509-15.509-15.509zM1975.94 2577.39l15.509 15.509-15.509 15.509-15.509-15.509zM1991.45 2592.9l15.509 15.509-15.509 15.509-15.509-15.509zM797.261 1367.69l15.509 15.509-15.509 15.509-15.509-15.509zM812.77 1383.2l15.509 15.509-15.509 15.509-15.509-15.509zM983.369 1553.8l15.509 15.509-15.509 15.509-15.509-15.509zM1029.9 1600.32l15.509 15.509-15.509 15.509-15.509-15.509zM1045.4 1615.83l15.509 15.509-15.509 15.509-15.509-15.509zM1107.44 1677.87l15.509 15.509-15.509 15.509-15.509-15.509zM1169.48 1739.9l15.509 15.509-15.509 15.509-15.509-15.509zM1200.49 1770.92l15.509 15.509-15.509 15.509-15.509-15.509zM1216 1786.43l15.509 15.509-15.509 15.509-15.509-15.509zM1355.59 1926.01l15.509 15.509-15.509 15.509-15.509-15.509zM1371.09 1941.52l15.509 15.509-15.509 15.509-15.509-15.509zM1386.6 1957.03l15.509 15.509-15.509 15.509-15.509-15.509zM1402.11 1972.54l15.509 15.509-15.509 15.509-15.509-15.509zM1417.62 1988.05l15.509 15.509-15.509 15.509-15.509-15.509zM1433.13 2003.56l15.509 15.509-15.509 15.509-15.509-15.509zM1448.64 2019.07l15.509 15.509-15.509 15.509-15.509-15.509zM1464.15 2034.58l15.509 15.509-15.509 15.509-15.509-15.509zM1479.66 2050.09l15.509 15.509-15.509 15.509-15.509-15.509zM1696.78 2267.21l15.509 15.509-15.509 15.509-15.509-15.509zM1712.29 2282.72l15.509 15.509-15.509 15.509-15.509-15.509zM1727.8 2298.23l15.509 15.509-15.509 15.509-15.509-15.509zM1743.31 2313.74l15.509 15.509-15.509 15.509-15.509-15.509zM1758.82 2329.25l15.509 15.509-15.509 15.509-15.509-15.509zM1774.33 2344.76l15.509 15.509-15.509 15.509-15.509-15.509zM1789.84 2360.27l15.509 15.509-15.509 15.509-15.509-15.509zM1805.35 2375.77l15.509 15.509-15.509 15.509-15.509-15.509zM1820.86 2391.28l15.509 15.509-15.509 15.509-15.509-15.509zM1836.36 2406.79l15.509 15.509-15.509 15.509-15.509-15.509zM1851.87 2422.3l15.509 15.509-15.509 15.509-15.509-15.509zM1867.38 2437.81l15.509 15.509-15.509 15.509-15.509-15.509zM1882.89 2453.32l15.509 15.509-15.509 15.509-15.509-15.509zM1898.4 2468.83l15.509 15.509-15.509 15.509-15.509-15.509zM1913.91 2484.34l15.509 15.509-15.509 15.509-15.509-15.509zM1929.42 2499.85l15.509 15.509-15.509 15.509-15.509-15.509zM1944.93 2515.36l15.509 15.509-15.509 15.509-15.509-15.509zM1960.44 2530.86l15.509 15.509-15.509 15.509-15.509-15.509zM1975.94 2546.37l15.509 15.509-15.509 15.509-15.509-15.509zM1991.45 2561.88l15.509 15.509-15.509 15.509-15.509-15.509zM657.68 1197.09l15.509 15.509-15.509 15.509-15.509-15.509zM812.77 1352.18l15.509 15.509-15.509 15.509-15.509-15.509zM828.279 1367.69l15.509 15.509-15.509 15.509-15.509-15.509zM1045.4 1584.82l15.509 15.509-15.509 15.509-15.509-15.509zM1060.91 1600.32l15.509 15.509-15.509 15.509-15.509-15.509zM1076.42 1615.83l15.509 15.509-15.509 15.509-15.509-15.509zM1091.93 1631.34l15.509 15.509-15.509 15.509-15.509-15.509zM1184.99 1724.4l15.509 15.509-15.509 15.509-15.509-15.509zM1200.49 1739.9l15.509 15.509-15.509 15.509-15.509-15.509zM1216 1755.41l15.509 15.509-15.509 15.509-15.509-15.509zM1231.51 1770.92l15.509 15.509-15.509 15.509-15.509-15.509zM1371.09 1910.5l15.509 15.509-15.509 15.509-15.509-15.509zM1386.6 1926.01l15.509 15.509-15.509 15.509-15.509-15.509zM1402.11 1941.52l15.509 15.509-15.509 15.509-15.509-15.509zM1417.62 1957.03l15.509 15.509-15.509 15.509-15.509-15.509zM1433.13 1972.54l15.509 15.509-15.509 15.509-15.509-15.509zM1448.64 1988.05l15.509 15.509-15.509 15.509-15.509-15.509zM1464.15 2003.56l15.509 15.509-15.509 15.509-15.509-15.509zM1479.66 2019.07l15.509 15.509-15.509 15.509-15.509-15.509zM1495.17 2034.58l15.509 15.509-15.509 15.509-15.509-15.509zM1712.29 2251.7l15.509 15.509-15.509 15.509-15.509-15.509zM1758.82 2298.23l15.509 15.509-15.509 15.509-15.509-15.509zM1789.84 2329.25l15.509 15.509-15.509 15.509-15.509-15.509zM1805.35 2344.76l15.509 15.509-15.509 15.509-15.509-15.509zM1820.86 2360.27l15.509 15.509-15.509 15.509-15.509-15.509zM1836.36 2375.77l15.509 15.509-15.509 15.509-15.509-15.509zM1851.87 2391.28l15.509 15.509-15.509 15.509-15.509-15.509zM1867.38 2406.79l15.509 15.509-15.509 15.509-15.509-15.509zM1882.89 2422.3l15.509 15.509-15.509 15.509-15.509-15.509zM1898.4 2437.81l15.509 15.509-15.509 15.509-15.509-15.509zM1913.91 2453.32l15.509 15.509-15.509 15.509-15.509-15.509zM1929.42 2468.83l15.509 15.509-15.509 15.509-15.509-15.509zM1944.93 2484.34l15.509 15.509-15.509 15.509-15.509-15.509zM1960.44 2499.85l15.509 15.509-15.509 15.509-15.509-15.509zM1975.94 2515.36l15.509 15.509-15.509 15.509-15.509-15.509zM1991.45 2530.86l15.509 15.509-15.509 15.509-15.509-15.509zM2006.96 2546.37l15.509 15.509-15.509 15.509-15.509-15.509zM518.099 1026.49l15.509 15.509-15.509 15.509-15.509-15.509zM533.608 1042l15.509 15.509-15.509 15.509-15.509-15.509zM797.261 1274.63l15.509 15.509-15.509 15.509-15.509-15.509zM1014.39 1491.76l15.509 15.509-15.509 15.509-15.509-15.509zM1045.4 1522.78l15.509 15.509-15.509 15.509-15.509-15.509zM1060.91 1538.29l15.509 15.509-15.509 15.509-15.509-15.509zM1076.42 1553.8l15.509 15.509-15.509 15.509-15.509-15.509zM1107.44 1584.82l15.509 15.509-15.509 15.509-15.509-15.509zM1169.48 1646.85l15.509 15.509-15.509 15.509-15.509-15.509zM1495.17 1972.54l15.509 15.509-15.509 15.509-15.509-15.509zM1510.67 1988.05l15.509 15.509-15.509 15.509-15.509-15.509zM1526.18 2003.56l15.509 15.509-15.509 15.509-15.509-15.509zM1541.69 2019.07l15.509 15.509-15.509 15.509-15.509-15.509zM688.698 1135.05l15.509 15.509-15.509 15.509-15.509-15.509zM1200.49 1646.85l15.509 15.509-15.509 15.509-15.509-15.509zM1510.67 1957.03l15.509 15.509-15.509 15.509-15.509-15.509zM1526.18 1972.54l15.509 15.509-15.509 15.509-15.509-15.509zM1541.69 1988.05l15.509 15.509-15.509 15.509-15.509-15.509zM1557.2 2003.56l15.509 15.509-15.509 15.509-15.509-15.509zM1882.89 2329.25l15.509 15.509-15.509 15.509-15.509-15.509zM1898.4 2344.76l15.509 15.509-15.509 15.509-15.509-15.509zM874.806 1290.14l15.509 15.509-15.509 15.509-15.509-15.509zM1526.18 1941.52l15.509 15.509-15.509 15.509-15.509-15.509zM1541.69 1957.03l15.509 15.509-15.509 15.509-15.509-15.509zM1557.2 1972.54l15.509 15.509-15.509 15.509-15.509-15.509zM1572.71 1988.05l15.509 15.509-15.509 15.509-15.509-15.509zM1588.22 2003.56l15.509 15.509-15.509 15.509-15.509-15.509zM1603.73 2019.07l15.509 15.509-15.509 15.509-15.509-15.509zM890.315 1274.63l15.509 15.509-15.509 15.509-15.509-15.509zM905.824 1290.14l15.509 15.509-15.509 15.509-15.509-15.509zM1309.06 1693.38l15.509 15.509-15.509 15.509-15.509-15.509zM874.806 1197.09l15.509 15.509-15.509 15.509-15.509-15.509zM1122.95 1445.23l15.509 15.509-15.509 15.509-15.509-15.509zM952.351 1212.6l15.509 15.509-15.509 15.509-15.509-15.509zM1526.18 1755.41l15.509 15.509-15.509 15.509-15.509-15.509zM1557.2 1786.43l15.509 15.509-15.509 15.509-15.509-15.509zM936.842 1135.05l15.509 15.509-15.509 15.509-15.509-15.509zM1060.91 1259.13l15.509 15.509-15.509 15.509-15.509-15.509zM1076.42 1274.63l15.509 15.509-15.509 15.509-15.509-15.509zM1091.93 1290.14l15.509 15.509-15.509 15.509-15.509-15.509zM1324.57 1522.78l15.509 15.509-15.509 15.509-15.509-15.509zM1324.57 1491.76l15.509 15.509-15.509 15.509-15.509-15.509zM1355.59 1522.78l15.509 15.509-15.509 15.509-15.509-15.509zM1557.2 1724.4l15.509 15.509-15.509 15.509-15.509-15.509zM1572.71 1739.9l15.509 15.509-15.509 15.509-15.509-15.509zM1588.22 1755.41l15.509 15.509-15.509 15.509-15.509-15.509zM1603.73 1770.92l15.509 15.509-15.509 15.509-15.509-15.509zM1619.24 1786.43l15.509 15.509-15.509 15.509-15.509-15.509zM1634.75 1801.94l15.509 15.509-15.509 15.509-15.509-15.509zM1029.9 1166.07l15.509 15.509-15.509 15.509-15.509-15.509zM1340.08 1476.25l15.509 15.509-15.509 15.509-15.509-15.509zM1355.59 1491.76l15.509 15.509-15.509 15.509-15.509-15.509zM1371.09 1507.27l15.509 15.509-15.509 15.509-15.509-15.509zM1386.6 1522.78l15.509 15.509-15.509 15.509-15.509-15.509zM1402.11 1538.29l15.509 15.509-15.509 15.509-15.509-15.509zM1417.62 1553.8l15.509 15.509-15.509 15.509-15.509-15.509zM1433.13 1569.31l15.509 15.509-15.509 15.509-15.509-15.509zM1448.64 1584.82l15.509 15.509-15.509 15.509-15.509-15.509zM1572.71 1708.89l15.509 15.509-15.509 15.509-15.509-15.509zM1588.22 1724.4l15.509 15.509-15.509 15.509-15.509-15.509zM1603.73 1739.9l15.509 15.509-15.509 15.509-15.509-15.509zM1619.24 1755.41l15.509 15.509-15.509 15.509-15.509-15.509zM1634.75 1770.92l15.509 15.509-15.509 15.509-15.509-15.509zM1650.26 1786.43l15.509 15.509-15.509 15.509-15.509-15.509zM1758.82 1894.99l15.509 15.509-15.509 15.509-15.509-15.509zM1774.33 1910.5l15.509 15.509-15.509 15.509-15.509-15.509zM1029.9 1135.05l15.509 15.509-15.509 15.509-15.509-15.509zM1355.59 1460.74l15.509 15.509-15.509 15.509-15.509-15.509zM1371.09 1476.25l15.509 15.509-15.509 15.509-15.509-15.509zM1386.6 1491.76l15.509 15.509-15.509 15.509-15.509-15.509zM1402.11 1507.27l15.509 15.509-15.509 15.509-15.509-15.509zM1417.62 1522.78l15.509 15.509-15.509 15.509-15.509-15.509zM1433.13 1538.29l15.509 15.509-15.509 15.509-15.509-15.509zM1448.64 1553.8l15.509 15.509-15.509 15.509-15.509-15.509zM1464.15 1569.31l15.509 15.509-15.509 15.509-15.509-15.509zM1588.22 1693.38l15.509 15.509-15.509 15.509-15.509-15.509zM1603.73 1708.89l15.509 15.509-15.509 15.509-15.509-15.509zM1619.24 1724.4l15.509 15.509-15.509 15.509-15.509-15.509zM1634.75 1739.9l15.509 15.509-15.509 15.509-15.509-15.509zM1650.26 1755.41l15.509 15.509-15.509 15.509-15.509-15.509zM1665.77 1770.92l15.509 15.509-15.509 15.509-15.509-15.509zM1045.4 1119.55l15.509 15.509-15.509 15.509-15.509-15.509zM1603.73 1677.87l15.509 15.509-15.509 15.509-15.509-15.509zM1619.24 1693.38l15.509 15.509-15.509 15.509-15.509-15.509zM1634.75 1708.89l15.509 15.509-15.509 15.509-15.509-15.509zM1665.77 1739.9l15.509 15.509-15.509 15.509-15.509-15.509zM1681.27 1755.41l15.509 15.509-15.509 15.509-15.509-15.509zM1060.91 1104.04l15.509 15.509-15.509 15.509-15.509-15.509zM1340.08 1383.2l15.509 15.509-15.509 15.509-15.509-15.509zM1464.15 1507.27l15.509 15.509-15.509 15.509-15.509-15.509zM1479.66 1522.78l15.509 15.509-15.509 15.509-15.509-15.509zM1681.27 1724.4l15.509 15.509-15.509 15.509-15.509-15.509zM1696.78 1739.9l15.509 15.509-15.509 15.509-15.509-15.509zM1975.94 2019.07l15.509 15.509-15.509 15.509-15.509-15.509zM2100.02 2143.14l15.509 15.509-15.509 15.509-15.509-15.509zM1029.9 1042l15.509 15.509-15.509 15.509-15.509-15.509zM1076.42 1088.53l15.509 15.509-15.509 15.509-15.509-15.509zM1293.55 1305.65l15.509 15.509-15.509 15.509-15.509-15.509zM1309.06 1321.16l15.509 15.509-15.509 15.509-15.509-15.509zM1324.57 1336.67l15.509 15.509-15.509 15.509-15.509-15.509zM1340.08 1352.18l15.509 15.509-15.509 15.509-15.509-15.509zM1448.64 1460.74l15.509 15.509-15.509 15.509-15.509-15.509zM1464.15 1476.25l15.509 15.509-15.509 15.509-15.509-15.509zM1665.77 1677.87l15.509 15.509-15.509 15.509-15.509-15.509zM1681.27 1693.38l15.509 15.509-15.509 15.509-15.509-15.509zM1696.78 1708.89l15.509 15.509-15.509 15.509-15.509-15.509zM1712.29 1724.4l15.509 15.509-15.509 15.509-15.509-15.509zM2100.02 2112.12l15.509 15.509-15.509 15.509-15.509-15.509zM1091.93 1073.02l15.509 15.509-15.509 15.509-15.509-15.509zM1712.29 1693.38l15.509 15.509-15.509 15.509-15.509-15.509zM1727.8 1708.89l15.509 15.509-15.509 15.509-15.509-15.509zM1805.35 1786.43l15.509 15.509-15.509 15.509-15.509-15.509zM1122.95 1073.02l15.509 15.509-15.509 15.509-15.509-15.509zM1572.71 1522.78l15.509 15.509-15.509 15.509-15.509-15.509zM1789.84 1739.9l15.509 15.509-15.509 15.509-15.509-15.509zM1820.86 1770.92l15.509 15.509-15.509 15.509-15.509-15.509zM2410.2 2360.27l15.509 15.509-15.509 15.509-15.509-15.509zM1448.64 1336.67l15.509 15.509-15.509 15.509-15.509-15.509zM1448.64 1305.65l15.509 15.509-15.509 15.509-15.509-15.509zM1727.8 1584.82l15.509 15.509-15.509 15.509-15.509-15.509zM1743.31 1600.32l15.509 15.509-15.509 15.509-15.509-15.509zM1867.38 1724.4l15.509 15.509-15.509 15.509-15.509-15.509zM2006.96 1863.98l15.509 15.509-15.509 15.509-15.509-15.509zM2456.72 2313.74l15.509 15.509-15.509 15.509-15.509-15.509zM1448.64 1274.63l15.509 15.509-15.509 15.509-15.509-15.509zM1510.67 1305.65l15.509 15.509-15.509 15.509-15.509-15.509zM1696.78 1460.74l15.509 15.509-15.509 15.509-15.509-15.509zM1743.31 1507.27l15.509 15.509-15.509 15.509-15.509-15.509zM1448.64 1181.58l15.509 15.509-15.509 15.509-15.509-15.509zM1867.38 1600.32l15.509 15.509-15.509 15.509-15.509-15.509zM1882.89 1615.83l15.509 15.509-15.509 15.509-15.509-15.509zM1479.66 1181.58l15.509 15.509-15.509 15.509-15.509-15.509zM1495.17 1197.09l15.509 15.509-15.509 15.509-15.509-15.509zM1681.27 1383.2l15.509 15.509-15.509 15.509-15.509-15.509zM2270.62 1972.54l15.509 15.509-15.509 15.509-15.509-15.509zM2565.29 2236.19l15.509 15.509-15.509 15.509-15.509-15.509zM1510.67 1150.56l15.509 15.509-15.509 15.509-15.509-15.509zM1712.29 1352.18l15.509 15.509-15.509 15.509-15.509-15.509zM2503.25 2143.14l15.509 15.509-15.509 15.509-15.509-15.509zM2518.76 2158.65l15.509 15.509-15.509 15.509-15.509-15.509zM2534.27 2174.16l15.509 15.509-15.509 15.509-15.509-15.509zM1526.18 1135.05l15.509 15.509-15.509 15.509-15.509-15.509zM1541.69 1150.56l15.509 15.509-15.509 15.509-15.509-15.509zM1650.26 1259.13l15.509 15.509-15.509 15.509-15.509-15.509zM1758.82 1367.69l15.509 15.509-15.509 15.509-15.509-15.509zM2006.96 1615.83l15.509 15.509-15.509 15.509-15.509-15.509zM2022.47 1631.34l15.509 15.509-15.509 15.509-15.509-15.509zM2379.18 1988.05l15.509 15.509-15.509 15.509-15.509-15.509zM1758.82 1305.65l15.509 15.509-15.509 15.509-15.509-15.509zM1851.87 1398.71l15.509 15.509-15.509 15.509-15.509-15.509zM1867.38 1414.22l15.509 15.509-15.509 15.509-15.509-15.509zM2022.47 1569.31l15.509 15.509-15.509 15.509-15.509-15.509zM2611.81 2158.65l15.509 15.509-15.509 15.509-15.509-15.509zM2053.49 1569.31l15.509 15.509-15.509 15.509-15.509-15.509zM2069 1584.82l15.509 15.509-15.509 15.509-15.509-15.509zM2503.25 2019.07l15.509 15.509-15.509 15.509-15.509-15.509zM2580.8 2096.61l15.509 15.509-15.509 15.509-15.509-15.509zM2596.3 2112.12l15.509 15.509-15.509 15.509-15.509-15.509zM1588.22 1073.02l15.509 15.509-15.509 15.509-15.509-15.509zM1789.84 1274.63l15.509 15.509-15.509 15.509-15.509-15.509zM1898.4 1383.2l15.509 15.509-15.509 15.509-15.509-15.509zM2379.18 1863.98l15.509 15.509-15.509 15.509-15.509-15.509zM1603.73 1057.51l15.509 15.509-15.509 15.509-15.509-15.509zM1898.4 1352.18l15.509 15.509-15.509 15.509-15.509-15.509zM1913.91 1367.69l15.509 15.509-15.509 15.509-15.509-15.509zM2394.69 1848.47l15.509 15.509-15.509 15.509-15.509-15.509zM2611.81 2065.59l15.509 15.509-15.509 15.509-15.509-15.509zM2627.32 2081.1l15.509 15.509-15.509 15.509-15.509-15.509zM1882.89 1305.65l15.509 15.509-15.509 15.509-15.509-15.509zM2689.36 2112.12l15.509 15.509-15.509 15.509-15.509-15.509zM2053.49 1445.23l15.509 15.509-15.509 15.509-15.509-15.509zM2084.51 1476.25l15.509 15.509-15.509 15.509-15.509-15.509zM2115.53 1507.27l15.509 15.509-15.509 15.509-15.509-15.509zM2131.03 1522.78l15.509 15.509-15.509 15.509-15.509-15.509zM1743.31 1104.04l15.509 15.509-15.509 15.509-15.509-15.509zM1851.87 1212.6l15.509 15.509-15.509 15.509-15.509-15.509zM1929.42 1290.14l15.509 15.509-15.509 15.509-15.509-15.509zM1944.93 1305.65l15.509 15.509-15.509 15.509-15.509-15.509zM1960.44 1321.16l15.509 15.509-15.509 15.509-15.509-15.509zM2115.53 1476.25l15.509 15.509-15.509 15.509-15.509-15.509zM2115.53 1445.23l15.509 15.509-15.509 15.509-15.509-15.509zM2332.65 1662.36l15.509 15.509-15.509 15.509-15.509-15.509zM2363.67 1693.38l15.509 15.509-15.509 15.509-15.509-15.509zM1882.89 1181.58l15.509 15.509-15.509 15.509-15.509-15.509zM1913.91 1212.6l15.509 15.509-15.509 15.509-15.509-15.509zM1929.42 1228.11l15.509 15.509-15.509 15.509-15.509-15.509zM1960.44 1228.11l15.509 15.509-15.509 15.509-15.509-15.509zM1929.42 1166.07l15.509 15.509-15.509 15.509-15.509-15.509zM2131.03 1336.67l15.509 15.509-15.509 15.509-15.509-15.509zM2146.54 1352.18l15.509 15.509-15.509 15.509-15.509-15.509zM2177.56 1383.2l15.509 15.509-15.509 15.509-15.509-15.509zM2208.58 1414.22l15.509 15.509-15.509 15.509-15.509-15.509zM2224.09 1429.72l15.509 15.509-15.509 15.509-15.509-15.509zM2487.74 1693.38l15.509 15.509-15.509 15.509-15.509-15.509zM2782.41 1988.05l15.509 15.509-15.509 15.509-15.509-15.509zM1944.93 1119.55l15.509 15.509-15.509 15.509-15.509-15.509zM2037.98 1212.6l15.509 15.509-15.509 15.509-15.509-15.509zM2053.49 1228.11l15.509 15.509-15.509 15.509-15.509-15.509zM2797.92 1972.54l15.509 15.509-15.509 15.509-15.509-15.509zM2162.05 1305.65l15.509 15.509-15.509 15.509-15.509-15.509zM2177.56 1321.16l15.509 15.509-15.509 15.509-15.509-15.509zM2208.58 1352.18l15.509 15.509-15.509 15.509-15.509-15.509zM2410.2 1553.8l15.509 15.509-15.509 15.509-15.509-15.509zM2565.29 1708.89l15.509 15.509-15.509 15.509-15.509-15.509zM2239.6 1352.18l15.509 15.509-15.509 15.509-15.509-15.509zM2425.71 1538.29l15.509 15.509-15.509 15.509-15.509-15.509zM2456.72 1569.31l15.509 15.509-15.509 15.509-15.509-15.509zM2487.74 1600.32l15.509 15.509-15.509 15.509-15.509-15.509zM2503.25 1615.83l15.509 15.509-15.509 15.509-15.509-15.509zM2859.96 1910.5l15.509 15.509-15.509 15.509-15.509-15.509zM2208.58 1197.09l15.509 15.509-15.509 15.509-15.509-15.509zM2224.09 1212.6l15.509 15.509-15.509 15.509-15.509-15.509zM2069 1026.49l15.509 15.509-15.509 15.509-15.509-15.509zM2084.51 1042l15.509 15.509-15.509 15.509-15.509-15.509zM2100.02 1057.51l15.509 15.509-15.509 15.509-15.509-15.509zM2115.53 1073.02l15.509 15.509-15.509 15.509-15.509-15.509zM2317.14 1274.63l15.509 15.509-15.509 15.509-15.509-15.509zM2100.02 1026.49l15.509 15.509-15.509 15.509-15.509-15.509zM2115.53 1042l15.509 15.509-15.509 15.509-15.509-15.509zM2131.03 1057.51l15.509 15.509-15.509 15.509-15.509-15.509zM2410.2 1336.67l15.509 15.509-15.509 15.509-15.509-15.509zM2131.03 1026.49l15.509 15.509-15.509 15.509-15.509-15.509zM2162.05 1026.49l15.509 15.509-15.509 15.509-15.509-15.509zM2534.27 1367.69l15.509 15.509-15.509 15.509-15.509-15.509zM2953.01 1786.43l15.509 15.509-15.509 15.509-15.509-15.509zM2410.2 1181.58l15.509 15.509-15.509 15.509-15.509-15.509zM2363.67 1073.02l15.509 15.509-15.509 15.509-15.509-15.509zM2379.18 1057.51l15.509 15.509-15.509 15.509-15.509-15.509zM2394.69 1042l15.509 15.509-15.509 15.509-15.509-15.509zM2410.2 1026.49l15.509 15.509-15.509 15.509-15.509-15.509zM2642.83 1197.09l15.509 15.509-15.509 15.509-15.509-15.509zM2673.85 1228.11l15.509 15.509-15.509 15.509-15.509-15.509zM2720.38 1274.63l15.509 15.509-15.509 15.509-15.509-15.509zM2813.43 1367.69l15.509 15.509-15.509 15.509-15.509-15.509zM2689.36 1212.6l15.509 15.509-15.509 15.509-15.509-15.509zM2735.89 1259.13l15.509 15.509-15.509 15.509-15.509-15.509zM2828.94 1352.18l15.509 15.509-15.509 15.509-15.509-15.509zM2859.96 1383.2l15.509 15.509-15.509 15.509-15.509-15.509zM3015.05 1507.27l15.509 15.509-15.509 15.509-15.509-15.509zM3154.63 1646.85l15.509 15.509-15.509 15.509-15.509-15.509zM2859.96 1321.16l15.509 15.509-15.509 15.509-15.509-15.509zM2890.98 1352.18l15.509 15.509-15.509 15.509-15.509-15.509zM2875.47 1305.65l15.509 15.509-15.509 15.509-15.509-15.509zM2906.49 1336.67l15.509 15.509-15.509 15.509-15.509-15.509zM2890.98 1290.14l15.509 15.509-15.509 15.509-15.509-15.509zM2921.99 1321.16l15.509 15.509-15.509 15.509-15.509-15.509zM2984.03 1383.2l15.509 15.509-15.509 15.509-15.509-15.509zM3061.58 1460.74l15.509 15.509-15.509 15.509-15.509-15.509zM2906.49 1274.63l15.509 15.509-15.509 15.509-15.509-15.509zM2937.5 1305.65l15.509 15.509-15.509 15.509-15.509-15.509zM2999.54 1367.69l15.509 15.509-15.509 15.509-15.509-15.509zM3077.08 1445.23l15.509 15.509-15.509 15.509-15.509-15.509zM3092.59 1429.72l15.509 15.509-15.509 15.509-15.509-15.509zM3185.65 1522.78l15.509 15.509-15.509 15.509-15.509-15.509zM3108.1 1414.22l15.509 15.509-15.509 15.509-15.509-15.509zM3201.16 1507.27l15.509 15.509-15.509 15.509-15.509-15.509zM3201.16 1476.25l15.509 15.509-15.509 15.509-15.509-15.509zM3216.66 1491.76l15.509 15.509-15.509 15.509-15.509-15.509zM3232.17 1476.25l15.509 15.509-15.509 15.509-15.509-15.509zM3247.68 1460.74l15.509 15.509-15.509 15.509-15.509-15.509zM2968.52 1150.56l15.509 15.509-15.509 15.509-15.509-15.509zM2999.54 1181.58l15.509 15.509-15.509 15.509-15.509-15.509zM3030.56 1212.6l15.509 15.509-15.509 15.509-15.509-15.509zM3092.59 1274.63l15.509 15.509-15.509 15.509-15.509-15.509zM2906.49 1057.51l15.509 15.509-15.509 15.509-15.509-15.509zM2984.03 1135.05l15.509 15.509-15.509 15.509-15.509-15.509zM3015.05 1166.07l15.509 15.509-15.509 15.509-15.509-15.509zM3046.07 1197.09l15.509 15.509-15.509 15.509-15.509-15.509zM3201.16 1352.18l15.509 15.509-15.509 15.509-15.509-15.509zM2999.54 1119.55l15.509 15.509-15.509 15.509-15.509-15.509zM3030.56 1150.56l15.509 15.509-15.509 15.509-15.509-15.509zM3061.58 1181.58l15.509 15.509-15.509 15.509-15.509-15.509zM3123.61 1243.62l15.509 15.509-15.509 15.509-15.509-15.509zM3216.66 1305.65l15.509 15.509-15.509 15.509-15.509-15.509zM3309.72 1398.71l15.509 15.509-15.509 15.509-15.509-15.509zM3046.07 1104.04l15.509 15.509-15.509 15.509-15.509-15.509zM3139.12 1166.07l15.509 15.509-15.509 15.509-15.509-15.509zM3294.21 1321.16l15.509 15.509-15.509 15.509-15.509-15.509zM3387.26 1414.22l15.509 15.509-15.509 15.509-15.509-15.509zM3092.59 1088.53l15.509 15.509-15.509 15.509-15.509-15.509zM3123.61 1119.55l15.509 15.509-15.509 15.509-15.509-15.509zM3185.65 1181.58l15.509 15.509-15.509 15.509-15.509-15.509zM3402.77 1398.71l15.509 15.509-15.509 15.509-15.509-15.509zM3108.1 1073.02l15.509 15.509-15.509 15.509-15.509-15.509zM3139.12 1104.04l15.509 15.509-15.509 15.509-15.509-15.509zM3201.16 1166.07l15.509 15.509-15.509 15.509-15.509-15.509zM3278.7 1243.62l15.509 15.509-15.509 15.509-15.509-15.509zM3418.28 1383.2l15.509 15.509-15.509 15.509-15.509-15.509zM3185.65 1119.55l15.509 15.509-15.509 15.509-15.509-15.509zM3340.74 1274.63l15.509 15.509-15.509 15.509-15.509-15.509zM3356.25 1290.14l15.509 15.509-15.509 15.509-15.509-15.509zM3371.76 1305.65l15.509 15.509-15.509 15.509-15.509-15.509zM3387.26 1321.16l15.509 15.509-15.509 15.509-15.509-15.509zM3123.61 1026.49l15.509 15.509-15.509 15.509-15.509-15.509zM3371.76 1274.63l15.509 15.509-15.509 15.509-15.509-15.509zM3387.26 1259.13l15.509 15.509-15.509 15.509-15.509-15.509zM3402.77 1274.63l15.509 15.509-15.509 15.509-15.509-15.509zM3480.32 1321.16l15.509 15.509-15.509 15.509-15.509-15.509zM3418.28 1228.11l15.509 15.509-15.509 15.509-15.509-15.509zM3449.3 1259.13l15.509 15.509-15.509 15.509-15.509-15.509zM3495.83 1274.63l15.509 15.509-15.509 15.509-15.509-15.509zM3511.34 1290.14l15.509 15.509-15.509 15.509-15.509-15.509zM3325.23 1042l15.509 15.509-15.509 15.509-15.509-15.509zM3340.74 1057.51l15.509 15.509-15.509 15.509-15.509-15.509zM3371.76 1088.53l15.509 15.509-15.509 15.509-15.509-15.509zM3387.26 1104.04l15.509 15.509-15.509 15.509-15.509-15.509zM3449.3 1166.07l15.509 15.509-15.509 15.509-15.509-15.509zM3480.32 1135.05l15.509 15.509-15.509 15.509-15.509-15.509zM3495.83 1119.55l15.509 15.509-15.509 15.509-15.509-15.509zM3511.34 1135.05l15.509 15.509-15.509 15.509-15.509-15.509zM3526.85 1150.56l15.509 15.509-15.509 15.509-15.509-15.509zM3542.35 1166.07l15.509 15.509-15.509 15.509-15.509-15.509zM3464.81 1057.51l15.509 15.509-15.509 15.509-15.509-15.509zM3604.39 1197.09l15.509 15.509-15.509 15.509-15.509-15.509zM3526.85 1088.53l15.509 15.509-15.509 15.509-15.509-15.509zM3542.35 1104.04l15.509 15.509-15.509 15.509-15.509-15.509zM3557.86 1119.55l15.509 15.509-15.509 15.509-15.509-15.509zM3573.37 1135.05l15.509 15.509-15.509 15.509-15.509-15.509zM3542.35 1073.02l15.509 15.509-15.509 15.509-15.509-15.509zM3557.86 1088.53l15.509 15.509-15.509 15.509-15.509-15.509zM3573.37 1104.04l15.509 15.509-15.509 15.509-15.509-15.509zM3635.41 1135.05l15.509 15.509-15.509 15.509-15.509-15.509zM3588.88 1057.51l15.509 15.509-15.509 15.509-15.509-15.509zM3604.39 1073.02l15.509 15.509-15.509 15.509-15.509-15.509zM3635.41 1073.02l15.509 15.509-15.509 15.509-15.509-15.509zM3681.93 1119.55l15.509 15.509-15.509 15.509-15.509-15.509zM3728.46 1073.02l15.509 15.509-15.509 15.509-15.509-15.509z" fill="#FD1E0A"/>
<path d="M735.225 1336.67l15.509 15.509-15.509 15.509-15.509-15.509zM642.171 1212.6l15.509 15.509-15.509 15.509-15.509-15.509zM657.68 1228.11l15.509 15.509-15.509 15.509-15.509-15.509zM673.189 1243.62l15.509 15.509-15.509 15.509-15.509-15.509zM595.644 1104.04l15.509 15.509-15.509 15.509-15.509-15.509zM750.734 1259.13l15.509 15.509-15.509 15.509-15.509-15.509zM642.171 1119.55l15.509 15.509-15.509 15.509-15.509-15.509zM812.77 1259.13l15.509 15.509-15.509 15.509-15.509-15.509zM1603.73 1305.65l15.509 15.509-15.509 15.509-15.509-15.509zM1634.75 1274.63l15.509 15.509-15.509 15.509-15.509-15.509zM2115.53 1724.4l15.509 15.509-15.509 15.509-15.509-15.509zM2146.54 1755.41l15.509 15.509-15.509 15.509-15.509-15.509zM1712.29 1197.09l15.509 15.509-15.509 15.509-15.509-15.509zM1727.8 1181.58l15.509 15.509-15.509 15.509-15.509-15.509zM1867.38 1042l15.509 15.509-15.509 15.509-15.509-15.509zM2270.62 1321.16l15.509 15.509-15.509 15.509-15.509-15.509zM2425.71 1166.07l15.509 15.509-15.509 15.509-15.509-15.509zM2921.99 1104.04l15.509 15.509-15.509 15.509-15.509-15.509zM3108.1 1290.14l15.509 15.509-15.509 15.509-15.509-15.509zM2921.99 1073.02l15.509 15.509-15.509 15.509-15.509-15.509zM2968.52 1119.55l15.509 15.509-15.509 15.509-15.509-15.509zM2953.01 1073.02l15.509 15.509-15.509 15.509-15.509-15.509zM3077.08 1135.05l15.509 15.509-15.509 15.509-15.509-15.509zM3108.1 1042l15.509 15.509-15.509 15.509-15.509-15.509zM3154.63 1088.53l15.509 15.509-15.509 15.509-15.509-15.509zM3154.63 1057.51l15.509 15.509-15.509 15.509-15.509-15.509zM3278.7 1119.55l15.509 15.509-15.509 15.509-15.509-15.509zM3294.21 1073.02l15.509 15.509-15.509 15.509-15.509-15.509zM3309.72 1088.53l15.509 15.509-15.509 15.509-15.509-15.509zM3340.74 1119.55l15.509 15.509-15.509 15.509-15.509-15.509zM3356.25 1135.05l15.509 15.509-15.509 15.509-15.509-15.509z" fill="#FE0F05"/>
<path d="M425.0 1088.5L456.1 1119.5M502.6 1166.1L518.1 1181.6M533.6 1197.1L549.1 1212.6M580.1 1243.6L642.2 1305.7M704.2 1367.7L1138.5 1801.9M1154.0 1817.5L1185.0 1848.5M1200.5 1864.0L1247.0 1910.5M1262.5 1926.0L1448.6 2112.1M1464.1 2127.6L1650.3 2313.7M1665.8 2329.2L1727.8 2391.3M1743.3 2406.8L1758.8 2422.3M1774.3 2437.8L2069.0 2732.5M409.5 1042.0L425.0 1057.5M440.6 1073.0L456.1 1088.5M518.1 1150.6L533.6 1166.1M549.1 1181.6L564.6 1197.1M611.2 1243.6L657.7 1290.1M719.7 1352.2L766.2 1398.7M828.3 1460.7L859.3 1491.8M874.8 1507.3L936.8 1569.3M952.4 1584.8L983.4 1615.8M998.9 1631.3L1045.4 1677.9M1060.9 1693.4L1091.9 1724.4M1107.4 1739.9L1169.5 1801.9M1185.0 1817.5L1200.5 1833.0M1216.0 1848.5L1262.5 1895.0M1278.0 1910.5L1417.6 2050.1M1495.2 2127.6L1510.7 2143.1M1588.2 2220.7L1619.2 2251.7M1681.3 2313.7L1727.8 2360.3M1743.3 2375.8L1789.8 2422.3M1836.4 2468.8L1851.9 2484.3M1867.4 2499.8L1882.9 2515.4M1944.9 2577.4L1960.4 2592.9M2022.5 2654.9L2100.0 2732.5M456.1 1057.5L471.6 1073.0M626.7 1228.1L673.2 1274.6M735.2 1336.7L781.8 1383.2M859.3 1460.7L874.8 1476.3M890.3 1491.8L905.8 1507.3M921.3 1522.8L998.9 1600.3M1014.4 1615.8L1045.4 1646.9M1060.9 1662.4L1185.0 1786.4M1200.5 1801.9L1216.0 1817.5M1231.5 1833.0L1479.7 2081.1M1495.2 2096.6L1541.7 2143.1M1603.7 2205.2L1619.2 2220.7M1650.3 2251.7L1681.3 2282.7M1696.8 2298.2L1712.3 2313.7M1727.8 2329.2L1743.3 2344.8M1758.8 2360.3L1805.3 2406.8M1820.9 2422.3L1836.4 2437.8M1851.9 2453.3L1867.4 2468.8M1882.9 2484.3L1898.4 2499.8M1913.9 2515.4L1975.9 2577.4M1991.5 2592.9L2053.5 2654.9M2069.0 2670.4L2115.5 2717.0M642.2 1212.6L688.7 1259.1M921.3 1491.8L936.8 1507.3M967.9 1538.3L998.9 1569.3M1060.9 1631.3L1091.9 1662.4M1107.4 1677.9L1123.0 1693.4M1185.0 1755.4L1200.5 1770.9M1510.7 2081.1L1541.7 2112.1M1557.2 2127.6L1572.7 2143.1M1619.2 2189.7L1665.8 2236.2M1712.3 2282.7L1743.3 2313.7M1758.8 2329.2L1774.3 2344.8M2022.5 2592.9L2038.0 2608.4M2053.5 2623.9L2131.0 2701.5M502.6 1042.0L533.6 1073.0M580.1 1119.5L595.6 1135.1M611.2 1150.6L626.7 1166.1M642.2 1181.6L704.2 1243.6M719.7 1259.1L750.7 1290.1M766.2 1305.7L843.8 1383.2M921.3 1460.7L1169.5 1708.9M1185.0 1724.4L1247.0 1786.4M1262.5 1801.9L1324.6 1864.0M1340.1 1879.5L1634.7 2174.2M1665.8 2205.2L1696.8 2236.2M1712.3 2251.7L2038.0 2577.4M2053.5 2592.9L2069.0 2608.4M2084.5 2623.9L2146.5 2686.0M533.6 1042.0L549.1 1057.5M595.6 1104.0L611.2 1119.5M626.7 1135.1L642.2 1150.6M657.7 1166.1L719.7 1228.1M735.2 1243.6L766.2 1274.6M781.8 1290.1L797.3 1305.7M812.8 1321.2L859.3 1367.7M936.8 1445.2L1185.0 1693.4M1216.0 1724.4L1278.0 1786.4M1309.1 1817.5L1371.1 1879.5M1386.6 1895.0L1448.6 1957.0M1464.1 1972.5L1743.3 2251.7M1758.8 2267.2L1774.3 2282.7M1789.8 2298.2L2007.0 2515.4M2022.5 2530.9L2069.0 2577.4M2084.5 2592.9L2100.0 2608.4M2115.5 2623.9L2162.1 2670.4M642.2 1119.5L657.7 1135.1M673.2 1150.6L688.7 1166.1M797.3 1274.6L812.8 1290.1M936.8 1414.2L952.4 1429.7M1014.4 1491.8L1123.0 1600.3M1169.5 1646.9L1200.5 1677.9M1340.1 1817.5L1371.1 1848.5M1386.6 1864.0L1402.1 1879.5M1557.2 2034.6L1572.7 2050.1M1727.8 2205.2L1743.3 2220.7M1805.3 2282.7L1820.9 2298.2M1867.4 2344.8L1898.4 2375.8M2022.5 2499.8L2038.0 2515.4M2084.5 2561.9L2100.0 2577.4M2131.0 2608.4L2162.1 2639.4M688.7 1135.1L704.2 1150.6M812.8 1259.1L874.8 1321.2M952.4 1398.7L967.9 1414.2M1060.9 1507.3L1107.4 1553.8M1169.5 1615.8L1185.0 1631.3M1200.5 1646.9L1216.0 1662.4M1231.5 1677.9L1247.0 1693.4M1262.5 1708.9L1278.0 1724.4M1293.5 1739.9L1479.7 1926.0M1572.7 2019.1L1603.7 2050.1M1619.2 2065.6L1696.8 2143.1M1712.3 2158.6L1727.8 2174.2M1789.8 2236.2L1805.3 2251.7M1836.4 2282.7L1867.4 2313.7M1882.9 2329.2L1913.9 2360.3M1929.4 2375.8L1944.9 2391.3M1960.4 2406.8L1975.9 2422.3M2038.0 2484.3L2053.5 2499.8M2084.5 2530.9L2100.0 2546.4M2115.5 2561.9L2146.5 2592.9M2162.1 2608.4L2193.1 2639.4M704.2 1119.5L719.7 1135.1M781.8 1197.1L797.3 1212.6M843.8 1259.1L874.8 1290.1M890.3 1305.7L905.8 1321.2M1169.5 1584.8L1200.5 1615.8M1262.5 1677.9L1309.1 1724.4M1324.6 1739.9L1402.1 1817.5M1417.6 1833.0L1495.2 1910.5M1526.2 1941.5L1650.3 2065.6M1665.8 2081.1L1681.3 2096.6M1727.8 2143.1L1743.3 2158.6M1758.8 2174.2L1774.3 2189.7M1867.4 2282.7L1882.9 2298.2M1929.4 2344.8L1944.9 2360.3M1960.4 2375.8L2038.0 2453.3M2053.5 2468.8L2084.5 2499.8M2115.5 2530.9L2131.0 2546.4M2146.5 2561.9L2162.1 2577.4M2193.1 2608.4L2208.6 2623.9M719.7 1104.0L735.2 1119.5M797.3 1181.6L812.8 1197.1M859.3 1243.6L921.3 1305.7M967.9 1352.2L983.4 1367.7M998.9 1383.2L1045.4 1429.7M1060.9 1445.2L1107.4 1491.8M1123.0 1507.3L1138.5 1522.8M1169.5 1553.8L1185.0 1569.3M1200.5 1584.8L1247.0 1631.3M1262.5 1646.9L1293.5 1677.9M1309.1 1693.4L1324.6 1708.9M1340.1 1724.4L1495.2 1879.5M1510.7 1895.0L1572.7 1957.0M1588.2 1972.5L1665.8 2050.1M1681.3 2065.6L1696.8 2081.1M1727.8 2112.1L1774.3 2158.6M1789.8 2174.2L1851.9 2236.2M1882.9 2267.2L1913.9 2298.2M1929.4 2313.7L1975.9 2360.3M1991.5 2375.8L2007.0 2391.3M2038.0 2422.3L2100.0 2484.3M2115.5 2499.8L2146.5 2530.9M2162.1 2546.4L2224.1 2608.4M859.3 1212.6L905.8 1259.1M921.3 1274.6L936.8 1290.1M1014.4 1367.7L1060.9 1414.2M1076.4 1429.7L1123.0 1476.3M1169.5 1522.8L1200.5 1553.8M1231.5 1584.8L1247.0 1600.3M1278.0 1631.3L1340.1 1693.4M1355.6 1708.9L1417.6 1770.9M1448.6 1801.9L1495.2 1848.5M1526.2 1879.5L1557.2 1910.5M1650.3 2003.6L1665.8 2019.1M1743.3 2096.6L1789.8 2143.1M1820.9 2174.2L1836.4 2189.7M1851.9 2205.2L1867.4 2220.7M1913.9 2267.2L1929.4 2282.7M1944.9 2298.2L1991.5 2344.8M2007.0 2360.3L2038.0 2391.3M2131.0 2484.3L2146.5 2499.8M2162.1 2515.4L2239.6 2592.9M874.8 1197.1L952.4 1274.6M1045.4 1367.7L1060.9 1383.2M1091.9 1414.2L1107.4 1429.7M1123.0 1445.2L1138.5 1460.7M1154.0 1476.3L1185.0 1507.3M1200.5 1522.8L1216.0 1538.3M1247.0 1569.3L1262.5 1584.8M1278.0 1600.3L1355.6 1677.9M1371.1 1693.4L1433.1 1755.4M1464.1 1786.4L1526.2 1848.5M1541.7 1864.0L1572.7 1895.0M1650.3 1972.5L1681.3 2003.6M1758.8 2081.1L1774.3 2096.6M1789.8 2112.1L1805.3 2127.6M1836.4 2158.6L1851.9 2174.2M1867.4 2189.7L1882.9 2205.2M1929.4 2251.7L1944.9 2267.2M1960.4 2282.7L1975.9 2298.2M1991.5 2313.7L2038.0 2360.3M2115.5 2437.8L2131.0 2453.3M2146.5 2468.8L2162.1 2484.3M2177.6 2499.8L2255.1 2577.4M766.2 1057.5L797.3 1088.5M890.3 1181.6L998.9 1290.1M1029.9 1321.2L1060.9 1352.2M1091.9 1383.2L1123.0 1414.2M1185.0 1476.3L1200.5 1491.8M1216.0 1507.3L1278.0 1569.3M1293.5 1584.8L1371.1 1662.4M1386.6 1677.9L1402.1 1693.4M1417.6 1708.9L1433.1 1724.4M1448.6 1739.9L1464.1 1755.4M1495.2 1786.4L1541.7 1833.0M1557.2 1848.5L1619.2 1910.5M1634.7 1926.0L1665.8 1957.0M1696.8 1988.0L1820.9 2112.1M1851.9 2143.1L1898.4 2189.7M1929.4 2220.7L1960.4 2251.7M1975.9 2267.2L1991.5 2282.7M2007.0 2298.2L2069.0 2360.3M2115.5 2406.8L2270.6 2561.9M781.8 1042.0L812.8 1073.0M905.8 1166.1L967.9 1228.1M983.4 1243.6L1014.4 1274.6M1029.9 1290.1L1091.9 1352.2M1107.4 1367.7L1138.5 1398.7M1185.0 1445.2L1200.5 1460.7M1216.0 1476.3L1231.5 1491.8M1247.0 1507.3L1309.1 1569.3M1340.1 1600.3L1355.6 1615.8M1386.6 1646.9L1417.6 1677.9M1464.1 1724.4L1619.2 1879.5M1681.3 1941.5L1836.4 2096.6M1851.9 2112.1L1913.9 2174.2M1944.9 2205.2L1960.4 2220.7M2022.5 2282.7L2038.0 2298.2M2100.0 2360.3L2162.1 2422.3M2177.6 2437.8L2286.1 2546.4M921.3 1150.6L967.9 1197.1M1045.4 1274.6L1091.9 1321.2M1154.0 1383.2L1169.5 1398.7M1262.5 1491.8L1293.5 1522.8M1309.1 1538.3L1324.6 1553.8M1340.1 1569.3L1355.6 1584.8M1371.1 1600.3L1386.6 1615.8M1402.1 1631.3L1433.1 1662.4M1479.7 1708.9L1510.7 1739.9M1526.2 1755.4L1619.2 1848.5M1634.7 1864.0L1665.8 1895.0M1681.3 1910.5L1805.3 2034.6M1820.9 2050.1L1836.4 2065.6M2038.0 2267.2L2053.5 2282.7M2069.0 2298.2L2084.5 2313.7M2100.0 2329.2L2177.6 2406.8M2193.1 2422.3L2208.6 2437.8M2224.1 2453.3L2255.1 2484.3M2286.1 2515.4L2301.6 2530.9M890.3 1088.5L905.8 1104.0M936.8 1135.1L983.4 1181.6M998.9 1197.1L1014.4 1212.6M1060.9 1259.1L1107.4 1305.7M1185.0 1383.2L1200.5 1398.7M1278.0 1476.3L1371.1 1569.3M1386.6 1584.8L1402.1 1600.3M1510.7 1708.9L1681.3 1879.5M1712.3 1910.5L1867.4 2065.6M1898.4 2096.6L1975.9 2174.2M1991.5 2189.7L2069.0 2267.2M2084.5 2282.7L2100.0 2298.2M2115.5 2313.7L2131.0 2329.2M2162.1 2360.3L2208.6 2406.8M2239.6 2437.8L2317.1 2515.4M905.8 1073.0L921.3 1088.5M952.4 1119.5L967.9 1135.1M983.4 1150.6L998.9 1166.1M1014.4 1181.6L1029.9 1197.1M1076.4 1243.6L1091.9 1259.1M1107.4 1274.6L1123.0 1290.1M1185.0 1352.2L1216.0 1383.2M1340.1 1507.3L1355.6 1522.8M1371.1 1538.3L1448.6 1615.8M1479.7 1646.9L1495.2 1662.4M1510.7 1677.9L1526.2 1693.4M1712.3 1879.5L1774.3 1941.5M1851.9 2019.1L1867.4 2034.6M2007.0 2174.2L2022.5 2189.7M2100.0 2267.2L2115.5 2282.7M2146.5 2313.7L2208.6 2375.8M2239.6 2406.8L2255.1 2422.3M2270.6 2437.8L2332.7 2499.8M1014.4 1150.6L1045.4 1181.6M1743.3 1879.5L1789.8 1926.0M2162.1 2298.2L2224.1 2360.3M2255.1 2391.3L2301.6 2437.8M1014.4 1119.5L1029.9 1135.1M1045.4 1150.6L1060.9 1166.1M1355.6 1460.7L1479.7 1584.8M1510.7 1615.8L1526.2 1631.3M1557.2 1662.4L1588.2 1693.4M1634.7 1739.9L1650.3 1755.4M1774.3 1879.5L1789.8 1895.0M1867.4 1972.5L1913.9 2019.1M1944.9 2050.1L2022.5 2127.6M2053.5 2158.6L2100.0 2205.2M2208.6 2313.7L2224.1 2329.2M2317.1 2422.3L2363.7 2468.8M1014.4 1088.5L1045.4 1119.5M1200.5 1274.6L1216.0 1290.1M1278.0 1352.2L1340.1 1414.2M1448.6 1522.8L1479.7 1553.8M1495.2 1569.3L1650.3 1724.4M1960.4 2034.6L1975.9 2050.1M2084.5 2158.6L2100.0 2174.2M2239.6 2313.7L2301.6 2375.8M2317.1 2391.3L2332.7 2406.8M1014.4 1057.5L1060.9 1104.0M1138.5 1181.6L1216.0 1259.1M1247.0 1290.1L1355.6 1398.7M1402.1 1445.2L1417.6 1460.7M1433.1 1476.3L1495.2 1538.3M1510.7 1553.8L1681.3 1724.4M1712.3 1755.4L1789.8 1833.0M1820.9 1864.0L1836.4 1879.5M1851.9 1895.0L1898.4 1941.5M1944.9 1988.0L2007.0 2050.1M2022.5 2065.6L2069.0 2112.1M2084.5 2127.6L2162.1 2205.2M2177.6 2220.7L2348.2 2391.3M2363.7 2406.8L2394.7 2437.8M1029.9 1042.0L1045.4 1057.5M1060.9 1073.0L1076.4 1088.5M1154.0 1166.1L1247.0 1259.1M1262.5 1274.6L1355.6 1367.7M1417.6 1429.7L1433.1 1445.2M1448.6 1460.7L1479.7 1491.8M1526.2 1538.3L1557.2 1569.3M1603.7 1615.8L1696.8 1708.9M1727.8 1739.9L1805.3 1817.5M1867.4 1879.5L1913.9 1926.0M1960.4 1972.5L1991.5 2003.6M2007.0 2019.1L2022.5 2034.6M2038.0 2050.1L2084.5 2096.6M2100.0 2112.1L2115.5 2127.6M2131.0 2143.1L2146.5 2158.6M2162.1 2174.2L2177.6 2189.7M2193.1 2205.2L2255.1 2267.2M2286.1 2298.2L2301.6 2313.7M2317.1 2329.2L2363.7 2375.8M2379.2 2391.3L2410.2 2422.3M1060.9 1042.0L1123.0 1104.0M1541.7 1522.8L1634.7 1615.8M1712.3 1693.4L1743.3 1724.4M1774.3 1755.4L1789.8 1770.9M1851.9 1833.0L1898.4 1879.5M2162.1 2143.1L2208.6 2189.7M2224.1 2205.2L2239.6 2220.7M2286.1 2267.2L2317.1 2298.2M2348.2 2329.2L2379.2 2360.3M2394.7 2375.8L2425.7 2406.8M1091.9 1042.0L2441.2 2391.3M1123.0 1042.0L1262.5 1181.6M1278.0 1197.1L2456.7 2375.8M1154.0 1042.0L1200.5 1088.5M1216.0 1104.0L1355.6 1243.6M1371.1 1259.1L1588.2 1476.3M1619.2 1507.3L2131.0 2019.1M2146.5 2034.6L2332.7 2220.7M2348.2 2236.2L2456.7 2344.8M1371.1 1228.1L1402.1 1259.1M1417.6 1274.6L1464.1 1321.2M1526.2 1383.2L1557.2 1414.2M1572.7 1429.7L1588.2 1445.2M1603.7 1460.7L1634.7 1491.8M1650.3 1507.3L1789.8 1646.9M1867.4 1724.4L1882.9 1739.9M2007.0 1864.0L2022.5 1879.5M2115.5 1972.5L2177.6 2034.6M2193.1 2050.1L2208.6 2065.6M2255.1 2112.1L2270.6 2127.6M2332.7 2189.7L2363.7 2220.7M2394.7 2251.7L2410.2 2267.2M2425.7 2282.7L2441.2 2298.2M2456.7 2313.7L2487.7 2344.8M1324.6 1150.6L1340.1 1166.1M1402.1 1228.1L1464.1 1290.1M1495.2 1321.2L1510.7 1336.7M1572.7 1398.7L1588.2 1414.2M1619.2 1445.2L1650.3 1476.3M1665.8 1491.8L1681.3 1507.3M1696.8 1522.8L1805.3 1631.3M2177.6 2003.6L2224.1 2050.1M2348.2 2174.2L2363.7 2189.7M2394.7 2220.7L2425.7 2251.7M2441.2 2267.2L2503.3 2329.2M1448.6 1243.6L1464.1 1259.1M1510.7 1305.7L1526.2 1321.2M1665.8 1460.7L1743.3 1538.3M2255.1 2050.1L2270.6 2065.6M2472.2 2267.2L2503.3 2298.2M1324.6 1088.5L1340.1 1104.0M1371.1 1135.1L1386.6 1150.6M1433.1 1197.1L1448.6 1212.6M1464.1 1228.1L1479.7 1243.6M1526.2 1290.1L1541.7 1305.7M1696.8 1460.7L1758.8 1522.8M1851.9 1615.8L1882.9 1646.9M1898.4 1662.4L1913.9 1677.9M1929.4 1693.4L1960.4 1724.4M2038.0 1801.9L2053.5 1817.5M2069.0 1833.0L2084.5 1848.5M2100.0 1864.0L2115.5 1879.5M2131.0 1895.0L2162.1 1926.0M2177.6 1941.5L2193.1 1957.0M2208.6 1972.5L2301.6 2065.6M2425.7 2189.7L2441.2 2205.2M2487.7 2251.7L2503.3 2267.2M2518.8 2282.7L2534.3 2298.2M1340.1 1073.0L1355.6 1088.5M1386.6 1119.5L1402.1 1135.1M1448.6 1181.6L1495.2 1228.1M1541.7 1274.6L1557.2 1290.1M1588.2 1321.2L1603.7 1336.7M1665.8 1398.7L1681.3 1414.2M1696.8 1429.7L1712.3 1445.2M1758.8 1491.8L1774.3 1507.3M1867.4 1600.3L1898.4 1631.3M1913.9 1646.9L1929.4 1662.4M1944.9 1677.9L1975.9 1708.9M2053.5 1786.4L2069.0 1801.9M2084.5 1817.5L2100.0 1833.0M2115.5 1848.5L2131.0 1864.0M2146.5 1879.5L2177.6 1910.5M2193.1 1926.0L2208.6 1941.5M2224.1 1957.0L2239.6 1972.5M2255.1 1988.0L2317.1 2050.1M2410.2 2143.1L2425.7 2158.6M2441.2 2174.2L2549.8 2282.7M1464.1 1166.1L1510.7 1212.6M1603.7 1305.7L1619.2 1321.2M1681.3 1383.2L1712.3 1414.2M1743.3 1445.2L1820.9 1522.8M2239.6 1941.5L2255.1 1957.0M2270.6 1972.5L2286.1 1988.0M2301.6 2003.6L2317.1 2019.1M2425.7 2127.6L2441.2 2143.1M2456.7 2158.6L2518.8 2220.7M2534.3 2236.2L2565.3 2267.2M1479.7 1150.6L1526.2 1197.1M1619.2 1290.1L1634.7 1305.7M1696.8 1367.7L1727.8 1398.7M1758.8 1429.7L1774.3 1445.2M1789.8 1460.7L1836.4 1507.3M2286.1 1957.0L2301.6 1972.5M2317.1 1988.0L2332.7 2003.6M2441.2 2112.1L2456.7 2127.6M2472.2 2143.1L2534.3 2205.2M2549.8 2220.7L2580.8 2251.7M1495.2 1135.1L1510.7 1150.6M1526.2 1166.1L1541.7 1181.6M1634.7 1274.6L1650.3 1290.1M1712.3 1352.2L1727.8 1367.7M1743.3 1383.2L1774.3 1414.2M1789.8 1429.7L1820.9 1460.7M1913.9 1553.8L1944.9 1584.8M1960.4 1600.3L1975.9 1615.8M1991.5 1631.3L2022.5 1662.4M2100.0 1739.9L2115.5 1755.4M2131.0 1770.9L2146.5 1786.4M2286.1 1926.0L2317.1 1957.0M2363.7 2003.6L2379.2 2019.1M2456.7 2096.6L2472.2 2112.1M2503.3 2143.1L2596.3 2236.2M1526.2 1135.1L1557.2 1166.1M1650.3 1259.1L1665.8 1274.6M1727.8 1336.7L1743.3 1352.2M1758.8 1367.7L1836.4 1445.2M1929.4 1538.3L1960.4 1569.3M1975.9 1584.8L1991.5 1600.3M2007.0 1615.8L2038.0 1646.9M2115.5 1724.4L2131.0 1739.9M2146.5 1755.4L2162.1 1770.9M2193.1 1801.9L2208.6 1817.5M2239.6 1848.5L2255.1 1864.0M2286.1 1895.0L2332.7 1941.5M2348.2 1957.0L2363.7 1972.5M2379.2 1988.0L2394.7 2003.6M2503.3 2112.1L2518.8 2127.6M2565.3 2174.2L2596.3 2205.2M1665.8 1243.6L1681.3 1259.1M1743.3 1321.2L1758.8 1336.7M1774.3 1352.2L1867.4 1445.2M2007.0 1584.8L2022.5 1600.3M2146.5 1724.4L2162.1 1739.9M2208.6 1786.4L2224.1 1801.9M2255.1 1833.0L2270.6 1848.5M2317.1 1895.0L2348.2 1926.0M2363.7 1941.5L2379.2 1957.0M2394.7 1972.5L2410.2 1988.0M2487.7 2065.6L2503.3 2081.1M2518.8 2096.6L2580.8 2158.6M2596.3 2174.2L2627.3 2205.2M1681.3 1228.1L1696.8 1243.6M1758.8 1305.7L1774.3 1321.2M1789.8 1336.7L1882.9 1429.7M1960.4 1507.3L1991.5 1538.3M2007.0 1553.8L2069.0 1615.8M2162.1 1708.9L2177.6 1724.4M2286.1 1833.0L2301.6 1848.5M2317.1 1864.0L2348.2 1895.0M2379.2 1926.0L2394.7 1941.5M2410.2 1957.0L2425.7 1972.5M2487.7 2034.6L2518.8 2065.6M2534.3 2081.1L2642.8 2189.7M1557.2 1073.0L1603.7 1119.5M1696.8 1212.6L1712.3 1228.1M1774.3 1290.1L1789.8 1305.7M1805.3 1321.2L1867.4 1383.2M1882.9 1398.7L1898.4 1414.2M1975.9 1491.8L2007.0 1522.8M2022.5 1538.3L2038.0 1553.8M2053.5 1569.3L2084.5 1600.3M2301.6 1817.5L2317.1 1833.0M2363.7 1879.5L2379.2 1895.0M2394.7 1910.5L2410.2 1926.0M2503.3 2019.1L2518.8 2034.6M2549.8 2065.6L2565.3 2081.1M2580.8 2096.6L2658.3 2174.2M1789.8 1274.6L1805.3 1290.1M1882.9 1367.7L1898.4 1383.2M2410.2 1895.0L2425.7 1910.5M2534.3 2019.1L2549.8 2034.6M2596.3 2081.1L2627.3 2112.1M1588.2 1042.0L1634.7 1088.5M1727.8 1181.6L1743.3 1197.1M1820.9 1274.6L1836.4 1290.1M1867.4 1321.2L1882.9 1336.7M1898.4 1352.2L1944.9 1398.7M2363.7 1817.5L2379.2 1833.0M2394.7 1848.5L2410.2 1864.0M2425.7 1879.5L2441.2 1895.0M2549.8 2003.6L2565.3 2019.1M2580.8 2034.6L2596.3 2050.1M2611.8 2065.6L2642.8 2096.6M2658.3 2112.1L2689.4 2143.1M1712.3 1135.1L1727.8 1150.6M1743.3 1166.1L1758.8 1181.6M1820.9 1243.6L1867.4 1290.1M1882.9 1305.7L1960.4 1383.2M2038.0 1460.7L2053.5 1476.3M2069.0 1491.8L2131.0 1553.8M2208.6 1631.3L2255.1 1677.9M2286.1 1708.9L2301.6 1724.4M2317.1 1739.9L2348.2 1770.9M2379.2 1801.9L2425.7 1848.5M2441.2 1864.0L2456.7 1879.5M2472.2 1895.0L2503.3 1926.0M2518.8 1941.5L2565.3 1988.0M2596.3 2019.1L2704.9 2127.6M1727.8 1119.5L1743.3 1135.1M1836.4 1228.1L1851.9 1243.6M1867.4 1259.1L1960.4 1352.2M2053.5 1445.2L2069.0 1460.7M2084.5 1476.3L2146.5 1538.3M2224.1 1615.8L2270.6 1662.4M2301.6 1693.4L2317.1 1708.9M2332.7 1724.4L2363.7 1755.4M2394.7 1786.4L2441.2 1833.0M2487.7 1879.5L2518.8 1910.5M2534.3 1926.0L2596.3 1988.0M2627.3 2019.1L2704.9 2096.6M1743.3 1104.0L1758.8 1119.5M1851.9 1212.6L1867.4 1228.1M1882.9 1243.6L1975.9 1336.7M2100.0 1460.7L2162.1 1522.8M2239.6 1600.3L2286.1 1646.9M2317.1 1677.9L2379.2 1739.9M2410.2 1770.9L2456.7 1817.5M2503.3 1864.0L2534.3 1895.0M2549.8 1910.5L2611.8 1972.5M2642.8 2003.6L2735.9 2096.6M1758.8 1088.5L1774.3 1104.0M1789.8 1119.5L1805.3 1135.1M1867.4 1197.1L2038.0 1367.7M2115.5 1445.2L2177.6 1507.3M2255.1 1584.8L2301.6 1631.3M2332.7 1662.4L2394.7 1724.4M2425.7 1755.4L2472.2 1801.9M2518.8 1848.5L2549.8 1879.5M2565.3 1895.0L2611.8 1941.5M2658.3 1988.0L2751.4 2081.1M1882.9 1181.6L1898.4 1197.1M1913.9 1212.6L2053.5 1352.2M2503.3 1801.9L2518.8 1817.5M2611.8 1910.5L2627.3 1926.0M2658.3 1957.0L2673.8 1972.5M2735.9 2034.6L2751.4 2050.1M1820.9 1088.5L1836.4 1104.0M1913.9 1181.6L2038.0 1305.7M2301.6 1569.3L2317.1 1584.8M2627.3 1895.0L2658.3 1926.0M2766.9 2034.6L2782.4 2050.1M1836.4 1073.0L1851.9 1088.5M1913.9 1150.6L2053.5 1290.1M2115.5 1352.2L2146.5 1383.2M2162.1 1398.7L2177.6 1414.2M2193.1 1429.7L2224.1 1460.7M2317.1 1553.8L2332.7 1569.3M2441.2 1677.9L2456.7 1693.4M2472.2 1708.9L2487.7 1724.4M2534.3 1770.9L2549.8 1786.4M2642.8 1879.5L2673.8 1910.5M2689.4 1926.0L2704.9 1941.5M2751.4 1988.0L2797.9 2034.6M1851.9 1057.5L1867.4 1073.0M1929.4 1135.1L1944.9 1150.6M1960.4 1166.1L2053.5 1259.1M2131.0 1336.7L2162.1 1367.7M2177.6 1383.2L2193.1 1398.7M2208.6 1414.2L2239.6 1445.2M2456.7 1662.4L2472.2 1677.9M2487.7 1693.4L2518.8 1724.4M2549.8 1755.4L2565.3 1770.9M2673.8 1879.5L2689.4 1895.0M2720.4 1926.0L2782.4 1988.0M2797.9 2003.6L2813.4 2019.1M1867.4 1042.0L1882.9 1057.5M1944.9 1119.5L1960.4 1135.1M1975.9 1150.6L2069.0 1243.6M2146.5 1321.2L2177.6 1352.2M2193.1 1367.7L2208.6 1383.2M2224.1 1398.7L2255.1 1429.7M2332.7 1507.3L2348.2 1522.8M2363.7 1538.3L2379.2 1553.8M2394.7 1569.3L2410.2 1584.8M2425.7 1600.3L2456.7 1631.3M2503.3 1677.9L2534.3 1708.9M2549.8 1724.4L2565.3 1739.9M2689.4 1864.0L2704.9 1879.5M2720.4 1895.0L2828.9 2003.6M1913.9 1057.5L1929.4 1073.0M1960.4 1104.0L2100.0 1243.6M2162.1 1305.7L2193.1 1336.7M2208.6 1352.2L2270.6 1414.2M2301.6 1445.2L2317.1 1460.7M2348.2 1491.8L2363.7 1507.3M2379.2 1522.8L2394.7 1538.3M2441.2 1584.8L2534.3 1677.9M2549.8 1693.4L2596.3 1739.9M2658.3 1801.9L2720.4 1864.0M2735.9 1879.5L2766.9 1910.5M2782.4 1926.0L2844.4 1988.0M1929.4 1042.0L1944.9 1057.5M1975.9 1088.5L2069.0 1181.6M2084.5 1197.1L2146.5 1259.1M2239.6 1352.2L2255.1 1367.7M2317.1 1429.7L2332.7 1445.2M2425.7 1538.3L2441.2 1553.8M2456.7 1569.3L2472.2 1584.8M2487.7 1600.3L2549.8 1662.4M2673.8 1786.4L2735.9 1848.5M2766.9 1879.5L2782.4 1895.0M2797.9 1910.5L2813.4 1926.0M2844.4 1957.0L2860.0 1972.5M1991.5 1073.0L2007.0 1088.5M2022.5 1104.0L2162.1 1243.6M2255.1 1336.7L2270.6 1352.2M2394.7 1476.3L2410.2 1491.8M2534.3 1615.8L2565.3 1646.9M2642.8 1724.4L2658.3 1739.9M2720.4 1801.9L2751.4 1833.0M2782.4 1864.0L2797.9 1879.5M2813.4 1895.0L2828.9 1910.5M2844.4 1926.0L2875.5 1957.0M2007.0 1057.5L2115.5 1166.1M2131.0 1181.6L2177.6 1228.1M2270.6 1321.2L2286.1 1336.7M2410.2 1460.7L2425.7 1476.3M2549.8 1600.3L2580.8 1631.3M2596.3 1646.9L2611.8 1662.4M2658.3 1708.9L2673.8 1724.4M2735.9 1786.4L2766.9 1817.5M2797.9 1848.5L2813.4 1864.0M2828.9 1879.5L2844.4 1895.0M2860.0 1910.5L2891.0 1941.5M2022.5 1042.0L2053.5 1073.0M2084.5 1104.0L2100.0 1119.5M2115.5 1135.1L2131.0 1150.6M2146.5 1166.1L2224.1 1243.6M2642.8 1662.4L2658.3 1677.9M2751.4 1770.9L2766.9 1786.4M2797.9 1817.5L2813.4 1833.0M2053.5 1042.0L2177.6 1166.1M2208.6 1197.1L2239.6 1228.1M2270.6 1259.1L2286.1 1274.6M2301.6 1290.1L2317.1 1305.7M2348.2 1336.7L2425.7 1414.2M2441.2 1429.7L2456.7 1445.2M2472.2 1460.7L2487.7 1476.3M2503.3 1491.8L2534.3 1522.8M2580.8 1569.3L2642.8 1631.3M2658.3 1646.9L2673.8 1662.4M2689.4 1677.9L2766.9 1755.4M2891.0 1879.5L2922.0 1910.5M2317.1 1274.6L2332.7 1290.1M2394.7 1352.2L2410.2 1367.7M2487.7 1445.2L2549.8 1507.3M2596.3 1553.8L2642.8 1600.3M2766.9 1724.4L2782.4 1739.9M2844.4 1801.9L2891.0 1848.5M2922.0 1879.5L2937.5 1895.0M2131.0 1057.5L2162.1 1088.5M2270.6 1197.1L2301.6 1228.1M2317.1 1243.6L2348.2 1274.6M2410.2 1336.7L2425.7 1352.2M2518.8 1445.2L2565.3 1491.8M2580.8 1507.3L2611.8 1538.3M2627.3 1553.8L2658.3 1584.8M2673.8 1600.3L2689.4 1615.8M2704.9 1631.3L2720.4 1646.9M2875.5 1801.9L2891.0 1817.5M2937.5 1864.0L2953.0 1879.5M2146.5 1042.0L2177.6 1073.0M2286.1 1181.6L2317.1 1212.6M2332.7 1228.1L2348.2 1243.6M2487.7 1383.2L2503.3 1398.7M2534.3 1429.7L2549.8 1445.2M2565.3 1460.7L2580.8 1476.3M2596.3 1491.8L2642.8 1538.3M2658.3 1553.8L2673.8 1569.3M2689.4 1584.8L2704.9 1600.3M2720.4 1615.8L2735.9 1631.3M2953.0 1848.5L2968.5 1864.0M2193.1 1057.5L2208.6 1073.0M2224.1 1088.5L2255.1 1119.5M2301.6 1166.1L2332.7 1197.1M2348.2 1212.6L2410.2 1274.6M2518.8 1383.2L2596.3 1460.7M2611.8 1476.3L2766.9 1631.3M2906.5 1770.9L2922.0 1786.4M2937.5 1801.9L2953.0 1817.5M2224.1 1057.5L2348.2 1181.6M2363.7 1197.1L2425.7 1259.1M2487.7 1321.2L2503.3 1336.7M2518.8 1352.2L2549.8 1383.2M2565.3 1398.7L2596.3 1429.7M2611.8 1445.2L2844.4 1677.9M2906.5 1739.9L2999.5 1833.0M2239.6 1042.0L2332.7 1135.1M2363.7 1166.1L2379.2 1181.6M2394.7 1197.1L2518.8 1321.2M2534.3 1336.7L2580.8 1383.2M2596.3 1398.7L2658.3 1460.7M2673.8 1476.3L2704.9 1507.3M2720.4 1522.8L2735.9 1538.3M2751.4 1553.8L2766.9 1569.3M2782.4 1584.8L2797.9 1600.3M2813.4 1615.8L2828.9 1631.3M2875.5 1677.9L2984.0 1786.4M2999.5 1801.9L3015.0 1817.5M2270.6 1042.0L2348.2 1119.5M2379.2 1150.6L2394.7 1166.1M2410.2 1181.6L2425.7 1197.1M2456.7 1228.1L2534.3 1305.7M2549.8 1321.2L2565.3 1336.7M2580.8 1352.2L2596.3 1367.7M2611.8 1383.2L2627.3 1398.7M2673.8 1445.2L2720.4 1491.8M2735.9 1507.3L2751.4 1522.8M2766.9 1538.3L2782.4 1553.8M2797.9 1569.3L2813.4 1584.8M2828.9 1600.3L2844.4 1615.8M2891.0 1662.4L2984.0 1755.4M2999.5 1770.9L3030.6 1801.9M2301.6 1042.0L2317.1 1057.5M2332.7 1073.0L2363.7 1104.0M2394.7 1135.1L2410.2 1150.6M2425.7 1166.1L2441.2 1181.6M2472.2 1212.6L2549.8 1290.1M2565.3 1305.7L2580.8 1321.2M2596.3 1336.7L2627.3 1367.7M2642.8 1383.2L2658.3 1398.7M2673.8 1414.2L2735.9 1476.3M2813.4 1553.8L2828.9 1569.3M2844.4 1584.8L2860.0 1600.3M2891.0 1631.3L2937.5 1677.9M2953.0 1693.4L2999.5 1739.9M3015.0 1755.4L3046.1 1786.4M2332.7 1042.0L2348.2 1057.5M2410.2 1119.5L2425.7 1135.1M2487.7 1197.1L2565.3 1274.6M2580.8 1290.1L2596.3 1305.7M2611.8 1321.2L2627.3 1336.7M2735.9 1445.2L2751.4 1460.7M2828.9 1538.3L2844.4 1553.8M2860.0 1569.3L2875.5 1584.8M2891.0 1600.3L2999.5 1708.9M2642.8 1321.2L2673.8 1352.2M2735.9 1414.2L2751.4 1429.7M2782.4 1460.7L2797.9 1476.3M3015.0 1693.4L3030.6 1708.9M2673.8 1321.2L2689.4 1336.7M2751.4 1398.7L2782.4 1429.7M2797.9 1445.2L2813.4 1460.7M2828.9 1476.3L2844.4 1491.8M2937.5 1584.8L2953.0 1600.3M2984.0 1631.3L3015.0 1662.4M3030.6 1677.9L3046.1 1693.4M2999.5 1615.8L3015.0 1631.3M2627.3 1212.6L2642.8 1228.1M2658.3 1243.6L2673.8 1259.1M2704.9 1290.1L2720.4 1305.7M2797.9 1383.2L2813.4 1398.7M2860.0 1445.2L2875.5 1460.7M2968.5 1553.8L2984.0 1569.3M3015.0 1600.3L3123.6 1708.9M2642.8 1197.1L2658.3 1212.6M2844.4 1398.7L2860.0 1414.2M3077.1 1631.3L3108.1 1662.4M2658.3 1181.6L2673.8 1197.1M2689.4 1212.6L2704.9 1228.1M2735.9 1259.1L2751.4 1274.6M2828.9 1352.2L2844.4 1367.7M2860.0 1383.2L2875.5 1398.7M2891.0 1414.2L2906.5 1429.7M2999.5 1522.8L3015.0 1538.3M3046.1 1569.3L3154.6 1677.9M2673.8 1166.1L2689.4 1181.6M2704.9 1197.1L2720.4 1212.6M2751.4 1243.6L2766.9 1259.1M2844.4 1336.7L2860.0 1352.2M2875.5 1367.7L2891.0 1383.2M2906.5 1398.7L2922.0 1414.2M3015.0 1507.3L3030.6 1522.8M3061.6 1553.8L3108.1 1600.3M3123.6 1615.8L3170.1 1662.4M2689.4 1150.6L2735.9 1197.1M2766.9 1228.1L2782.4 1243.6M3046.1 1507.3L3061.6 1522.8M3092.6 1553.8L3123.6 1584.8M3139.1 1600.3L3185.6 1646.9M2720.4 1150.6L2735.9 1166.1M2968.5 1398.7L2984.0 1414.2M3046.1 1476.3L3077.1 1507.3M3092.6 1522.8L3108.1 1538.3M3123.6 1553.8L3154.6 1584.8M3170.1 1600.3L3201.2 1631.3M2906.5 1274.6L2922.0 1290.1M2937.5 1305.7L2953.0 1321.2M2968.5 1336.7L2984.0 1352.2M2999.5 1367.7L3015.0 1383.2M3123.6 1491.8L3139.1 1507.3M3170.1 1538.3L3185.6 1553.8M3201.2 1569.3L3216.7 1584.8M2782.4 1088.5L2797.9 1104.0M3108.1 1414.2L3123.6 1429.7M3185.6 1491.8L3201.2 1507.3M3247.7 1553.8L3263.2 1569.3M2797.9 1073.0L2813.4 1088.5M3123.6 1398.7L3139.1 1414.2M3201.2 1476.3L3216.7 1491.8M3263.2 1538.3L3278.7 1553.8M2906.5 1119.5L2922.0 1135.1M2953.0 1166.1L2968.5 1181.6M2984.0 1197.1L2999.5 1212.6M3015.0 1228.1L3030.6 1243.6M3046.1 1259.1L3061.6 1274.6M3077.1 1290.1L3108.1 1321.2M3154.6 1367.7L3170.1 1383.2M3201.2 1414.2L3216.7 1429.7M3247.7 1460.7L3294.2 1507.3M2891.0 1073.0L2937.5 1119.5M2953.0 1135.1L2968.5 1150.6M3061.6 1243.6L3077.1 1259.1M3092.6 1274.6L3123.6 1305.7M3170.1 1352.2L3201.2 1383.2M3216.7 1398.7L3247.7 1429.7M3263.2 1445.2L3309.7 1491.8M2906.5 1057.5L2953.0 1104.0M2968.5 1119.5L2984.0 1135.1M3077.1 1228.1L3092.6 1243.6M3108.1 1259.1L3123.6 1274.6M3185.6 1336.7L3216.7 1367.7M3232.2 1383.2L3263.2 1414.2M3278.7 1429.7L3294.2 1445.2M3309.7 1460.7L3325.2 1476.3M2953.0 1073.0L2968.5 1088.5M2999.5 1119.5L3015.0 1135.1M3030.6 1150.6L3046.1 1166.1M3061.6 1181.6L3077.1 1197.1M3092.6 1212.6L3108.1 1228.1M3123.6 1243.6L3139.1 1259.1M3201.2 1321.2L3216.7 1336.7M3247.7 1367.7L3263.2 1383.2M3294.2 1414.2L3356.2 1476.3M3030.6 1119.5L3046.1 1135.1M3061.6 1150.6L3077.1 1166.1M3216.7 1305.7L3232.2 1321.2M3278.7 1367.7L3356.2 1445.2M3046.1 1104.0L3061.6 1119.5M3077.1 1135.1L3092.6 1150.6M3123.6 1181.6L3139.1 1197.1M3232.2 1290.1L3247.7 1305.7M3278.7 1336.7L3387.3 1445.2M3077.1 1104.0L3123.6 1150.6M3139.1 1166.1L3154.6 1181.6M3170.1 1197.1L3185.6 1212.6M3247.7 1274.6L3263.2 1290.1M3294.2 1321.2L3309.7 1336.7M3356.2 1383.2L3387.3 1414.2M3108.1 1104.0L3123.6 1119.5M3154.6 1150.6L3170.1 1166.1M3263.2 1259.1L3278.7 1274.6M3387.3 1383.2L3402.8 1398.7M3092.6 1057.5L3123.6 1088.5M3139.1 1104.0L3154.6 1119.5M3170.1 1135.1L3185.6 1150.6M3201.2 1166.1L3216.7 1181.6M3278.7 1243.6L3309.7 1274.6M3325.2 1290.1L3433.8 1398.7M3108.1 1042.0L3123.6 1057.5M3139.1 1073.0L3170.1 1104.0M3185.6 1119.5L3201.2 1135.1M3309.7 1243.6L3325.2 1259.1M3340.7 1274.6L3356.2 1290.1M3371.8 1305.7L3449.3 1383.2M3154.6 1057.5L3170.1 1073.0M3309.7 1212.6L3340.7 1243.6M3387.3 1290.1L3464.8 1367.7M3263.2 1135.1L3278.7 1150.6M3325.2 1197.1L3356.2 1228.1M3387.3 1259.1L3433.8 1305.7M3464.8 1336.7L3480.3 1352.2M3278.7 1119.5L3294.2 1135.1M3340.7 1181.6L3356.2 1197.1M3402.8 1243.6L3449.3 1290.1M3480.3 1321.2L3495.8 1336.7M3278.7 1088.5L3309.7 1119.5M3325.2 1135.1L3371.8 1181.6M3418.3 1228.1L3464.8 1274.6M3480.3 1290.1L3511.3 1321.2M3294.2 1073.0L3325.2 1104.0M3340.7 1119.5L3387.3 1166.1M3433.8 1212.6L3526.8 1305.7M3309.7 1057.5L3340.7 1088.5M3356.2 1104.0L3402.8 1150.6M3433.8 1181.6L3526.8 1274.6M3325.2 1042.0L3356.2 1073.0M3371.8 1088.5L3418.3 1135.1M3449.3 1166.1L3542.4 1259.1M3418.3 1104.0L3433.8 1119.5M3464.8 1150.6L3573.4 1259.1M3433.8 1088.5L3464.8 1119.5M3495.8 1150.6L3542.4 1197.1M3573.4 1228.1L3588.9 1243.6M3449.3 1073.0L3480.3 1104.0M3495.8 1119.5L3557.9 1181.6M3573.4 1197.1L3604.4 1228.1M3464.8 1057.5L3480.3 1073.0M3511.3 1104.0L3573.4 1166.1M3588.9 1181.6L3619.9 1212.6M3573.4 1135.1L3588.9 1150.6M3511.3 1042.0L3604.4 1135.1M3619.9 1150.6L3635.4 1166.1M3542.4 1042.0L3619.9 1119.5M3635.4 1135.1L3666.4 1166.1M3588.9 1057.5L3635.4 1104.0M3666.4 1135.1L3681.9 1150.6M3635.4 1073.0L3650.9 1088.5M3666.4 1104.0L3697.4 1135.1M3681.9 1088.5L3713.0 1119.5M3713.0 1088.5L3728.5 1104.0M3728.5 1073.0L3744.0 1088.5M3728.5 1042.0L3759.5 1073.0M409.5 1042.0L378.5 1073.0M425.0 1057.5L394.0 1088.5M471.6 1042.0L425.0 1088.5M502.6 1042.0L425.0 1119.5M456.1 1119.5L440.6 1135.1M549.1 1057.5L533.6 1073.0M518.1 1150.6L502.6 1166.1M595.6 1104.0L580.1 1119.5M533.6 1166.1L518.1 1181.6M611.2 1119.5L595.6 1135.1M549.1 1181.6L533.6 1197.1M642.2 1119.5L611.2 1150.6M564.6 1197.1L549.1 1212.6M657.7 1135.1L626.7 1166.1M781.8 1042.0L766.2 1057.5M719.7 1104.0L704.2 1119.5M688.7 1135.1L642.2 1181.6M580.1 1243.6L564.6 1259.1M797.3 1057.5L781.8 1073.0M735.2 1119.5L719.7 1135.1M704.2 1150.6L626.7 1228.1M611.2 1243.6L580.1 1274.6M812.8 1073.0L797.3 1088.5M688.7 1197.1L657.7 1228.1M719.7 1228.1L704.2 1243.6M688.7 1259.1L673.2 1274.6M657.7 1290.1L642.2 1305.7M905.8 1073.0L890.3 1088.5M797.3 1181.6L781.8 1197.1M735.2 1243.6L719.7 1259.1M921.3 1088.5L905.8 1104.0M812.8 1197.1L797.3 1212.6M750.7 1259.1L735.2 1274.6M766.2 1274.6L750.7 1290.1M1029.9 1042.0L1014.4 1057.5M952.4 1119.5L921.3 1150.6M905.8 1166.1L890.3 1181.6M874.8 1197.1L859.3 1212.6M812.8 1259.1L766.2 1305.7M735.2 1336.7L719.7 1352.2M704.2 1367.7L688.7 1383.2M1060.9 1042.0L704.2 1398.7M1091.9 1042.0L983.4 1150.6M967.9 1166.1L921.3 1212.6M905.8 1228.1L890.3 1243.6M874.8 1259.1L719.7 1414.2M1123.0 1042.0L983.4 1181.6M967.9 1197.1L936.8 1228.1M905.8 1259.1L859.3 1305.7M812.8 1352.2L735.2 1429.7M1154.0 1042.0L952.4 1243.6M936.8 1259.1L905.8 1290.1M890.3 1305.7L828.3 1367.7M766.2 1429.7L750.7 1445.2M1185.0 1042.0L1123.0 1104.0M1060.9 1166.1L1014.4 1212.6M983.4 1243.6L952.4 1274.6M936.8 1290.1L905.8 1321.2M859.3 1367.7L766.2 1460.7M1200.5 1088.5L1169.5 1119.5M1014.4 1274.6L998.9 1290.1M828.3 1460.7L797.3 1491.8M1216.0 1104.0L1185.0 1135.1M1154.0 1166.1L1138.5 1181.6M1076.4 1243.6L1045.4 1274.6M1029.9 1290.1L967.9 1352.2M859.3 1460.7L812.8 1507.3M1231.5 1119.5L1200.5 1150.6M1091.9 1259.1L1076.4 1274.6M1045.4 1305.7L983.4 1367.7M952.4 1398.7L936.8 1414.2M874.8 1476.3L843.8 1507.3M1247.0 1135.1L1216.0 1166.1M1107.4 1274.6L1091.9 1290.1M1060.9 1321.2L1045.4 1336.7M1014.4 1367.7L998.9 1383.2M967.9 1414.2L952.4 1429.7M936.8 1445.2L921.3 1460.7M890.3 1491.8L859.3 1522.8M1340.1 1073.0L1324.6 1088.5M1247.0 1166.1L1231.5 1181.6M1123.0 1290.1L1091.9 1321.2M1076.4 1336.7L1014.4 1398.7M952.4 1460.7L936.8 1476.3M921.3 1491.8L905.8 1507.3M874.8 1538.3L859.3 1553.8M1355.6 1088.5L1340.1 1104.0M1278.0 1166.1L1262.5 1181.6M1216.0 1228.1L1200.5 1243.6M1091.9 1352.2L1029.9 1414.2M967.9 1476.3L952.4 1491.8M936.8 1507.3L905.8 1538.3M890.3 1553.8L874.8 1569.3M1324.6 1150.6L1262.5 1212.6M1231.5 1243.6L1200.5 1274.6M1107.4 1367.7L1091.9 1383.2M1060.9 1414.2L1045.4 1429.7M983.4 1491.8L967.9 1507.3M936.8 1538.3L890.3 1584.8M1386.6 1119.5L1371.1 1135.1M1340.1 1166.1L1309.1 1197.1M1293.5 1212.6L1278.0 1228.1M1247.0 1259.1L1216.0 1290.1M1123.0 1383.2L1060.9 1445.2M1014.4 1491.8L967.9 1538.3M936.8 1569.3L905.8 1600.3M1402.1 1135.1L1386.6 1150.6M1324.6 1212.6L1293.5 1243.6M1262.5 1274.6L1247.0 1290.1M1185.0 1352.2L1154.0 1383.2M1138.5 1398.7L1076.4 1460.7M1029.9 1507.3L921.3 1615.8M1185.0 1383.2L1169.5 1398.7M1123.0 1445.2L1107.4 1460.7M1060.9 1507.3L1029.9 1538.3M998.9 1569.3L983.4 1584.8M1371.1 1228.1L1324.6 1274.6M1293.5 1305.7L1278.0 1321.2M1216.0 1383.2L1200.5 1398.7M1138.5 1460.7L1107.4 1491.8M1045.4 1553.8L1029.9 1569.3M998.9 1600.3L983.4 1615.8M1588.2 1042.0L1557.2 1073.0M1495.2 1135.1L1479.7 1150.6M1464.1 1166.1L1433.1 1197.1M1402.1 1228.1L1386.6 1243.6M1371.1 1259.1L1340.1 1290.1M1293.5 1336.7L1278.0 1352.2M1185.0 1445.2L1123.0 1507.3M1060.9 1569.3L1014.4 1615.8M998.9 1631.3L967.9 1662.4M1603.7 1057.5L1572.7 1088.5M1526.2 1135.1L1495.2 1166.1M1479.7 1181.6L1448.6 1212.6M1417.6 1243.6L1402.1 1259.1M1371.1 1290.1L1355.6 1305.7M1309.1 1352.2L1293.5 1367.7M1200.5 1460.7L1138.5 1522.8M1107.4 1553.8L1060.9 1600.3M1014.4 1646.9L983.4 1677.9M1619.2 1073.0L1588.2 1104.0M1526.2 1166.1L1510.7 1181.6M1464.1 1228.1L1448.6 1243.6M1433.1 1259.1L1417.6 1274.6M1386.6 1305.7L1371.1 1321.2M1324.6 1367.7L1309.1 1383.2M1216.0 1476.3L1200.5 1491.8M1185.0 1507.3L1169.5 1522.8M1107.4 1584.8L1076.4 1615.8M1060.9 1631.3L1045.4 1646.9M1029.9 1662.4L998.9 1693.4M1634.7 1088.5L1603.7 1119.5M1557.2 1166.1L1526.2 1197.1M1510.7 1212.6L1495.2 1228.1M1479.7 1243.6L1464.1 1259.1M1448.6 1274.6L1433.1 1290.1M1417.6 1305.7L1402.1 1321.2M1355.6 1367.7L1324.6 1398.7M1231.5 1491.8L1169.5 1553.8M1123.0 1600.3L1091.9 1631.3M1060.9 1662.4L1029.9 1693.4M1464.1 1290.1L1402.1 1352.2M1355.6 1398.7L1340.1 1414.2M1278.0 1476.3L1262.5 1491.8M1247.0 1507.3L1216.0 1538.3M1200.5 1553.8L1185.0 1569.3M1169.5 1584.8L1123.0 1631.3M1107.4 1646.9L1091.9 1662.4M1076.4 1677.9L1029.9 1724.4M1464.1 1321.2L1417.6 1367.7M1200.5 1584.8L1185.0 1600.3M1169.5 1615.8L1138.5 1646.9M1107.4 1677.9L1091.9 1693.4M1076.4 1708.9L1045.4 1739.9M1541.7 1274.6L1495.2 1321.2M1464.1 1352.2L1433.1 1383.2M1355.6 1460.7L1293.5 1522.8M1262.5 1553.8L1247.0 1569.3M1231.5 1584.8L1185.0 1631.3M1169.5 1646.9L1091.9 1724.4M1076.4 1739.9L1060.9 1755.4M1758.8 1088.5L1712.3 1135.1M1557.2 1290.1L1510.7 1336.7M1479.7 1367.7L1448.6 1398.7M1417.6 1429.7L1402.1 1445.2M1340.1 1507.3L1309.1 1538.3M1293.5 1553.8L1231.5 1615.8M1200.5 1646.9L1076.4 1770.9M1774.3 1104.0L1727.8 1150.6M1495.2 1383.2L1464.1 1414.2M1433.1 1445.2L1417.6 1460.7M1355.6 1522.8L1324.6 1553.8M1309.1 1569.3L1293.5 1584.8M1278.0 1600.3L1247.0 1631.3M1216.0 1662.4L1169.5 1708.9M1123.0 1755.4L1091.9 1786.4M1867.4 1042.0L1851.9 1057.5M1836.4 1073.0L1820.9 1088.5M1789.8 1119.5L1743.3 1166.1M1727.8 1181.6L1696.8 1212.6M1681.3 1228.1L1665.8 1243.6M1650.3 1259.1L1619.2 1290.1M1603.7 1305.7L1588.2 1321.2M1526.2 1383.2L1479.7 1429.7M1448.6 1460.7L1433.1 1476.3M1371.1 1538.3L1340.1 1569.3M1309.1 1600.3L1293.5 1615.8M1278.0 1631.3L1262.5 1646.9M1231.5 1677.9L1154.0 1755.4M1138.5 1770.9L1107.4 1801.9M1882.9 1057.5L1867.4 1073.0M1851.9 1088.5L1836.4 1104.0M1805.3 1135.1L1758.8 1181.6M1743.3 1197.1L1712.3 1228.1M1696.8 1243.6L1681.3 1259.1M1665.8 1274.6L1634.7 1305.7M1619.2 1321.2L1603.7 1336.7M1510.7 1429.7L1495.2 1445.2M1386.6 1553.8L1355.6 1584.8M1340.1 1600.3L1309.1 1631.3M1293.5 1646.9L1262.5 1677.9M1247.0 1693.4L1200.5 1739.9M1185.0 1755.4L1169.5 1770.9M1138.5 1801.9L1123.0 1817.5M1929.4 1042.0L1913.9 1057.5M1572.7 1398.7L1557.2 1414.2M1541.7 1429.7L1510.7 1460.7M1479.7 1491.8L1448.6 1522.8M1386.6 1584.8L1371.1 1600.3M1355.6 1615.8L1324.6 1646.9M1309.1 1662.4L1293.5 1677.9M1262.5 1708.9L1216.0 1755.4M1200.5 1770.9L1138.5 1833.0M1944.9 1057.5L1929.4 1073.0M1588.2 1414.2L1572.7 1429.7M1557.2 1445.2L1526.2 1476.3M1402.1 1600.3L1386.6 1615.8M1355.6 1646.9L1340.1 1662.4M1324.6 1677.9L1293.5 1708.9M1278.0 1724.4L1231.5 1770.9M1200.5 1801.9L1185.0 1817.5M1169.5 1833.0L1154.0 1848.5M1588.2 1445.2L1557.2 1476.3M1495.2 1538.3L1479.7 1553.8M1402.1 1631.3L1386.6 1646.9M1371.1 1662.4L1355.6 1677.9M1340.1 1693.4L1309.1 1724.4M1293.5 1739.9L1216.0 1817.5M1200.5 1833.0L1185.0 1848.5M2022.5 1042.0L1960.4 1104.0M1944.9 1119.5L1929.4 1135.1M1913.9 1150.6L1867.4 1197.1M1851.9 1212.6L1836.4 1228.1M1820.9 1243.6L1774.3 1290.1M1758.8 1305.7L1743.3 1321.2M1727.8 1336.7L1665.8 1398.7M1619.2 1445.2L1603.7 1460.7M1588.2 1476.3L1541.7 1522.8M1526.2 1538.3L1495.2 1569.3M1479.7 1584.8L1448.6 1615.8M1402.1 1662.4L1386.6 1677.9M1371.1 1693.4L1355.6 1708.9M1340.1 1724.4L1324.6 1739.9M1278.0 1786.4L1262.5 1801.9M1231.5 1833.0L1216.0 1848.5M1200.5 1864.0L1185.0 1879.5M2022.5 1073.0L1975.9 1119.5M1960.4 1135.1L1944.9 1150.6M1929.4 1166.1L1913.9 1181.6M1898.4 1197.1L1882.9 1212.6M1867.4 1228.1L1851.9 1243.6M1820.9 1274.6L1789.8 1305.7M1774.3 1321.2L1758.8 1336.7M1743.3 1352.2L1712.3 1383.2M1696.8 1398.7L1681.3 1414.2M1572.7 1522.8L1557.2 1538.3M1433.1 1662.4L1402.1 1693.4M1355.6 1739.9L1340.1 1755.4M1216.0 1879.5L1200.5 1895.0M2053.5 1073.0L2022.5 1104.0M1975.9 1150.6L1960.4 1166.1M1944.9 1181.6L1929.4 1197.1M1913.9 1212.6L1851.9 1274.6M1836.4 1290.1L1805.3 1321.2M1789.8 1336.7L1727.8 1398.7M1712.3 1414.2L1696.8 1429.7M1665.8 1460.7L1650.3 1476.3M1634.7 1491.8L1619.2 1507.3M1588.2 1538.3L1572.7 1553.8M1557.2 1569.3L1541.7 1584.8M1510.7 1615.8L1417.6 1708.9M1371.1 1755.4L1355.6 1770.9M1309.1 1817.5L1231.5 1895.0M1960.4 1197.1L1944.9 1212.6M1913.9 1243.6L1867.4 1290.1M1789.8 1367.7L1758.8 1398.7M1712.3 1445.2L1681.3 1476.3M1665.8 1491.8L1650.3 1507.3M1526.2 1631.3L1433.1 1724.4M1340.1 1817.5L1247.0 1910.5M2146.5 1042.0L2131.0 1057.5M2084.5 1104.0L2069.0 1119.5M2022.5 1166.1L1991.5 1197.1M1960.4 1228.1L1929.4 1259.1M1913.9 1274.6L1836.4 1352.2M1820.9 1367.7L1758.8 1429.7M1743.3 1445.2L1650.3 1538.3M1634.7 1553.8L1619.2 1569.3M1572.7 1615.8L1386.6 1801.9M1371.1 1817.5L1293.5 1895.0M1278.0 1910.5L1247.0 1941.5M2177.6 1042.0L2084.5 1135.1M2069.0 1150.6L2007.0 1212.6M1975.9 1243.6L1913.9 1305.7M1898.4 1321.2L1851.9 1367.7M1805.3 1414.2L1774.3 1445.2M1758.8 1460.7L1634.7 1584.8M1619.2 1600.3L1386.6 1833.0M1371.1 1848.5L1293.5 1926.0M1278.0 1941.5L1262.5 1957.0M2208.6 1042.0L2100.0 1150.6M2084.5 1166.1L2069.0 1181.6M2038.0 1212.6L2022.5 1228.1M2007.0 1243.6L1960.4 1290.1M1913.9 1336.7L1867.4 1383.2M1851.9 1398.7L1836.4 1414.2M1820.9 1429.7L1758.8 1491.8M1743.3 1507.3L1696.8 1553.8M1681.3 1569.3L1588.2 1662.4M1526.2 1724.4L1510.7 1739.9M1464.1 1786.4L1448.6 1801.9M1433.1 1817.5L1417.6 1833.0M1402.1 1848.5L1355.6 1895.0M1324.6 1926.0L1309.1 1941.5M1293.5 1957.0L1278.0 1972.5M2239.6 1042.0L2146.5 1135.1M2131.0 1150.6L2069.0 1212.6M2022.5 1259.1L1975.9 1305.7M1929.4 1352.2L1913.9 1367.7M1898.4 1383.2L1882.9 1398.7M1836.4 1445.2L1820.9 1460.7M1805.3 1476.3L1774.3 1507.3M1758.8 1522.8L1665.8 1615.8M1634.7 1646.9L1495.2 1786.4M1479.7 1801.9L1464.1 1817.5M1448.6 1833.0L1293.5 1988.0M2270.6 1042.0L2146.5 1166.1M2131.0 1181.6L2084.5 1228.1M2069.0 1243.6L2053.5 1259.1M2038.0 1274.6L2007.0 1305.7M1975.9 1336.7L1960.4 1352.2M1944.9 1367.7L1898.4 1414.2M1882.9 1429.7L1867.4 1445.2M1820.9 1491.8L1805.3 1507.3M1743.3 1569.3L1696.8 1615.8M1650.3 1662.4L1619.2 1693.4M1557.2 1755.4L1526.2 1786.4M1510.7 1801.9L1448.6 1864.0M1433.1 1879.5L1386.6 1926.0M1355.6 1957.0L1340.1 1972.5M1324.6 1988.0L1309.1 2003.6M2301.6 1042.0L2177.6 1166.1M2131.0 1212.6L2100.0 1243.6M2053.5 1290.1L2022.5 1321.2M1960.4 1383.2L1944.9 1398.7M1836.4 1507.3L1820.9 1522.8M1758.8 1584.8L1743.3 1600.3M1665.8 1677.9L1634.7 1708.9M1572.7 1770.9L1526.2 1817.5M1510.7 1833.0L1479.7 1864.0M1448.6 1895.0L1402.1 1941.5M1371.1 1972.5L1355.6 1988.0M2332.7 1042.0L2317.1 1057.5M2286.1 1088.5L2255.1 1119.5M1758.8 1615.8L1712.3 1662.4M1650.3 1724.4L1634.7 1739.9M1572.7 1801.9L1557.2 1817.5M1541.7 1833.0L1526.2 1848.5M1495.2 1879.5L1464.1 1910.5M2348.2 1057.5L2317.1 1088.5M2301.6 1104.0L2286.1 1119.5M2208.6 1197.1L2177.6 1228.1M2162.1 1243.6L2146.5 1259.1M2053.5 1352.2L2038.0 1367.7M1712.3 1693.4L1696.8 1708.9M1681.3 1724.4L1650.3 1755.4M1603.7 1801.9L1588.2 1817.5M1557.2 1848.5L1541.7 1864.0M1526.2 1879.5L1510.7 1895.0M1495.2 1910.5L1433.1 1972.5M2394.7 1042.0L2348.2 1088.5M1805.3 1631.3L1789.8 1646.9M1464.1 1972.5L1448.6 1988.0M2425.7 1042.0L2270.6 1197.1M2239.6 1228.1L2224.1 1243.6M2162.1 1305.7L2146.5 1321.2M2131.0 1336.7L2115.5 1352.2M1975.9 1491.8L1960.4 1507.3M1929.4 1538.3L1913.9 1553.8M1867.4 1600.3L1851.9 1615.8M1789.8 1677.9L1758.8 1708.9M1743.3 1724.4L1603.7 1864.0M1588.2 1879.5L1541.7 1926.0M1526.2 1941.5L1464.1 2003.6M1433.1 2034.6L1402.1 2065.6M2332.7 1166.1L2317.1 1181.6M2301.6 1197.1L2286.1 1212.6M2053.5 1445.2L2038.0 1460.7M1634.7 1864.0L1619.2 1879.5M2410.2 1119.5L2332.7 1197.1M2317.1 1212.6L2270.6 1259.1M2193.1 1336.7L2177.6 1352.2M2162.1 1367.7L2146.5 1383.2M2069.0 1460.7L2053.5 1476.3M2007.0 1522.8L1991.5 1538.3M1960.4 1569.3L1944.9 1584.8M1898.4 1631.3L1882.9 1646.9M1820.9 1708.9L1758.8 1770.9M1619.2 1910.5L1572.7 1957.0M1510.7 2019.1L1495.2 2034.6M1433.1 2096.6L1417.6 2112.1M2425.7 1135.1L2348.2 1212.6M2332.7 1228.1L2286.1 1274.6M2208.6 1352.2L2193.1 1367.7M2177.6 1383.2L2162.1 1398.7M2115.5 1445.2L2100.0 1460.7M2084.5 1476.3L2069.0 1491.8M2022.5 1538.3L2007.0 1553.8M1975.9 1584.8L1960.4 1600.3M1913.9 1646.9L1898.4 1662.4M1836.4 1724.4L1774.3 1786.4M1681.3 1879.5L1665.8 1895.0M1634.7 1926.0L1588.2 1972.5M1526.2 2034.6L1433.1 2127.6M2425.7 1166.1L2363.7 1228.1M2348.2 1243.6L2332.7 1259.1M2317.1 1274.6L2301.6 1290.1M2270.6 1321.2L2255.1 1336.7M2239.6 1352.2L2208.6 1383.2M2193.1 1398.7L2177.6 1414.2M2131.0 1460.7L2084.5 1507.3M2038.0 1553.8L2007.0 1584.8M1991.5 1600.3L1975.9 1615.8M1929.4 1662.4L1913.9 1677.9M1867.4 1724.4L1851.9 1739.9M1836.4 1755.4L1789.8 1801.9M1712.3 1879.5L1681.3 1910.5M1572.7 2019.1L1510.7 2081.1M1495.2 2096.6L1448.6 2143.1M2441.2 1181.6L2348.2 1274.6M2332.7 1290.1L2317.1 1305.7M2286.1 1336.7L2270.6 1352.2M2255.1 1367.7L2224.1 1398.7M2208.6 1414.2L2193.1 1429.7M2131.0 1491.8L2100.0 1522.8M2053.5 1569.3L2022.5 1600.3M2007.0 1615.8L1991.5 1631.3M1944.9 1677.9L1929.4 1693.4M1882.9 1739.9L1789.8 1833.0M1743.3 1879.5L1696.8 1926.0M1681.3 1941.5L1603.7 2019.1M1572.7 2050.1L1541.7 2081.1M1510.7 2112.1L1479.7 2143.1M1774.3 1879.5L1743.3 1910.5M1650.3 2003.6L1634.7 2019.1M1619.2 2034.6L1603.7 2050.1M1541.7 2112.1L1510.7 2143.1M2487.7 1197.1L2425.7 1259.1M2410.2 1274.6L2348.2 1336.7M2270.6 1414.2L2255.1 1429.7M2239.6 1445.2L2224.1 1460.7M2177.6 1507.3L2162.1 1522.8M2146.5 1538.3L2131.0 1553.8M2084.5 1600.3L2069.0 1615.8M2038.0 1646.9L2022.5 1662.4M1975.9 1708.9L1960.4 1724.4M1898.4 1786.4L1820.9 1864.0M1789.8 1895.0L1774.3 1910.5M1696.8 1988.0L1681.3 2003.6M1665.8 2019.1L1650.3 2034.6M1619.2 2065.6L1588.2 2096.6M1557.2 2127.6L1541.7 2143.1M1510.7 2174.2L1495.2 2189.7M1867.4 1848.5L1836.4 1879.5M1789.8 1926.0L1774.3 1941.5M1665.8 2050.1L1650.3 2065.6M1588.2 2127.6L1572.7 2143.1M2518.8 1228.1L2394.7 1352.2M2317.1 1429.7L2301.6 1445.2M1913.9 1833.0L1898.4 1848.5M1867.4 1879.5L1851.9 1895.0M1681.3 2065.6L1665.8 2081.1M2534.3 1243.6L2410.2 1367.7M2332.7 1445.2L2317.1 1460.7M1929.4 1848.5L1913.9 1864.0M1898.4 1879.5L1882.9 1895.0M1696.8 2081.1L1681.3 2096.6M2503.3 1305.7L2487.7 1321.2M1944.9 1864.0L1898.4 1910.5M1634.7 2174.2L1619.2 2189.7M1603.7 2205.2L1588.2 2220.7M2689.4 1150.6L2673.8 1166.1M2658.3 1181.6L2627.3 1212.6M2565.3 1274.6L2518.8 1321.2M2503.3 1336.7L2425.7 1414.2M2348.2 1491.8L2332.7 1507.3M2255.1 1584.8L2239.6 1600.3M2224.1 1615.8L2208.6 1631.3M2115.5 1724.4L2100.0 1739.9M2053.5 1786.4L2038.0 1801.9M1975.9 1864.0L1944.9 1895.0M1913.9 1926.0L1898.4 1941.5M1867.4 1972.5L1805.3 2034.6M1774.3 2065.6L1758.8 2081.1M1743.3 2096.6L1727.8 2112.1M1696.8 2143.1L1665.8 2174.2M1619.2 2220.7L1572.7 2267.2M2797.9 1073.0L2782.4 1088.5M2720.4 1150.6L2689.4 1181.6M2673.8 1197.1L2642.8 1228.1M2580.8 1290.1L2441.2 1429.7M2410.2 1460.7L2394.7 1476.3M2363.7 1507.3L2348.2 1522.8M2317.1 1553.8L2301.6 1569.3M2255.1 1615.8L2224.1 1646.9M2162.1 1708.9L2146.5 1724.4M2131.0 1739.9L2115.5 1755.4M2069.0 1801.9L2053.5 1817.5M2007.0 1864.0L1960.4 1910.5M1851.9 2019.1L1820.9 2050.1M1789.8 2081.1L1774.3 2096.6M1758.8 2112.1L1743.3 2127.6M1727.8 2143.1L1619.2 2251.7M1603.7 2267.2L1588.2 2282.7M2813.4 1088.5L2797.9 1104.0M2735.9 1166.1L2704.9 1197.1M2689.4 1212.6L2658.3 1243.6M2596.3 1305.7L2456.7 1445.2M2425.7 1476.3L2410.2 1491.8M2379.2 1522.8L2363.7 1538.3M2332.7 1569.3L2317.1 1584.8M2270.6 1631.3L2239.6 1662.4M2177.6 1724.4L2162.1 1739.9M2146.5 1755.4L2131.0 1770.9M2084.5 1817.5L2069.0 1833.0M2022.5 1879.5L1975.9 1926.0M1867.4 2034.6L1836.4 2065.6M1805.3 2096.6L1789.8 2112.1M1774.3 2127.6L1758.8 2143.1M1743.3 2158.6L1681.3 2220.7M1665.8 2236.2L1650.3 2251.7M1619.2 2282.7L1603.7 2298.2M2735.9 1197.1L2720.4 1212.6M2704.9 1228.1L2673.8 1259.1M2611.8 1321.2L2565.3 1367.7M2549.8 1383.2L2534.3 1398.7M2487.7 1445.2L2472.2 1460.7M2394.7 1538.3L2379.2 1553.8M2301.6 1631.3L2286.1 1646.9M2270.6 1662.4L2255.1 1677.9M2162.1 1770.9L2146.5 1786.4M2100.0 1833.0L2084.5 1848.5M2022.5 1910.5L1991.5 1941.5M1960.4 1972.5L1944.9 1988.0M1913.9 2019.1L1867.4 2065.6M1836.4 2096.6L1805.3 2127.6M1789.8 2143.1L1774.3 2158.6M1758.8 2174.2L1712.3 2220.7M1696.8 2236.2L1665.8 2267.2M1634.7 2298.2L1619.2 2313.7M2906.5 1057.5L2891.0 1073.0M2642.8 1321.2L2487.7 1476.3M2425.7 1538.3L2394.7 1569.3M2115.5 1848.5L2100.0 1864.0M2038.0 1926.0L2007.0 1957.0M1851.9 2112.1L1789.8 2174.2M1774.3 2189.7L1634.7 2329.2M2922.0 1073.0L2906.5 1088.5M2766.9 1228.1L2751.4 1243.6M2735.9 1259.1L2704.9 1290.1M2673.8 1321.2L2658.3 1336.7M2627.3 1367.7L2580.8 1414.2M2549.8 1445.2L2503.3 1491.8M2441.2 1553.8L2410.2 1584.8M2332.7 1662.4L2317.1 1677.9M2301.6 1693.4L2286.1 1708.9M2208.6 1786.4L2193.1 1801.9M2131.0 1864.0L2115.5 1879.5M2053.5 1941.5L2022.5 1972.5M1991.5 2003.6L1960.4 2034.6M1944.9 2050.1L1898.4 2096.6M1851.9 2143.1L1820.9 2174.2M1743.3 2251.7L1712.3 2282.7M1696.8 2298.2L1681.3 2313.7M1665.8 2329.2L1650.3 2344.8M2953.0 1073.0L2906.5 1119.5M2782.4 1243.6L2766.9 1259.1M2751.4 1274.6L2720.4 1305.7M2689.4 1336.7L2642.8 1383.2M2627.3 1398.7L2565.3 1460.7M2534.3 1491.8L2518.8 1507.3M2456.7 1569.3L2425.7 1600.3M2348.2 1677.9L2332.7 1693.4M2317.1 1708.9L2301.6 1724.4M2224.1 1801.9L2208.6 1817.5M2146.5 1879.5L2131.0 1895.0M2069.0 1957.0L2038.0 1988.0M2007.0 2019.1L1975.9 2050.1M1882.9 2143.1L1836.4 2189.7M1789.8 2236.2L1758.8 2267.2M1743.3 2282.7L1727.8 2298.2M1712.3 2313.7L1665.8 2360.3M2968.5 1088.5L2953.0 1104.0M2937.5 1119.5L2922.0 1135.1M2658.3 1398.7L2627.3 1429.7M2611.8 1445.2L2565.3 1491.8M2549.8 1507.3L2534.3 1522.8M2472.2 1584.8L2441.2 1615.8M2363.7 1693.4L2348.2 1708.9M2332.7 1724.4L2317.1 1739.9M2162.1 1895.0L2146.5 1910.5M2084.5 1972.5L2069.0 1988.0M2022.5 2034.6L2007.0 2050.1M1867.4 2189.7L1851.9 2205.2M1805.3 2251.7L1774.3 2282.7M1758.8 2298.2L1743.3 2313.7M1727.8 2329.2L1681.3 2375.8M2968.5 1119.5L2953.0 1135.1M2673.8 1414.2L2642.8 1445.2M2627.3 1460.7L2580.8 1507.3M2487.7 1600.3L2456.7 1631.3M2379.2 1708.9L2363.7 1724.4M2348.2 1739.9L2332.7 1755.4M2255.1 1833.0L2239.6 1848.5M2177.6 1910.5L2162.1 1926.0M2115.5 1972.5L2069.0 2019.1M2038.0 2050.1L2022.5 2065.6M1913.9 2174.2L1882.9 2205.2M1867.4 2220.7L1851.9 2236.2M1805.3 2282.7L1758.8 2329.2M1743.3 2344.8L1727.8 2360.3M1712.3 2375.8L1696.8 2391.3M2999.5 1119.5L2953.0 1166.1M2673.8 1445.2L2642.8 1476.3M2627.3 1491.8L2596.3 1522.8M2456.7 1662.4L2441.2 1677.9M2394.7 1724.4L2379.2 1739.9M2363.7 1755.4L2348.2 1770.9M2301.6 1817.5L2286.1 1833.0M2270.6 1848.5L2255.1 1864.0M2193.1 1926.0L2177.6 1941.5M2100.0 2019.1L2084.5 2034.6M1836.4 2282.7L1820.9 2298.2M1789.8 2329.2L1774.3 2344.8M1758.8 2360.3L1743.3 2375.8M1727.8 2391.3L1712.3 2406.8M3108.1 1042.0L3092.6 1057.5M3046.1 1104.0L3030.6 1119.5M3015.0 1135.1L2968.5 1181.6M2751.4 1398.7L2642.8 1507.3M2627.3 1522.8L2611.8 1538.3M2596.3 1553.8L2580.8 1569.3M2549.8 1600.3L2534.3 1615.8M2518.8 1631.3L2503.3 1646.9M2472.2 1677.9L2456.7 1693.4M2317.1 1833.0L2301.6 1848.5M2208.6 1941.5L2193.1 1957.0M2131.0 2019.1L2100.0 2050.1M2022.5 2127.6L1975.9 2174.2M1944.9 2205.2L1929.4 2220.7M1882.9 2267.2L1867.4 2282.7M1820.9 2329.2L1805.3 2344.8M1743.3 2406.8L1727.8 2422.3M3139.1 1042.0L3077.1 1104.0M3061.6 1119.5L3046.1 1135.1M3030.6 1150.6L2984.0 1197.1M2906.5 1274.6L2844.4 1336.7M2828.9 1352.2L2797.9 1383.2M2766.9 1414.2L2658.3 1522.8M2642.8 1538.3L2627.3 1553.8M2565.3 1615.8L2549.8 1631.3M2534.3 1646.9L2518.8 1662.4M2503.3 1677.9L2472.2 1708.9M2425.7 1755.4L2379.2 1801.9M2363.7 1817.5L2286.1 1895.0M2239.6 1941.5L2224.1 1957.0M2208.6 1972.5L2177.6 2003.6M2146.5 2034.6L2115.5 2065.6M2084.5 2096.6L2069.0 2112.1M2007.0 2174.2L1991.5 2189.7M1960.4 2220.7L1929.4 2251.7M1913.9 2267.2L1882.9 2298.2M1867.4 2313.7L1820.9 2360.3M1758.8 2422.3L1743.3 2437.8M3154.6 1057.5L3139.1 1073.0M3123.6 1088.5L3092.6 1119.5M3077.1 1135.1L3061.6 1150.6M3046.1 1166.1L2999.5 1212.6M2922.0 1290.1L2860.0 1352.2M2844.4 1367.7L2813.4 1398.7M2782.4 1429.7L2751.4 1460.7M2735.9 1476.3L2689.4 1522.8M2673.8 1538.3L2658.3 1553.8M2580.8 1631.3L2565.3 1646.9M2549.8 1662.4L2534.3 1677.9M2503.3 1708.9L2487.7 1724.4M2441.2 1770.9L2394.7 1817.5M2379.2 1833.0L2286.1 1926.0M2255.1 1957.0L2239.6 1972.5M2177.6 2034.6L2131.0 2081.1M2100.0 2112.1L2084.5 2127.6M2053.5 2158.6L2007.0 2205.2M1960.4 2251.7L1944.9 2267.2M1929.4 2282.7L1913.9 2298.2M1882.9 2329.2L1867.4 2344.8M1851.9 2360.3L1836.4 2375.8M1805.3 2406.8L1789.8 2422.3M1774.3 2437.8L1758.8 2453.3M3170.1 1073.0L3108.1 1135.1M3092.6 1150.6L3077.1 1166.1M3061.6 1181.6L3015.0 1228.1M2937.5 1305.7L2875.5 1367.7M2860.0 1383.2L2844.4 1398.7M2797.9 1445.2L2782.4 1460.7M2735.9 1507.3L2673.8 1569.3M2658.3 1584.8L2642.8 1600.3M2596.3 1646.9L2549.8 1693.4M2534.3 1708.9L2518.8 1724.4M2394.7 1848.5L2363.7 1879.5M2348.2 1895.0L2286.1 1957.0M2270.6 1972.5L2255.1 1988.0M2193.1 2050.1L2146.5 2096.6M2115.5 2127.6L2084.5 2158.6M1975.9 2267.2L1960.4 2282.7M1944.9 2298.2L1898.4 2344.8M1867.4 2375.8L1851.9 2391.3M1820.9 2422.3L1774.3 2468.8M3170.1 1104.0L3123.6 1150.6M3077.1 1197.1L3030.6 1243.6M2953.0 1321.2L2891.0 1383.2M2875.5 1398.7L2860.0 1414.2M2813.4 1460.7L2797.9 1476.3M2751.4 1522.8L2720.4 1553.8M2689.4 1584.8L2642.8 1631.3M2611.8 1662.4L2549.8 1724.4M2472.2 1801.9L2456.7 1817.5M2441.2 1833.0L2425.7 1848.5M2410.2 1864.0L2379.2 1895.0M2348.2 1926.0L2332.7 1941.5M2317.1 1957.0L2301.6 1972.5M2286.1 1988.0L2224.1 2050.1M2208.6 2065.6L2162.1 2112.1M2131.0 2143.1L2100.0 2174.2M1991.5 2282.7L1975.9 2298.2M1944.9 2329.2L1898.4 2375.8M1882.9 2391.3L1867.4 2406.8M1836.4 2437.8L1789.8 2484.3M3185.6 1119.5L3123.6 1181.6M3092.6 1212.6L3046.1 1259.1M2968.5 1336.7L2906.5 1398.7M2891.0 1414.2L2704.9 1600.3M2689.4 1615.8L2658.3 1646.9M2642.8 1662.4L2565.3 1739.9M2549.8 1755.4L2534.3 1770.9M2503.3 1801.9L2441.2 1864.0M2425.7 1879.5L2317.1 1988.0M2301.6 2003.6L2270.6 2034.6M2255.1 2050.1L2193.1 2112.1M2177.6 2127.6L2162.1 2143.1M2146.5 2158.6L2053.5 2251.7M2038.0 2267.2L2022.5 2282.7M2007.0 2298.2L1991.5 2313.7M1975.9 2329.2L1929.4 2375.8M1898.4 2406.8L1882.9 2422.3M1851.9 2453.3L1836.4 2468.8M1820.9 2484.3L1805.3 2499.8M3201.2 1135.1L3139.1 1197.1M3108.1 1228.1L3061.6 1274.6M2984.0 1352.2L2922.0 1414.2M2906.5 1429.7L2720.4 1615.8M2704.9 1631.3L2673.8 1662.4M2658.3 1677.9L2596.3 1739.9M2565.3 1770.9L2549.8 1786.4M2518.8 1817.5L2456.7 1879.5M2441.2 1895.0L2332.7 2003.6M2317.1 2019.1L2286.1 2050.1M2270.6 2065.6L2224.1 2112.1M2193.1 2143.1L2177.6 2158.6M2162.1 2174.2L2069.0 2267.2M2053.5 2282.7L2038.0 2298.2M2022.5 2313.7L2007.0 2329.2M1991.5 2344.8L1898.4 2437.8M1867.4 2468.8L1851.9 2484.3M1836.4 2499.8L1820.9 2515.4M3325.2 1042.0L3309.7 1057.5M3294.2 1073.0L3278.7 1088.5M3201.2 1166.1L3170.1 1197.1M3123.6 1243.6L3108.1 1259.1M3092.6 1274.6L3077.1 1290.1M2999.5 1367.7L2968.5 1398.7M2828.9 1538.3L2766.9 1600.3M2735.9 1631.3L2689.4 1677.9M2658.3 1708.9L2642.8 1724.4M2518.8 1848.5L2472.2 1895.0M2410.2 1957.0L2394.7 1972.5M2379.2 1988.0L2363.7 2003.6M2317.1 2050.1L2301.6 2065.6M2255.1 2112.1L2208.6 2158.6M2177.6 2189.7L2162.1 2205.2M2100.0 2267.2L2084.5 2282.7M2069.0 2298.2L2038.0 2329.2M2022.5 2344.8L1991.5 2375.8M1975.9 2391.3L1960.4 2406.8M1929.4 2437.8L1913.9 2453.3M1882.9 2484.3L1867.4 2499.8M1851.9 2515.4L1836.4 2530.9M3278.7 1119.5L3263.2 1135.1M3216.7 1181.6L3185.6 1212.6M3139.1 1259.1L3123.6 1274.6M3108.1 1290.1L3092.6 1305.7M3015.0 1383.2L2984.0 1414.2M2844.4 1553.8L2766.9 1631.3M2673.8 1724.4L2658.3 1739.9M2534.3 1864.0L2487.7 1910.5M2425.7 1972.5L2410.2 1988.0M2394.7 2003.6L2379.2 2019.1M2270.6 2127.6L2208.6 2189.7M2193.1 2205.2L2177.6 2220.7M2115.5 2282.7L2100.0 2298.2M2084.5 2313.7L2007.0 2391.3M1991.5 2406.8L1975.9 2422.3M1944.9 2453.3L1929.4 2468.8M1898.4 2499.8L1882.9 2515.4M1867.4 2530.9L1851.9 2546.4M3356.2 1073.0L3340.7 1088.5M3325.2 1104.0L3309.7 1119.5M3294.2 1135.1L3278.7 1150.6M3123.6 1305.7L3108.1 1321.2M2860.0 1569.3L2813.4 1615.8M2549.8 1879.5L2534.3 1895.0M2518.8 1910.5L2503.3 1926.0M2270.6 2158.6L2255.1 2174.2M2239.6 2189.7L2224.1 2205.2M2115.5 2313.7L2100.0 2329.2M2069.0 2360.3L2038.0 2391.3M1960.4 2468.8L1944.9 2484.3M1913.9 2515.4L1882.9 2546.4M3371.8 1088.5L3356.2 1104.0M3340.7 1119.5L3325.2 1135.1M2875.5 1584.8L2828.9 1631.3M2673.8 1786.4L2658.3 1801.9M2565.3 1895.0L2549.8 1910.5M2534.3 1926.0L2518.8 1941.5M2286.1 2174.2L2270.6 2189.7M2255.1 2205.2L2239.6 2220.7M2162.1 2298.2L2131.0 2329.2M2100.0 2360.3L2038.0 2422.3M1975.9 2484.3L1960.4 2499.8M1929.4 2530.9L1898.4 2561.9M2891.0 1600.3L2766.9 1724.4M2286.1 2205.2L2270.6 2220.7M2038.0 2453.3L1991.5 2499.8M3464.8 1057.5L3449.3 1073.0M3433.8 1088.5L3418.3 1104.0M3402.8 1119.5L3387.3 1135.1M3371.8 1150.6L3356.2 1166.1M3340.7 1181.6L3309.7 1212.6M3278.7 1243.6L3263.2 1259.1M3247.7 1274.6L3232.2 1290.1M3216.7 1305.7L3201.2 1321.2M3185.6 1336.7L3170.1 1352.2M3154.6 1367.7L3046.1 1476.3M3015.0 1507.3L2999.5 1522.8M2968.5 1553.8L2766.9 1755.4M2751.4 1770.9L2689.4 1833.0M2642.8 1879.5L2596.3 1926.0M2503.3 2019.1L2487.7 2034.6M2348.2 2174.2L2301.6 2220.7M2255.1 2267.2L2208.6 2313.7M2177.6 2344.8L2146.5 2375.8M2115.5 2406.8L1991.5 2530.9M1960.4 2561.9L1913.9 2608.4M3480.3 1073.0L3433.8 1119.5M3418.3 1135.1L3402.8 1150.6M3387.3 1166.1L3371.8 1181.6M3356.2 1197.1L3325.2 1228.1M3309.7 1243.6L3278.7 1274.6M3263.2 1290.1L3247.7 1305.7M3232.2 1321.2L3216.7 1336.7M3201.2 1352.2L3185.6 1367.7M3170.1 1383.2L3046.1 1507.3M3030.6 1522.8L3015.0 1538.3M2984.0 1569.3L2875.5 1677.9M2766.9 1786.4L2751.4 1801.9M2735.9 1817.5L2704.9 1848.5M2689.4 1864.0L2673.8 1879.5M2658.3 1895.0L2565.3 1988.0M2549.8 2003.6L2534.3 2019.1M2518.8 2034.6L2487.7 2065.6M2456.7 2096.6L2441.2 2112.1M2425.7 2127.6L2410.2 2143.1M2363.7 2189.7L2286.1 2267.2M2239.6 2313.7L2224.1 2329.2M2177.6 2375.8L2131.0 2422.3M2115.5 2437.8L2084.5 2468.8M2069.0 2484.3L2007.0 2546.4M1975.9 2577.4L1960.4 2592.9M1944.9 2608.4L1929.4 2623.9M3542.4 1042.0L3526.8 1057.5M3480.3 1104.0L3464.8 1119.5M3356.2 1228.1L3340.7 1243.6M3325.2 1259.1L3309.7 1274.6M3216.7 1367.7L3201.2 1383.2M3077.1 1507.3L3061.6 1522.8M2937.5 1646.9L2891.0 1693.4M2766.9 1817.5L2751.4 1833.0M2735.9 1848.5L2720.4 1864.0M2704.9 1879.5L2689.4 1895.0M2673.8 1910.5L2658.3 1926.0M2611.8 1972.5L2596.3 1988.0M2565.3 2019.1L2549.8 2034.6M2518.8 2065.6L2503.3 2081.1M2472.2 2112.1L2456.7 2127.6M2441.2 2143.1L2425.7 2158.6M2363.7 2220.7L2348.2 2236.2M2317.1 2267.2L2286.1 2298.2M2270.6 2313.7L2255.1 2329.2M2224.1 2360.3L2208.6 2375.8M2177.6 2406.8L2131.0 2453.3M2100.0 2484.3L2084.5 2499.8M2038.0 2546.4L1991.5 2592.9M1960.4 2623.9L1944.9 2639.4M3557.9 1057.5L3511.3 1104.0M3495.8 1119.5L3464.8 1150.6M3449.3 1166.1L3433.8 1181.6M3340.7 1274.6L3278.7 1336.7M3247.7 1367.7L3201.2 1414.2M3123.6 1491.8L3061.6 1553.8M3046.1 1569.3L2984.0 1631.3M2953.0 1662.4L2906.5 1708.9M2797.9 1817.5L2735.9 1879.5M2720.4 1895.0L2689.4 1926.0M2658.3 1957.0L2596.3 2019.1M2580.8 2034.6L2472.2 2143.1M2456.7 2158.6L2441.2 2174.2M2425.7 2189.7L2332.7 2282.7M2317.1 2298.2L2301.6 2313.7M2286.1 2329.2L2146.5 2468.8M2131.0 2484.3L2084.5 2530.9M2053.5 2561.9L2038.0 2577.4M2022.5 2592.9L1960.4 2654.9M3588.9 1057.5L3557.9 1088.5M3495.8 1150.6L3433.8 1212.6M3418.3 1228.1L3356.2 1290.1M3340.7 1305.7L3278.7 1367.7M3263.2 1383.2L3216.7 1429.7M3139.1 1507.3L3092.6 1553.8M3030.6 1615.8L2968.5 1677.9M2953.0 1693.4L2844.4 1801.9M2813.4 1833.0L2751.4 1895.0M2720.4 1926.0L2704.9 1941.5M2673.8 1972.5L2642.8 2003.6M2627.3 2019.1L2611.8 2034.6M2596.3 2050.1L2549.8 2096.6M2534.3 2112.1L2487.7 2158.6M2441.2 2205.2L2348.2 2298.2M2317.1 2329.2L2162.1 2484.3M2146.5 2499.8L2115.5 2530.9M2100.0 2546.4L2069.0 2577.4M2053.5 2592.9L2038.0 2608.4M1991.5 2654.9L1975.9 2670.4M3588.9 1088.5L3573.4 1104.0M3511.3 1166.1L3480.3 1197.1M3464.8 1212.6L3449.3 1228.1M3433.8 1243.6L3402.8 1274.6M3387.3 1290.1L3371.8 1305.7M3309.7 1367.7L3294.2 1383.2M3263.2 1414.2L3247.7 1429.7M3201.2 1476.3L3185.6 1491.8M3123.6 1553.8L3092.6 1584.8M3077.1 1600.3L3046.1 1631.3M3015.0 1662.4L2875.5 1801.9M2813.4 1864.0L2766.9 1910.5M2673.8 2003.6L2627.3 2050.1M2611.8 2065.6L2596.3 2081.1M2580.8 2096.6L2565.3 2112.1M2425.7 2251.7L2410.2 2267.2M2394.7 2282.7L2348.2 2329.2M2317.1 2360.3L2301.6 2375.8M2270.6 2406.8L2224.1 2453.3M2177.6 2499.8L2162.1 2515.4M2146.5 2530.9L2115.5 2561.9M2100.0 2577.4L2084.5 2592.9M2069.0 2608.4L2053.5 2623.9M2022.5 2654.9L1991.5 2686.0M3635.4 1073.0L3573.4 1135.1M3526.8 1181.6L3495.8 1212.6M3480.3 1228.1L3464.8 1243.6M3449.3 1259.1L3387.3 1321.2M3325.2 1383.2L3294.2 1414.2M3278.7 1429.7L3263.2 1445.2M3247.7 1460.7L3216.7 1491.8M3201.2 1507.3L3170.1 1538.3M3123.6 1584.8L3061.6 1646.9M3030.6 1677.9L2891.0 1817.5M2828.9 1879.5L2782.4 1926.0M2689.4 2019.1L2673.8 2034.6M2658.3 2050.1L2642.8 2065.6M2580.8 2127.6L2565.3 2143.1M2441.2 2267.2L2425.7 2282.7M2410.2 2298.2L2363.7 2344.8M2332.7 2375.8L2317.1 2391.3M2270.6 2437.8L2255.1 2453.3M2162.1 2546.4L2146.5 2561.9M2131.0 2577.4L2007.0 2701.5M3650.9 1088.5L3604.4 1135.1M3588.9 1150.6L3573.4 1166.1M3557.9 1181.6L3511.3 1228.1M3495.8 1243.6L3480.3 1259.1M3464.8 1274.6L3433.8 1305.7M3418.3 1321.2L3356.2 1383.2M3340.7 1398.7L3185.6 1553.8M3154.6 1584.8L3077.1 1662.4M3046.1 1693.4L2891.0 1848.5M2844.4 1895.0L2751.4 1988.0M2704.9 2034.6L2689.4 2050.1M2673.8 2065.6L2658.3 2081.1M2642.8 2096.6L2627.3 2112.1M2611.8 2127.6L2580.8 2158.6M2565.3 2174.2L2534.3 2205.2M2518.8 2220.7L2441.2 2298.2M2425.7 2313.7L2379.2 2360.3M2363.7 2375.8L2332.7 2406.8M2317.1 2422.3L2286.1 2453.3M2270.6 2468.8L2255.1 2484.3M2239.6 2499.8L2162.1 2577.4M2146.5 2592.9L2131.0 2608.4M2115.5 2623.9L2053.5 2686.0M2038.0 2701.5L2022.5 2717.0M3728.5 1042.0L3681.9 1088.5M3666.4 1104.0L3619.9 1150.6M3588.9 1181.6L3573.4 1197.1M3542.4 1228.1L3480.3 1290.1M3433.8 1336.7L3418.3 1352.2M3387.3 1383.2L3371.8 1398.7M3356.2 1414.2L3170.1 1600.3M3154.6 1615.8L3092.6 1677.9M3015.0 1755.4L2984.0 1786.4M2968.5 1801.9L2891.0 1879.5M2860.0 1910.5L2844.4 1926.0M2813.4 1957.0L2735.9 2034.6M2673.8 2096.6L2658.3 2112.1M2611.8 2158.6L2596.3 2174.2M2549.8 2220.7L2534.3 2236.2M2518.8 2251.7L2472.2 2298.2M2456.7 2313.7L2441.2 2329.2M2425.7 2344.8L2394.7 2375.8M2379.2 2391.3L2363.7 2406.8M2332.7 2437.8L2286.1 2484.3M2162.1 2608.4L2038.0 2732.5M3744.0 1057.5L3573.4 1228.1M3557.9 1243.6L3511.3 1290.1M3495.8 1305.7L3294.2 1507.3M3263.2 1538.3L3247.7 1553.8M3216.7 1584.8L3108.1 1693.4M3030.6 1770.9L2922.0 1879.5M2875.5 1926.0L2860.0 1941.5M2844.4 1957.0L2751.4 2050.1M2735.9 2065.6L2611.8 2189.7M2596.3 2205.2L2410.2 2391.3M2394.7 2406.8L2379.2 2422.3M2348.2 2453.3L2286.1 2515.4M2270.6 2530.9L2193.1 2608.4M2177.6 2623.9L2053.5 2748.0" stroke="#fff" stroke-opacity="0.22" stroke-width="0.9" fill="none"/>
<path d="M378.5 1042.0H564.6L471.6 1135.1ZM595.6 1042.0H626.7L611.2 1057.5ZM781.8 1042.0H1060.9L921.3 1181.6ZM1154.0 1042.0H1185.0L1169.5 1057.5ZM1216.0 1042.0H1960.4L1588.2 1414.2ZM1991.5 1042.0H2022.5L2007.0 1057.5ZM2053.5 1042.0H2177.6L2115.5 1104.0ZM2301.6 1042.0H2425.7L2363.7 1104.0ZM2456.7 1042.0H3697.4L3077.1 1662.4ZM3728.5 1042.0H3790.5L3759.5 1073.0Z" stroke="#000" stroke-width="2.6" fill="none" stroke-linejoin="miter"/>
<rect x="2662.00" y="2691.0" width="36.60" height="90.0" fill="#FFFFFF"/><rect x="2698.30" y="2691.0" width="36.60" height="90.0" fill="#FEFEF4"/><rect x="2734.61" y="2691.0" width="36.60" height="90.0" fill="#FDFDE9"/><rect x="2770.91" y="2691.0" width="36.60" height="90.0" fill="#FCFCDE"/><rect x="2807.21" y="2691.0" width="36.60" height="90.0" fill="#FBFAD3"/><rect x="2843.52" y="2691.0" width="36.60" height="90.0" fill="#FAF9C8"/><rect x="2879.82" y="2691.0" width="36.60" height="90.0" fill="#F9F8BD"/><rect x="2916.12" y="2691.0" width="36.60" height="90.0" fill="#F8F7B2"/><rect x="2952.42" y="2691.0" width="36.60" height="90.0" fill="#F8F6A8"/><rect x="2988.73" y="2691.0" width="36.60" height="90.0" fill="#F7F59D"/><rect x="3025.03" y="2691.0" width="36.60" height="90.0" fill="#F6F492"/><rect x="3061.33" y="2691.0" width="36.60" height="90.0" fill="#F5F387"/><rect x="3097.64" y="2691.0" width="36.60" height="90.0" fill="#F4F27C"/><rect x="3133.94" y="2691.0" width="36.60" height="90.0" fill="#F3F071"/><rect x="3170.24" y="2691.0" width="36.60" height="90.0" fill="#F2EF66"/><rect x="3206.55" y="2691.0" width="36.60" height="90.0" fill="#F1EE5B"/><rect x="3242.85" y="2691.0" width="36.60" height="90.0" fill="#F0ED50"/><rect x="3279.15" y="2691.0" width="36.60" height="90.0" fill="#F1DE4B"/><rect x="3315.45" y="2691.0" width="36.60" height="90.0" fill="#F2CF46"/><rect x="3351.76" y="2691.0" width="36.60" height="90.0" fill="#F3C141"/><rect x="3388.06" y="2691.0" width="36.60" height="90.0" fill="#F4B23C"/><rect x="3424.36" y="2691.0" width="36.60" height="90.0" fill="#F5A337"/><rect x="3460.67" y="2691.0" width="36.60" height="90.0" fill="#F69432"/><rect x="3496.97" y="2691.0" width="36.60" height="90.0" fill="#F7852D"/><rect x="3533.27" y="2691.0" width="36.60" height="90.0" fill="#F87628"/><rect x="3569.58" y="2691.0" width="36.60" height="90.0" fill="#F86823"/><rect x="3605.88" y="2691.0" width="36.60" height="90.0" fill="#F9591E"/><rect x="3642.18" y="2691.0" width="36.60" height="90.0" fill="#FA4A19"/><rect x="3678.48" y="2691.0" width="36.60" height="90.0" fill="#FB3B14"/><rect x="3714.79" y="2691.0" width="36.60" height="90.0" fill="#FC2C0F"/><rect x="3751.09" y="2691.0" width="36.60" height="90.0" fill="#FD1E0A"/><rect x="3787.39" y="2691.0" width="36.60" height="90.0" fill="#FE0F05"/><rect x="3823.70" y="2691.0" width="36.60" height="90.0" fill="#FF0000"/>
<rect x="2662.0" y="2691.0" width="1198.0" height="90.0" fill="none" stroke="#000" stroke-width="2.6"/>
<text x="3243.7" y="2605" font-size="86.5" text-anchor="middle">D' Color Key</text>
<text x="2665" y="2866" font-size="86" text-anchor="middle">0.0</text>
<text x="3825" y="2866" font-size="85" text-anchor="middle">1.0</text>
</svg>
</body></html>
